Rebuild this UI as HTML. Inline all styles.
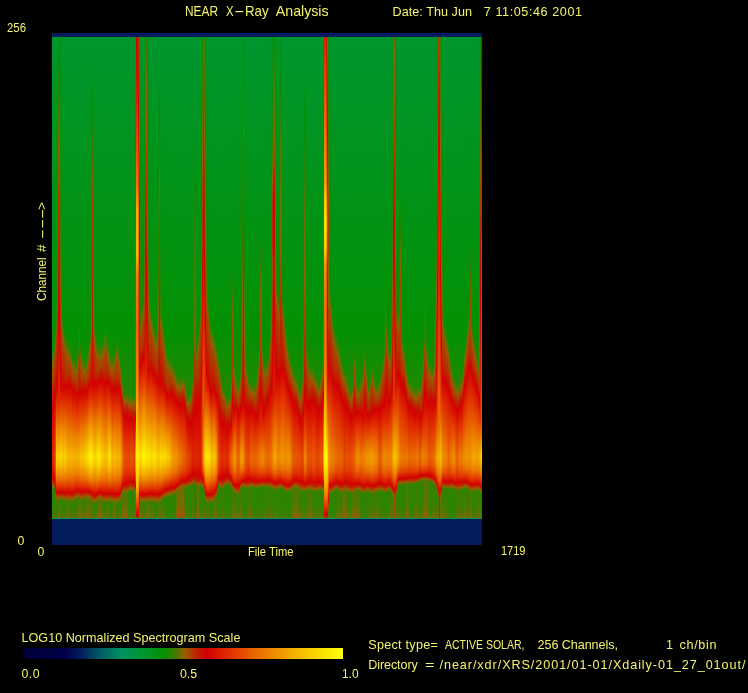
<!DOCTYPE html>
<html><head><meta charset="utf-8"><title>NEAR X-Ray Analysis</title>
<style>
html,body{margin:0;padding:0;background:#000}
body{width:748px;height:693px;position:relative;overflow:hidden;font-family:"Liberation Sans",sans-serif;color:#f4f46c}
.g{position:absolute;left:0;top:0;width:0;height:0;white-space:pre}
.t{position:absolute;white-space:pre;line-height:1;display:block}
#plot{position:absolute;left:52px;top:33px;width:430px;height:512px;display:flex;overflow:hidden}
#plot i{display:block;flex:0 0 1px;width:1px;height:512px}
#cb{position:absolute;left:22.5px;top:648px;width:320.5px;height:11px;background:linear-gradient(90deg,rgb(0,0,55) 0.0%,rgb(0,0,75) 13.0%,rgb(2,28,92) 18.0%,rgb(0,90,100) 24.0%,rgb(0,145,95) 31.0%,rgb(0,150,50) 37.0%,rgb(3,145,4) 44.0%,rgb(72,122,0) 47.8%,rgb(150,95,0) 50.5%,rgb(190,35,0) 54.0%,rgb(210,0,0) 57.5%,rgb(225,50,0) 65.0%,rgb(235,120,0) 75.0%,rgb(245,178,0) 85.0%,rgb(252,232,0) 95.0%,rgb(255,255,20) 100.0%)}
</style></head><body>
<div id="plot">
<i style="background:linear-gradient(#021c5c 0.5px,#021c5c 3.5px,#00962f 4.5px,#039104 296.5px,#0d8e03 318.5px,#457b00 326.5px,#936000 333.5px,#a64700 337.5px,#ac3e00 347.5px,#bf2100 354.5px,#d20000 375.5px,#dd2400 423.5px,#db1c00 432.5px,#d10200 443.5px,#be2300 448.5px,#ad3d00 450.5px,#a14e00 451.5px,#896400 452.5px,#607200 453.5px,#3d7e01 454.5px,#2d8302 455.5px,#2d8302 478.5px,#3e7d01 484.5px,#00934c 485.5px,#021c5c 486.5px,#021c5c 511.5px)"></i>
<i style="background:linear-gradient(#021c5c 0.5px,#021c5c 3.5px,#00962f 4.5px,#039104 296.5px,#0c8e03 315.5px,#0e8d03 316.5px,#4a7900 324.5px,#965e00 331.5px,#a74500 335.5px,#b03800 349.5px,#be2300 354.5px,#d20100 372.5px,#df2c00 423.5px,#dc2100 434.5px,#d30200 444.5px,#d00400 445.5px,#bf2100 449.5px,#a24d00 452.5px,#8c6200 453.5px,#417c00 455.5px,#2d8302 456.5px,#2d8302 476.5px,#447b00 484.5px,#00934c 485.5px,#021c5c 486.5px,#021c5c 511.5px)"></i>
<i style="background:linear-gradient(#021c5c 0.5px,#021c5c 3.5px,#00962f 4.5px,#049104 295.5px,#0a8f04 306.5px,#477a00 315.5px,#906100 322.5px,#a74500 327.5px,#ab3f00 335.5px,#b53000 345.5px,#d20000 366.5px,#e33f00 423.5px,#e23b00 429.5px,#e13200 434.5px,#db1f00 440.5px,#d30300 446.5px,#d00300 447.5px,#c11e00 450.5px,#b92b00 451.5px,#a05000 453.5px,#896300 454.5px,#417c00 456.5px,#2d8302 457.5px,#2d8302 473.5px,#527600 484.5px,#00934c 485.5px,#021c5c 486.5px,#021c5c 511.5px)"></i>
<i style="background:linear-gradient(#021c5c 0.5px,#021c5c 3.5px,#00962f 4.5px,#01941e 97.5px,#029211 217.5px,#039104 278.5px,#108d03 295.5px,#497a00 304.5px,#975e00 312.5px,#a64800 316.5px,#b03800 329.5px,#ca0e00 354.5px,#d20000 359.5px,#e13200 391.5px,#e86000 423.5px,#e75900 431.5px,#e44900 438.5px,#df2a00 446.5px,#d10100 454.5px,#c01f00 457.5px,#9d5400 460.5px,#896300 461.5px,#4a7900 463.5px,#368001 464.5px,#2d8302 465.5px,#2d8302 474.5px,#4c7900 484.5px,#00934c 485.5px,#021c5c 486.5px,#021c5c 511.5px)"></i>
<i style="background:linear-gradient(#021c5c 0.5px,#021c5c 3.5px,#00962e 4.5px,#02920c 211.5px,#039104 241.5px,#368001 289.5px,#467b00 292.5px,#975d00 301.5px,#a74500 306.5px,#af3900 318.5px,#d20000 354.5px,#e13200 370.5px,#eb7700 390.5px,#fad600 423.5px,#f9ce00 427.5px,#f6be00 432.5px,#ef9100 441.5px,#eb7800 445.5px,#e13400 453.5px,#d40700 458.5px,#d00300 459.5px,#c02000 461.5px,#a24d00 463.5px,#975e00 464.5px,#447b00 467.5px,#328101 468.5px,#2d8302 469.5px,#2d8302 478.5px,#3d7e01 484.5px,#00934c 485.5px,#021c5c 486.5px,#021c5c 511.5px)"></i>
<i style="background:linear-gradient(#021c5c 0.5px,#021c5c 3.5px,#019526 4.5px,#039104 132.5px,#298402 157.5px,#3c7e01 217.5px,#4f7700 232.5px,#965f00 266.5px,#be2300 308.5px,#d20000 347.5px,#d60d00 359.5px,#e13300 371.5px,#eb7700 391.5px,#f9d200 423.5px,#f8ca00 427.5px,#f6ba00 432.5px,#e80 442.5px,#e75f00 448.5px,#e13400 453.5px,#d20100 459.5px,#c21d00 461.5px,#a54800 463.5px,#9a5900 464.5px,#846500 465.5px,#4a7900 467.5px,#387f01 468.5px,#2d8302 469.5px,#2d8302 474.5px,#4d7800 484.5px,#00934c 485.5px,#021c5c 486.5px,#021c5c 511.5px)"></i>
<i style="background:linear-gradient(#021c5c 0.5px,#021c5c 3.5px,#029313 4.5px,#039104 30.5px,#487a00 78.5px,#936000 117.5px,#9d5500 148.5px,#ad3d00 157.5px,#b62f00 203.5px,#be2300 217.5px,#d20000 277.5px,#d30300 286.5px,#de2900 369.5px,#eb7a00 393.5px,#f9ce00 423.5px,#f6b700 432.5px,#ee8b00 441.5px,#ea7300 445.5px,#e13200 453.5px,#d40700 458.5px,#d00300 459.5px,#c01f00 461.5px,#a44a00 463.5px,#995b00 464.5px,#487a00 467.5px,#507700 473.5px,#856500 484.5px,#00934c 485.5px,#021c5c 486.5px,#021c5c 511.5px)"></i>
<i style="background:linear-gradient(#021c5c 0.5px,#021c5c 3.5px,#029312 4.5px,#049104 28.5px,#497a00 74.5px,#866400 104.5px,#995b00 116.5px,#a24d00 151.5px,#ad3d00 157.5px,#b43300 191.5px,#be2300 211.5px,#d20000 273.5px,#d60d00 305.5px,#df2a00 369.5px,#eb7900 392.5px,#f9d100 423.5px,#f8c900 427.5px,#f6b900 432.5px,#ef8c00 441.5px,#e86400 447.5px,#e13100 453.5px,#d30500 458.5px,#ce0700 459.5px,#be2300 461.5px,#ad3c00 462.5px,#926000 464.5px,#587400 466.5px,#4c7900 467.5px,#547600 473.5px,#896300 484.5px,#00934c 485.5px,#021c5c 486.5px,#021c5c 511.5px)"></i>
<i style="background:linear-gradient(#021c5c 0.5px,#021c5c 3.5px,#019423 4.5px,#039104 99.5px,#1b8903 148.5px,#298402 157.5px,#2f8201 177.5px,#487a00 205.5px,#5b7300 217.5px,#965f00 247.5px,#be2300 293.5px,#d20000 335.5px,#d60d00 358.5px,#e13400 370.5px,#eb7900 390.5px,#fad800 423.5px,#f9d000 427.5px,#f7bf00 432.5px,#ef9100 441.5px,#e96800 447.5px,#e13300 453.5px,#d40500 458.5px,#ce0700 459.5px,#c61500 460.5px,#bd2500 461.5px,#ac3e00 462.5px,#8f6100 464.5px,#557500 466.5px,#3e7d01 467.5px,#318201 468.5px,#368001 473.5px,#487a00 479.5px,#607200 484.5px,#00934c 485.5px,#021c5c 486.5px,#021c5c 511.5px)"></i>
<i style="background:linear-gradient(#021c5c 0.5px,#021c5c 3.5px,#00952d 4.5px,#039104 221.5px,#338101 266.5px,#487a00 282.5px,#587500 289.5px,#965f00 296.5px,#a74500 301.5px,#ae3b00 313.5px,#d20100 352.5px,#e13300 369.5px,#eb7a00 390.5px,#fad600 423.5px,#f9ce00 427.5px,#f6bd00 432.5px,#ef9000 441.5px,#e96700 447.5px,#e13300 453.5px,#d40600 458.5px,#cf0600 459.5px,#be2200 461.5px,#ae3b00 462.5px,#936000 464.5px,#597400 466.5px,#407d00 467.5px,#2e8302 468.5px,#2d8302 474.5px,#4d7800 484.5px,#00934c 485.5px,#021c5c 486.5px,#021c5c 511.5px)"></i>
<i style="background:linear-gradient(#021c5c 0.5px,#021c5c 3.5px,#00962e 4.5px,#029210 216.5px,#039104 264.5px,#168b03 286.5px,#477a00 294.5px,#916100 302.5px,#a64700 307.5px,#b03700 321.5px,#cc0a00 350.5px,#d20100 353.5px,#e13300 370.5px,#eb7900 392.5px,#f8cc00 423.5px,#f5b500 432.5px,#ee8a00 441.5px,#ea7100 445.5px,#e13100 453.5px,#d40600 458.5px,#d00400 459.5px,#c01f00 461.5px,#a44b00 463.5px,#985c00 464.5px,#467b00 467.5px,#348101 468.5px,#2d8302 469.5px,#2d8302 477.5px,#407d00 484.5px,#00934c 485.5px,#021c5c 486.5px,#021c5c 511.5px)"></i>
<i style="background:linear-gradient(#021c5c 0.5px,#021c5c 3.5px,#00962f 4.5px,#039104 286.5px,#088f04 291.5px,#497a00 301.5px,#965f00 309.5px,#a54900 313.5px,#af3a00 325.5px,#c71400 348.5px,#d20000 353.5px,#e13200 370.5px,#eb7900 392.5px,#f8cd00 423.5px,#f5b600 432.5px,#ed8600 442.5px,#e75c00 448.5px,#e13400 453.5px,#d20100 459.5px,#c31a00 461.5px,#9d5500 464.5px,#8b6300 465.5px,#527700 467.5px,#3c7e01 468.5px,#2d8302 469.5px,#2d8302 480.5px,#378001 484.5px,#00934c 485.5px,#021c5c 486.5px,#021c5c 511.5px)"></i>
<i style="background:linear-gradient(#021c5c 0.5px,#021c5c 3.5px,#00962f 4.5px,#039104 295.5px,#059004 296.5px,#477a00 306.5px,#965f00 314.5px,#a54800 318.5px,#ae3a00 329.5px,#c21c00 346.5px,#d20000 353.5px,#e13400 370.5px,#eb7a00 391.5px,#f9d200 423.5px,#f6ba00 432.5px,#ee8a00 442.5px,#e86100 448.5px,#e02f00 454.5px,#d30400 459.5px,#cd0800 460.5px,#bd2500 462.5px,#ad3d00 463.5px,#936000 465.5px,#5a7400 467.5px,#427c00 468.5px,#308201 469.5px,#2d8302 479.5px,#3c7e01 484.5px,#00934c 485.5px,#021c5c 486.5px,#021c5c 511.5px)"></i>
<i style="background:linear-gradient(#021c5c 0.5px,#021c5c 3.5px,#00962f 4.5px,#049104 299.5px,#069004 300.5px,#4b7900 310.5px,#926000 317.5px,#a44a00 321.5px,#a74500 322.5px,#b13700 334.5px,#c02000 345.5px,#d20100 353.5px,#e13400 370.5px,#eb7900 391.5px,#f9cf00 423.5px,#f6b800 432.5px,#e80 442.5px,#e86000 448.5px,#e02e00 454.5px,#d30300 459.5px,#cd0900 460.5px,#bd2500 462.5px,#ad3d00 463.5px,#936000 465.5px,#5a7400 467.5px,#427c00 468.5px,#308201 469.5px,#2f8201 473.5px,#487a00 481.5px,#567500 484.5px,#00934c 485.5px,#021c5c 486.5px,#021c5c 511.5px)"></i>
<i style="background:linear-gradient(#021c5c 0.5px,#021c5c 3.5px,#00962f 4.5px,#01941e 96.5px,#069004 303.5px,#487a00 313.5px,#985c00 321.5px,#a74500 325.5px,#ad3d00 333.5px,#b92a00 343.5px,#d20100 353.5px,#e13300 371.5px,#eb7900 393.5px,#f8c700 423.5px,#f5b200 432.5px,#ed8400 442.5px,#e75c00 448.5px,#e13400 453.5px,#d20100 459.5px,#cc0b00 460.5px,#ba2900 462.5px,#9e5300 464.5px,#8e6200 465.5px,#557500 467.5px,#427c00 468.5px,#477a00 473.5px,#7b6800 484.5px,#00934c 485.5px,#021c5c 486.5px,#021c5c 511.5px)"></i>
<i style="background:linear-gradient(#021c5c 0.5px,#021c5c 3.5px,#00962f 4.5px,#039104 296.5px,#079004 306.5px,#447b00 315.5px,#965f00 323.5px,#9a5900 324.5px,#a64700 327.5px,#b53100 342.5px,#c02000 345.5px,#d10100 353.5px,#e13400 372.5px,#eb7800 395.5px,#f6bd00 423.5px,#f4aa00 432.5px,#eb7a00 443.5px,#e13200 453.5px,#d20000 459.5px,#c31b00 461.5px,#9c5500 464.5px,#8a6300 465.5px,#517700 467.5px,#457b00 468.5px,#4b7900 473.5px,#806700 484.5px,#00934c 485.5px,#021c5c 486.5px,#021c5c 511.5px)"></i>
<i style="background:linear-gradient(#021c5c 0.5px,#021c5c 3.5px,#00962f 4.5px,#039104 296.5px,#088f04 307.5px,#0a8f04 308.5px,#4a7900 317.5px,#956000 324.5px,#9a5a00 325.5px,#a74500 329.5px,#b13600 340.5px,#c02000 344.5px,#d10200 352.5px,#d20100 353.5px,#e13300 372.5px,#eb7900 397.5px,#f5b500 423.5px,#f3a400 432.5px,#ec7c00 442.5px,#e75d00 447.5px,#e03000 453.5px,#d20100 459.5px,#c21b00 461.5px,#9c5600 464.5px,#896300 465.5px,#507700 467.5px,#3b7e01 468.5px,#387f01 469.5px,#3c7e01 473.5px,#487a00 477.5px,#6a6e00 484.5px,#00934c 485.5px,#021c5c 486.5px,#021c5c 511.5px)"></i>
<i style="background:linear-gradient(#021c5c 0.5px,#021c5c 3.5px,#00962f 4.5px,#039104 296.5px,#088f04 308.5px,#457b00 317.5px,#975e00 325.5px,#a74600 329.5px,#ae3b00 338.5px,#c02000 343.5px,#d20100 352.5px,#e13200 371.5px,#eb7900 397.5px,#f5b300 423.5px,#f2a300 432.5px,#ec7c00 442.5px,#e54f00 449.5px,#e13100 453.5px,#d20000 459.5px,#b92a00 462.5px,#9e5400 464.5px,#8d6200 465.5px,#547600 467.5px,#3e7d01 468.5px,#2e8302 469.5px,#328101 473.5px,#477a00 480.5px,#5a7400 484.5px,#00934c 485.5px,#021c5c 486.5px,#021c5c 511.5px)"></i>
<i style="background:linear-gradient(#021c5c 0.5px,#021c5c 3.5px,#00962f 4.5px,#039104 296.5px,#0a8f04 311.5px,#487a00 320.5px,#946000 327.5px,#995a00 328.5px,#a64800 331.5px,#ad3d00 339.5px,#c02000 344.5px,#d10100 352.5px,#d20200 353.5px,#e13100 371.5px,#eb7800 396.5px,#f6b600 423.5px,#f3a600 432.5px,#eb7900 443.5px,#e13300 453.5px,#d30200 459.5px,#cd0900 460.5px,#bd2500 462.5px,#ad3c00 463.5px,#946000 465.5px,#437c00 468.5px,#318201 469.5px,#338101 473.5px,#487a00 480.5px,#5b7300 484.5px,#00934c 485.5px,#021c5c 486.5px,#021c5c 511.5px)"></i>
<i style="background:linear-gradient(#021c5c 0.5px,#021c5c 3.5px,#00962f 4.5px,#039104 296.5px,#0c8e03 316.5px,#0e8d03 317.5px,#4a7900 325.5px,#975e00 332.5px,#a74500 336.5px,#ab3f00 342.5px,#bf2000 347.5px,#d20000 355.5px,#e13200 373.5px,#eb7900 397.5px,#f6ba00 423.5px,#f3a800 432.5px,#eb7b00 443.5px,#e13500 453.5px,#d30500 459.5px,#cf0600 460.5px,#c02000 462.5px,#a44a00 464.5px,#995b00 465.5px,#497a00 468.5px,#378001 469.5px,#3a7f01 473.5px,#467b00 477.5px,#667000 484.5px,#00934c 485.5px,#021c5c 486.5px,#021c5c 511.5px)"></i>
<i style="background:linear-gradient(#021c5c 0.5px,#021c5c 3.5px,#00962f 4.5px,#039104 296.5px,#0f8d03 322.5px,#4b7900 330.5px,#916100 336.5px,#985b00 337.5px,#a64800 340.5px,#aa4100 345.5px,#bf2200 350.5px,#d20000 358.5px,#e13400 376.5px,#eb7800 398.5px,#f6b700 423.5px,#f3a600 432.5px,#eb7a00 443.5px,#e13500 453.5px,#d40600 459.5px,#d00400 460.5px,#c11e00 462.5px,#9a5900 465.5px,#856500 466.5px,#4d7800 468.5px,#397f01 469.5px,#397f01 472.5px,#477a00 477.5px,#686f00 484.5px,#00934c 485.5px,#021c5c 486.5px,#021c5c 511.5px)"></i>
<i style="background:linear-gradient(#021c5c 0.5px,#021c5c 3.5px,#00962f 4.5px,#039104 296.5px,#108d03 324.5px,#457b00 331.5px,#955f00 338.5px,#a74500 342.5px,#aa4100 346.5px,#bf2100 351.5px,#d20100 359.5px,#e13100 376.5px,#eb7700 399.5px,#f5b300 423.5px,#f2a300 432.5px,#ec7d00 442.5px,#e55100 449.5px,#e13300 453.5px,#d30300 459.5px,#ce0800 460.5px,#bf2200 462.5px,#a24d00 464.5px,#975d00 465.5px,#467b00 468.5px,#348101 469.5px,#2f8201 470.5px,#338101 473.5px,#487a00 480.5px,#5b7300 484.5px,#00934c 485.5px,#021c5c 486.5px,#021c5c 511.5px)"></i>
<i style="background:linear-gradient(#021c5c 0.5px,#021c5c 3.5px,#00962f 4.5px,#039104 296.5px,#0f8d03 323.5px,#4c7900 331.5px,#926100 337.5px,#995b00 338.5px,#a64700 341.5px,#ab3f00 345.5px,#bd2400 349.5px,#d20100 358.5px,#e13300 376.5px,#eb7900 400.5px,#f5b000 423.5px,#f2a000 432.5px,#eb7a00 442.5px,#e23600 452.5px,#d40600 458.5px,#d00300 459.5px,#c11e00 461.5px,#9a5900 464.5px,#846500 465.5px,#4b7900 467.5px,#387f01 468.5px,#2d8302 469.5px,#308201 473.5px,#487a00 481.5px,#577500 484.5px,#00934c 485.5px,#021c5c 486.5px,#021c5c 511.5px)"></i>
<i style="background:linear-gradient(#021c5c 0.5px,#021c5c 3.5px,#00962f 4.5px,#039104 296.5px,#108d03 325.5px,#447b00 332.5px,#946000 339.5px,#a74500 343.5px,#aa4000 346.5px,#bd2500 350.5px,#d20100 359.5px,#e13300 377.5px,#eb7800 400.5px,#f5b000 423.5px,#f2a000 432.5px,#eb7700 442.5px,#e13100 452.5px,#d10100 458.5px,#c21c00 460.5px,#9b5800 463.5px,#856500 464.5px,#4b7900 466.5px,#378001 467.5px,#2e8301 468.5px,#338101 473.5px,#487a00 480.5px,#5b7300 484.5px,#00934c 485.5px,#021c5c 486.5px,#021c5c 511.5px)"></i>
<i style="background:linear-gradient(#021c5c 0.5px,#021c5c 3.5px,#00962f 4.5px,#039104 296.5px,#118c03 327.5px,#487a00 334.5px,#985c00 341.5px,#a64800 344.5px,#aa4000 349.5px,#bd2500 353.5px,#d10100 361.5px,#e13200 378.5px,#eb7700 400.5px,#f5b300 423.5px,#f3a400 431.5px,#ec7c00 441.5px,#e54d00 448.5px,#d30300 457.5px,#cd0a00 458.5px,#bb2700 460.5px,#9e5300 462.5px,#8c6200 463.5px,#517700 465.5px,#3b7e01 466.5px,#328101 467.5px,#378001 473.5px,#497a00 479.5px,#617100 484.5px,#00934c 485.5px,#021c5c 486.5px,#021c5c 511.5px)"></i>
<i style="background:linear-gradient(#021c5c 0.5px,#021c5c 3.5px,#00962f 4.5px,#039104 296.5px,#0f8d03 323.5px,#118c03 324.5px,#477a00 331.5px,#975e00 338.5px,#a74500 342.5px,#b23400 352.5px,#c02000 355.5px,#d10100 362.5px,#e13200 379.5px,#eb7900 401.5px,#f5b300 423.5px,#f3a400 431.5px,#ec7b00 441.5px,#e54b00 448.5px,#d20100 457.5px,#c31b00 459.5px,#9b5800 462.5px,#846500 463.5px,#487a00 465.5px,#387f01 466.5px,#3e7d01 473.5px,#4b7900 477.5px,#6d6d00 484.5px,#00934c 485.5px,#021c5c 486.5px,#021c5c 511.5px)"></i>
<i style="background:linear-gradient(#021c5c 0.5px,#021c5c 3.5px,#00962f 4.5px,#039104 296.5px,#0a8f04 312.5px,#0d8e03 313.5px,#477a00 321.5px,#936000 328.5px,#a54800 332.5px,#af3900 342.5px,#bf2100 353.5px,#d20000 361.5px,#e13200 378.5px,#eb7700 400.5px,#f5b100 423.5px,#f2a300 431.5px,#ec7b00 441.5px,#e54c00 448.5px,#d30300 457.5px,#cc0a00 458.5px,#bb2700 460.5px,#9e5300 462.5px,#8c6200 463.5px,#517700 465.5px,#437c00 466.5px,#497a00 473.5px,#7e6700 484.5px,#00934c 485.5px,#021c5c 486.5px,#021c5c 511.5px)"></i>
<i style="background:linear-gradient(#021c5c 0.5px,#021c5c 3.5px,#00962f 4.5px,#039105 292.5px,#497a00 303.5px,#975e00 311.5px,#a54800 315.5px,#b03800 328.5px,#d20000 359.5px,#e13100 376.5px,#eb7900 399.5px,#f6b600 423.5px,#f5b100 427.5px,#f3a400 432.5px,#eb7a00 442.5px,#e13100 452.5px,#d40700 457.5px,#d10300 458.5px,#c11e00 460.5px,#995b00 463.5px,#627100 465.5px,#4c7900 466.5px,#557500 473.5px,#8a6300 484.5px,#00934c 485.5px,#021c5c 486.5px,#021c5c 511.5px)"></i>
<i style="background:linear-gradient(#021c5c 0.5px,#021c5c 3.5px,#00962f 4.5px,#039104 296.5px,#098f04 309.5px,#467b00 318.5px,#906100 325.5px,#a44a00 329.5px,#b03900 340.5px,#bf2000 351.5px,#d20100 359.5px,#e13100 375.5px,#eb7a00 397.5px,#f7c000 423.5px,#f6ba00 427.5px,#f4ac00 432.5px,#ec7f00 442.5px,#e65600 448.5px,#e02d00 453.5px,#d30300 458.5px,#cd0900 459.5px,#bc2600 461.5px,#9f5200 463.5px,#8f6100 464.5px,#557500 466.5px,#4d7800 467.5px,#567500 473.5px,#8b6300 484.5px,#00934c 485.5px,#021c5c 486.5px,#021c5c 511.5px)"></i>
<i style="background:linear-gradient(#021c5c 0.5px,#021c5c 3.5px,#00962f 4.5px,#039104 296.5px,#0e8d03 319.5px,#4a7900 327.5px,#975d00 334.5px,#a74500 338.5px,#b13700 348.5px,#be2200 351.5px,#d20000 359.5px,#e13200 375.5px,#eb7a00 396.5px,#f8c600 423.5px,#f5b100 432.5px,#ed8200 442.5px,#e65800 448.5px,#e03000 453.5px,#d30500 458.5px,#ce0600 459.5px,#bf2200 461.5px,#a24e00 463.5px,#965f00 464.5px,#5d7300 466.5px,#487a00 467.5px,#507700 473.5px,#856500 484.5px,#00934c 485.5px,#021c5c 486.5px,#021c5c 511.5px)"></i>
<i style="background:linear-gradient(#021c5c 0.5px,#021c5c 3.5px,#00962f 4.5px,#039104 296.5px,#0f8d03 323.5px,#4c7900 331.5px,#926000 337.5px,#995b00 338.5px,#a64700 341.5px,#aa4000 346.5px,#bf2100 351.5px,#d20100 359.5px,#e13200 375.5px,#eb7800 396.5px,#f7c300 423.5px,#f5b200 431.5px,#ec8100 442.5px,#e65700 448.5px,#e02f00 453.5px,#d30400 458.5px,#ce0700 459.5px,#be2200 461.5px,#a14f00 463.5px,#955f00 464.5px,#427c00 467.5px,#378001 468.5px,#3a7f01 472.5px,#487a00 477.5px,#696e00 484.5px,#00934c 485.5px,#021c5c 486.5px,#021c5c 511.5px)"></i>
<i style="background:linear-gradient(#021c5c 0.5px,#021c5c 3.5px,#00962f 4.5px,#039104 296.5px,#108d03 324.5px,#138c03 325.5px,#4b7900 332.5px,#916100 338.5px,#995b00 339.5px,#a64700 342.5px,#aa4100 345.5px,#bf2100 350.5px,#d20000 358.5px,#e13300 375.5px,#eb7800 396.5px,#f7c100 423.5px,#f5b100 431.5px,#ec7f00 442.5px,#e65600 448.5px,#e02d00 453.5px,#d30200 458.5px,#cc0a00 459.5px,#bb2700 461.5px,#ab4000 462.5px,#8e6200 464.5px,#547600 466.5px,#3d7e01 467.5px,#2d8302 468.5px,#308201 473.5px,#487a00 481.5px,#577500 484.5px,#00934c 485.5px,#021c5c 486.5px,#021c5c 511.5px)"></i>
<i style="background:linear-gradient(#021c5c 0.5px,#021c5c 3.5px,#00962f 4.5px,#039104 296.5px,#108d03 325.5px,#477a00 332.5px,#975d00 339.5px,#a54900 342.5px,#a94200 345.5px,#bf2100 350.5px,#d20100 358.5px,#e13300 374.5px,#eb7800 394.5px,#f8ca00 423.5px,#f7c300 427.5px,#f5b300 432.5px,#ed8200 442.5px,#e86600 446.5px,#e13500 452.5px,#d20000 458.5px,#c21b00 460.5px,#9b5800 463.5px,#856500 464.5px,#4a7900 466.5px,#378001 467.5px,#328101 468.5px,#368001 473.5px,#497a00 479.5px,#617100 484.5px,#00934c 485.5px,#021c5c 486.5px,#021c5c 511.5px)"></i>
<i style="background:linear-gradient(#021c5c 0.5px,#021c5c 3.5px,#00962f 4.5px,#039104 296.5px,#118c03 326.5px,#477a00 333.5px,#975d00 340.5px,#a54900 343.5px,#aa4100 347.5px,#be2300 351.5px,#d10200 358.5px,#d30200 359.5px,#e13100 373.5px,#eb7800 392.5px,#fad700 423.5px,#f9cf00 427.5px,#f6bd00 432.5px,#ef8f00 441.5px,#e86400 447.5px,#e02f00 453.5px,#d20000 458.5px,#c11e00 460.5px,#a34b00 462.5px,#985c00 463.5px,#447b00 466.5px,#3c7e01 467.5px,#3f7d01 472.5px,#477a00 475.5px,#726c00 484.5px,#00934c 485.5px,#021c5c 486.5px,#021c5c 511.5px)"></i>
<i style="background:linear-gradient(#021c5c 0.5px,#021c5c 3.5px,#00962f 4.5px,#039104 296.5px,#108d03 324.5px,#128c03 325.5px,#487a00 332.5px,#985c00 339.5px,#a54800 342.5px,#aa4100 347.5px,#bd2400 351.5px,#d10200 358.5px,#d30200 359.5px,#e13200 373.5px,#eb7900 392.5px,#fad900 423.5px,#f9d100 427.5px,#f7bf00 432.5px,#ef9000 441.5px,#e96d00 446.5px,#e02e00 453.5px,#d10200 458.5px,#c01f00 460.5px,#a24d00 462.5px,#965f00 463.5px,#5b7400 465.5px,#477a00 466.5px,#507700 473.5px,#856500 484.5px,#00934c 485.5px,#021c5c 486.5px,#021c5c 511.5px)"></i>
<i style="background:linear-gradient(#021c5c 0.5px,#021c5c 3.5px,#00962f 4.5px,#039104 296.5px,#0e8d03 319.5px,#477a00 327.5px,#965f00 334.5px,#a74500 338.5px,#ad3d00 345.5px,#be2200 349.5px,#d10200 356.5px,#d30200 357.5px,#e13400 372.5px,#eb7900 391.5px,#fada00 423.5px,#f9d200 427.5px,#f7c000 432.5px,#ef9100 441.5px,#ea6e00 446.5px,#e02f00 453.5px,#d10200 458.5px,#c02000 460.5px,#a14e00 462.5px,#955f00 463.5px,#5b7300 465.5px,#657000 473.5px,#985c00 484.5px,#00934c 485.5px,#021c5c 486.5px,#021c5c 511.5px)"></i>
<i style="background:linear-gradient(#021c5c 0.5px,#021c5c 3.5px,#00962f 4.5px,#039104 296.5px,#0a8f04 312.5px,#487a00 321.5px,#946000 328.5px,#9a5a00 329.5px,#a64700 332.5px,#b03700 343.5px,#be2400 346.5px,#d10200 353.5px,#d30200 354.5px,#e13100 368.5px,#eb7800 387.5px,#fce600 423.5px,#f9cf00 431.5px,#f5b300 437.5px,#f19a00 441.5px,#eb7700 446.5px,#e13400 453.5px,#d30200 458.5px,#c11d00 460.5px,#a24c00 462.5px,#975e00 463.5px,#5d7300 465.5px,#647000 473.5px,#975d00 484.5px,#00934c 485.5px,#021c5c 486.5px,#021c5c 511.5px)"></i>
<i style="background:linear-gradient(#021c5c 0.5px,#021c5c 3.5px,#00962f 4.5px,#039104 294.5px,#088f04 304.5px,#447b00 313.5px,#955f00 321.5px,#9a5900 322.5px,#a74500 326.5px,#ac3e00 333.5px,#b72d00 342.5px,#d20100 351.5px,#e13100 365.5px,#eb7900 384.5px,#fce600 418.5px,#fdf209 423.5px,#fbe000 430.5px,#f4ab00 440.5px,#eb7800 447.5px,#e13100 454.5px,#d40600 458.5px,#ce0700 459.5px,#c41800 460.5px,#a54900 462.5px,#995a00 463.5px,#816600 464.5px,#477a00 466.5px,#437c00 467.5px,#497a00 473.5px,#7e6700 484.5px,#00934c 485.5px,#021c5c 486.5px,#021c5c 511.5px)"></i>
<i style="background:linear-gradient(#021c5c 0.5px,#021c5c 3.5px,#00962f 4.5px,#01941e 97.5px,#029210 217.5px,#039104 274.5px,#168b03 297.5px,#497a00 305.5px,#975e00 313.5px,#a64800 317.5px,#ae3a00 328.5px,#c01f00 343.5px,#d10200 349.5px,#d30200 350.5px,#e13200 364.5px,#eb7a00 383.5px,#fce500 417.5px,#fef40b 423.5px,#fdec04 427.5px,#fbde00 431.5px,#f3a800 441.5px,#ea7300 448.5px,#e23600 454.5px,#d20100 459.5px,#bf2100 461.5px,#ad3c00 462.5px,#906100 464.5px,#567500 466.5px,#3f7d01 467.5px,#358001 468.5px,#387f01 472.5px,#467b00 477.5px,#666f00 484.5px,#00934c 485.5px,#021c5c 486.5px,#021c5c 511.5px)"></i>
<i style="background:linear-gradient(#021c5c 0.5px,#021c5c 3.5px,#00962f 4.5px,#039104 157.5px,#1d8803 209.5px,#3f7d01 247.5px,#4d7800 258.5px,#965f00 295.5px,#9e5200 305.5px,#a74500 308.5px,#ae3b00 319.5px,#c81100 346.5px,#d20000 350.5px,#e13300 365.5px,#eb7a00 384.5px,#fce800 419.5px,#fdf108 423.5px,#fbe000 430.5px,#f4ae00 440.5px,#eb7600 448.5px,#e13100 455.5px,#d40800 459.5px,#d00400 460.5px,#bd2500 462.5px,#aa4100 463.5px,#8d6200 465.5px,#547600 467.5px,#3e7d01 468.5px,#3e7d01 472.5px,#467b00 475.5px,#706c00 484.5px,#00934c 485.5px,#021c5c 486.5px,#021c5c 511.5px)"></i>
<i style="background:linear-gradient(#021c5c 0.5px,#021c5c 3.5px,#00962f 4.5px,#00952b 26.5px,#049104 77.5px,#487a00 116.5px,#955f00 147.5px,#a74600 166.5px,#ae3b00 198.5px,#be2300 242.5px,#d20000 322.5px,#d50b00 354.5px,#e13200 366.5px,#eb7800 385.5px,#fce901 423.5px,#fbe200 427.5px,#f9d100 432.5px,#f19e00 442.5px,#eb7500 448.5px,#e13500 455.5px,#d40500 460.5px,#ce0700 461.5px,#c61600 462.5px,#bc2700 463.5px,#aa4100 464.5px,#9e5300 465.5px,#8e6200 466.5px,#567500 468.5px,#467b00 469.5px,#4b7900 473.5px,#806600 484.5px,#00934c 485.5px,#021c5c 486.5px,#021c5c 511.5px)"></i>
<i style="background:linear-gradient(#021c5c 0.5px,#021c5c 3.5px,#00962f 4.5px,#00952b 26.5px,#039104 137.5px,#188a03 166.5px,#298402 204.5px,#417c00 233.5px,#507700 245.5px,#8c6300 278.5px,#975e00 284.5px,#ba2900 327.5px,#cb0c00 347.5px,#d10100 350.5px,#e13400 367.5px,#eb7700 387.5px,#fadc00 423.5px,#f9d200 428.5px,#f7c100 433.5px,#ef9000 443.5px,#e96800 449.5px,#e23600 455.5px,#d20100 461.5px,#c31b00 463.5px,#b72d00 464.5px,#a74500 465.5px,#9c5500 466.5px,#8b6300 467.5px,#547600 469.5px,#3f7d01 470.5px,#368001 471.5px,#477a00 478.5px,#647000 484.5px,#00934c 485.5px,#021c5c 486.5px,#021c5c 511.5px)"></i>
<i style="background:linear-gradient(#021c5c 0.5px,#021c5c 3.5px,#00962f 4.5px,#01941e 97.5px,#02920f 216.5px,#039104 264.5px,#1d8802 293.5px,#497a00 300.5px,#965f00 308.5px,#a74500 313.5px,#ae3b00 323.5px,#c31a00 343.5px,#d20100 350.5px,#e13200 367.5px,#eb7900 389.5px,#f9d300 423.5px,#f8ca00 428.5px,#f6ba00 433.5px,#ee8b00 443.5px,#e86400 449.5px,#e13500 455.5px,#d30300 461.5px,#cd0900 462.5px,#bd2400 464.5px,#ae3b00 465.5px,#965e00 467.5px,#477a00 470.5px,#368001 471.5px,#2d8302 472.5px,#2d8302 478.5px,#3f7d01 484.5px,#00934c 485.5px,#021c5c 486.5px,#021c5c 511.5px)"></i>
<i style="background:linear-gradient(#021c5c 0.5px,#021c5c 3.5px,#00962f 4.5px,#069004 297.5px,#457b00 307.5px,#946000 315.5px,#995a00 316.5px,#a74500 320.5px,#ad3c00 329.5px,#bd2500 341.5px,#d20000 350.5px,#e13200 367.5px,#eb7a00 389.5px,#fad500 423.5px,#f8cc00 428.5px,#f6bb00 433.5px,#ee8c00 443.5px,#e86500 449.5px,#e13500 455.5px,#d30200 461.5px,#cc0a00 462.5px,#bc2600 464.5px,#ac3e00 465.5px,#946000 467.5px,#457b00 470.5px,#348101 471.5px,#2d8302 472.5px,#2d8302 479.5px,#3c7e01 484.5px,#00934c 485.5px,#021c5c 486.5px,#021c5c 511.5px)"></i>
<i style="background:linear-gradient(#021c5c 0.5px,#021c5c 3.5px,#00962f 4.5px,#039104 296.5px,#079004 304.5px,#4b7900 314.5px,#936000 321.5px,#995b00 322.5px,#a74500 326.5px,#b43200 340.5px,#bf2100 343.5px,#d20100 351.5px,#e13300 367.5px,#eb7800 387.5px,#fbde00 423.5px,#f8c600 432.5px,#f09600 442.5px,#eb7800 447.5px,#e13500 455.5px,#d10200 461.5px,#c11e00 463.5px,#a44a00 465.5px,#995a00 466.5px,#836600 467.5px,#4c7900 469.5px,#397f01 470.5px,#2d8302 471.5px,#2e8302 473.5px,#467b00 481.5px,#547600 484.5px,#00934c 485.5px,#021c5c 486.5px,#021c5c 511.5px)"></i>
<i style="background:linear-gradient(#021c5c 0.5px,#021c5c 3.5px,#00962f 4.5px,#039104 296.5px,#088f04 308.5px,#467b00 317.5px,#985c00 325.5px,#a74500 329.5px,#af3900 339.5px,#bd2500 342.5px,#d20000 350.5px,#e13400 366.5px,#eb7800 385.5px,#fce700 423.5px,#fbdf00 427.5px,#f9ce00 432.5px,#f5b200 438.5px,#f19b00 442.5px,#ea7200 448.5px,#e13200 455.5px,#d30200 460.5px,#c31b00 462.5px,#a54800 464.5px,#9a5900 465.5px,#856500 466.5px,#4d7800 468.5px,#417c00 469.5px,#487a00 474.5px,#786900 484.5px,#00934c 485.5px,#021c5c 486.5px,#021c5c 511.5px)"></i>
<i style="background:linear-gradient(#021c5c 0.5px,#021c5c 3.5px,#00962f 4.5px,#039104 296.5px,#098f04 309.5px,#0b8e04 310.5px,#447b00 318.5px,#975e00 326.5px,#a74600 330.5px,#ac3e00 337.5px,#be2300 341.5px,#d20100 349.5px,#e13200 364.5px,#eb7900 384.5px,#fce600 420.5px,#fdec04 423.5px,#fce700 426.5px,#fad600 431.5px,#f2a300 441.5px,#ea7100 448.5px,#e23700 454.5px,#d30500 459.5px,#cd0800 460.5px,#c41800 461.5px,#b82c00 462.5px,#a64700 463.5px,#9b5800 464.5px,#866500 465.5px,#696f00 466.5px,#567500 467.5px,#5e7200 473.5px,#936000 484.5px,#00934c 485.5px,#021c5c 486.5px,#021c5c 511.5px)"></i>
<i style="background:linear-gradient(#021c5c 0.5px,#021c5c 3.5px,#00962f 4.5px,#039104 296.5px,#098f04 310.5px,#0c8e03 311.5px,#457b00 319.5px,#985d00 327.5px,#a74500 331.5px,#ab4000 336.5px,#bd2400 340.5px,#d20000 348.5px,#e13400 364.5px,#eb7a00 384.5px,#fceb03 423.5px,#fce600 426.5px,#fad500 431.5px,#f6bd00 436.5px,#f2a000 441.5px,#eb7500 447.5px,#e13200 454.5px,#d10200 459.5px,#bf2200 461.5px,#ad3d00 462.5px,#906100 464.5px,#736b00 465.5px,#696f00 466.5px,#6f6c00 472.5px,#946000 480.5px,#9d5500 484.5px,#00934c 485.5px,#021c5c 486.5px,#021c5c 511.5px)"></i>
<i style="background:linear-gradient(#021c5c 0.5px,#021c5c 3.5px,#00962f 4.5px,#039104 296.5px,#098f04 310.5px,#4a7900 319.5px,#955f00 326.5px,#a64700 330.5px,#a94200 334.5px,#bf2200 339.5px,#d20000 347.5px,#e13100 363.5px,#eb7700 384.5px,#fbe300 423.5px,#f9cd00 431.5px,#f2a000 440.5px,#eb7800 446.5px,#e23800 453.5px,#d40700 458.5px,#cf0500 459.5px,#bd2400 461.5px,#ab3f00 462.5px,#8e6200 464.5px,#577500 466.5px,#607200 473.5px,#955f00 484.5px,#00934c 485.5px,#021c5c 486.5px,#021c5c 511.5px)"></i>
<i style="background:linear-gradient(#021c5c 0.5px,#021c5c 3.5px,#00962f 4.5px,#039104 296.5px,#088f04 308.5px,#477a00 317.5px,#916100 324.5px,#985c00 325.5px,#a74500 329.5px,#a94300 332.5px,#bf2100 338.5px,#d20100 346.5px,#e13300 364.5px,#eb7800 386.5px,#fad800 423.5px,#f9d000 427.5px,#f7bf00 432.5px,#ef8c00 442.5px,#e96a00 447.5px,#e23600 453.5px,#d10100 459.5px,#c11e00 461.5px,#a44a00 463.5px,#985b00 464.5px,#477a00 467.5px,#3c7e01 468.5px,#3f7d01 472.5px,#477a00 475.5px,#726c00 484.5px,#00934c 485.5px,#021c5c 486.5px,#021c5c 511.5px)"></i>
<i style="background:linear-gradient(#021c5c 0.5px,#021c5c 3.5px,#00962f 4.5px,#039104 296.5px,#079004 306.5px,#0b8e04 307.5px,#4a7900 316.5px,#946000 323.5px,#995a00 324.5px,#a74500 328.5px,#ad3d00 334.5px,#bd2400 338.5px,#d10100 347.5px,#e13100 365.5px,#eb7a00 389.5px,#f9cf00 423.5px,#f6b800 432.5px,#ee8900 442.5px,#e86000 448.5px,#e02f00 454.5px,#d30400 459.5px,#ce0700 460.5px,#bf2200 462.5px,#a24d00 464.5px,#975e00 465.5px,#457b00 468.5px,#378001 469.5px,#3a7f01 473.5px,#477a00 477.5px,#676f00 484.5px,#00934c 485.5px,#021c5c 486.5px,#021c5c 511.5px)"></i>
<i style="background:linear-gradient(#021c5c 0.5px,#021c5c 3.5px,#00962f 4.5px,#039104 296.5px,#079004 305.5px,#447b00 314.5px,#965f00 322.5px,#a64700 326.5px,#b13700 337.5px,#bd2500 340.5px,#d10100 349.5px,#e13100 367.5px,#eb7a00 391.5px,#f8cb00 423.5px,#f7c100 428.5px,#f5b200 433.5px,#ed8200 443.5px,#e96900 447.5px,#e13200 454.5px,#d20100 460.5px,#ba2900 463.5px,#ab4000 464.5px,#906100 466.5px,#417c00 469.5px,#3a7f01 470.5px,#477a00 476.5px,#6c6d00 484.5px,#00934c 485.5px,#021c5c 486.5px,#021c5c 511.5px)"></i>
<i style="background:linear-gradient(#021c5c 0.5px,#021c5c 3.5px,#00962f 4.5px,#059004 300.5px,#477a00 310.5px,#975e00 318.5px,#a64700 322.5px,#ad3c00 331.5px,#b82c00 340.5px,#d20100 351.5px,#e13200 369.5px,#eb7700 392.5px,#f7c500 423.5px,#f5b200 432.5px,#ed8100 443.5px,#e65300 450.5px,#e13400 454.5px,#d30300 460.5px,#ce0800 461.5px,#bf2200 463.5px,#a34c00 465.5px,#985d00 466.5px,#487a00 469.5px,#378001 470.5px,#318201 471.5px,#467b00 479.5px,#5c7300 484.5px,#00934c 485.5px,#021c5c 486.5px,#021c5c 511.5px)"></i>
<i style="background:linear-gradient(#021c5c 0.5px,#021c5c 3.5px,#00962f 4.5px,#039105 289.5px,#477a00 300.5px,#936000 308.5px,#a74500 313.5px,#ad3c00 323.5px,#c31a00 343.5px,#d20000 350.5px,#e13200 369.5px,#eb7700 393.5px,#f7be00 423.5px,#f4ad00 432.5px,#ec7f00 443.5px,#e55100 450.5px,#e13300 454.5px,#d30300 460.5px,#cd0900 461.5px,#be2300 463.5px,#a24d00 465.5px,#975e00 466.5px,#467b00 469.5px,#358001 470.5px,#2d8302 471.5px,#2e8302 473.5px,#537600 484.5px,#00934c 485.5px,#021c5c 486.5px,#021c5c 511.5px)"></i>
<i style="background:linear-gradient(#021c5c 0.5px,#021c5c 3.5px,#00962f 4.5px,#049104 298.5px,#457b00 308.5px,#946000 316.5px,#995a00 317.5px,#a74500 321.5px,#ad3d00 329.5px,#b72d00 338.5px,#d10100 349.5px,#e13100 368.5px,#eb7900 393.5px,#f7c000 423.5px,#f4ae00 432.5px,#ec7f00 443.5px,#e75e00 448.5px,#e13100 454.5px,#d20000 460.5px,#b92a00 463.5px,#aa4100 464.5px,#8f6200 466.5px,#577500 468.5px,#407d00 469.5px,#368001 470.5px,#397f01 473.5px,#487a00 478.5px,#657000 484.5px,#00934c 485.5px,#021c5c 486.5px,#021c5c 511.5px)"></i>
<i style="background:linear-gradient(#021c5c 0.5px,#021c5c 3.5px,#00962f 4.5px,#039104 296.5px,#079004 305.5px,#447b00 314.5px,#965f00 322.5px,#a64700 326.5px,#b13700 337.5px,#bd2500 340.5px,#d10100 349.5px,#e13100 367.5px,#eb7800 390.5px,#f8cc00 423.5px,#f5b600 432.5px,#ee8700 442.5px,#ea6f00 446.5px,#e03000 454.5px,#d40600 459.5px,#d00300 460.5px,#c11e00 462.5px,#9a5900 465.5px,#856500 466.5px,#4d7800 468.5px,#417c00 469.5px,#487a00 474.5px,#786a00 484.5px,#00934c 485.5px,#021c5c 486.5px,#021c5c 511.5px)"></i>
<i style="background:linear-gradient(#021c5c 0.5px,#021c5c 3.5px,#00962f 4.5px,#039104 296.5px,#098f04 310.5px,#487a00 319.5px,#936000 326.5px,#995b00 327.5px,#a74500 331.5px,#aa4000 336.5px,#bf2200 341.5px,#d20000 349.5px,#e13300 366.5px,#eb7900 387.5px,#fadc00 423.5px,#f9d400 427.5px,#f7c400 432.5px,#f09200 442.5px,#ea7200 447.5px,#e23600 454.5px,#d10100 460.5px,#c11e00 462.5px,#a44b00 464.5px,#995b00 465.5px,#487a00 468.5px,#3f7d00 469.5px,#467b00 474.5px,#756a00 484.5px,#00934c 485.5px,#021c5c 486.5px,#021c5c 511.5px)"></i>
<i style="background:linear-gradient(#021c5c 0.5px,#021c5c 3.5px,#00962f 4.5px,#039104 296.5px,#0b8e04 314.5px,#0d8e03 315.5px,#487a00 323.5px,#955f00 330.5px,#a64600 334.5px,#ab4000 338.5px,#bd2400 342.5px,#d20100 350.5px,#e13100 365.5px,#eb7800 385.5px,#fce800 423.5px,#fbe000 427.5px,#f9cf00 432.5px,#f19b00 442.5px,#ea7200 448.5px,#e13200 455.5px,#d30200 460.5px,#c21b00 462.5px,#a54900 464.5px,#9a5900 465.5px,#846500 466.5px,#4c7900 468.5px,#397f01 469.5px,#2d8302 470.5px,#2e8301 476.5px,#477a00 484.5px,#00934c 485.5px,#021c5c 486.5px,#021c5c 511.5px)"></i>
<i style="background:linear-gradient(#021c5c 0.5px,#021c5c 3.5px,#00962f 4.5px,#039104 296.5px,#0e8d03 319.5px,#108d03 320.5px,#447b00 327.5px,#926000 334.5px,#995b00 335.5px,#a64700 338.5px,#ab4000 341.5px,#be2400 345.5px,#d20000 353.5px,#e13100 368.5px,#eb7800 388.5px,#fbdf00 423.5px,#fad700 427.5px,#f8c600 432.5px,#f09500 442.5px,#e96d00 448.5px,#e03000 455.5px,#d30300 460.5px,#cc0a00 461.5px,#c41900 462.5px,#9d5500 465.5px,#8c6300 466.5px,#547600 468.5px,#2d8302 470.5px,#2e8302 484.5px,#00934c 485.5px,#021c5c 486.5px,#021c5c 511.5px)"></i>
<i style="background:linear-gradient(#021c5c 0.5px,#021c5c 3.5px,#00962f 4.5px,#039104 296.5px,#0f8d03 322.5px,#118c03 323.5px,#477a00 330.5px,#965e00 337.5px,#a44a00 340.5px,#a84500 342.5px,#bf2000 348.5px,#d20000 356.5px,#e13200 373.5px,#eb7900 395.5px,#f7c400 423.5px,#f5b100 432.5px,#ec8000 443.5px,#e96700 447.5px,#e13200 454.5px,#d20200 460.5px,#cc0a00 461.5px,#bc2600 463.5px,#ad3d00 464.5px,#946000 466.5px,#447b00 469.5px,#328101 470.5px,#2d8302 471.5px,#2d8302 480.5px,#397f01 484.5px,#00934c 485.5px,#021c5c 486.5px,#021c5c 511.5px)"></i>
<i style="background:linear-gradient(#021c5c 0.5px,#021c5c 3.5px,#00962f 4.5px,#039104 296.5px,#0f8d03 322.5px,#4c7900 330.5px,#916100 336.5px,#995b00 337.5px,#a64700 340.5px,#aa4000 343.5px,#bf2100 348.5px,#d20100 356.5px,#e13100 374.5px,#eb7800 398.5px,#f5b400 423.5px,#f3a500 432.5px,#eb7b00 443.5px,#e54f00 450.5px,#e13100 454.5px,#d30200 460.5px,#cd0900 461.5px,#be2200 463.5px,#a24c00 465.5px,#985d00 466.5px,#487a00 469.5px,#368001 470.5px,#2d8302 471.5px,#2f8201 474.5px,#507700 484.5px,#00934c 485.5px,#021c5c 486.5px,#021c5c 511.5px)"></i>
<i style="background:linear-gradient(#021c5c 0.5px,#021c5c 3.5px,#00962f 4.5px,#039104 296.5px,#0e8d03 320.5px,#108d03 321.5px,#457b00 328.5px,#946000 335.5px,#9a5a00 336.5px,#a74600 339.5px,#aa4100 343.5px,#bf2100 348.5px,#d20100 356.5px,#e13200 374.5px,#eb7700 397.5px,#f6b700 423.5px,#f3a700 432.5px,#ec7c00 443.5px,#e55000 450.5px,#e13300 454.5px,#d30400 460.5px,#ce0600 461.5px,#c02000 463.5px,#9a5900 466.5px,#846500 467.5px,#4e7800 469.5px,#527700 473.5px,#876400 484.5px,#00934c 485.5px,#021c5c 486.5px,#021c5c 511.5px)"></i>
<i style="background:linear-gradient(#021c5c 0.5px,#021c5c 3.5px,#00962f 4.5px,#039104 296.5px,#0d8e03 317.5px,#0f8d03 318.5px,#4b7900 326.5px,#975d00 333.5px,#a74500 337.5px,#ac3e00 343.5px,#bd2500 347.5px,#d20100 356.5px,#e13200 373.5px,#eb7700 395.5px,#f7c100 423.5px,#f4af00 432.5px,#ed8100 443.5px,#e96900 447.5px,#e23600 454.5px,#d40600 460.5px,#d00300 461.5px,#c21d00 463.5px,#9c5500 466.5px,#8b6300 467.5px,#706c00 468.5px,#5b7400 469.5px,#617100 473.5px,#965f00 484.5px,#00934c 485.5px,#021c5c 486.5px,#021c5c 511.5px)"></i>
<i style="background:linear-gradient(#021c5c 0.5px,#021c5c 3.5px,#00962f 4.5px,#039104 296.5px,#0b8e04 313.5px,#447b00 321.5px,#985d00 329.5px,#a74500 333.5px,#b23500 344.5px,#bf2200 347.5px,#d10100 355.5px,#e13300 373.5px,#eb7900 395.5px,#f7c200 423.5px,#f5b000 432.5px,#ed8200 443.5px,#e96a00 447.5px,#e23700 454.5px,#d10100 461.5px,#b92b00 464.5px,#aa4100 465.5px,#906100 467.5px,#427c00 470.5px,#338101 471.5px,#477a00 479.5px,#5f7200 484.5px,#00934c 485.5px,#021c5c 486.5px,#021c5c 511.5px)"></i>
<i style="background:linear-gradient(#021c5c 0.5px,#021c5c 3.5px,#00962f 4.5px,#039104 296.5px,#079004 306.5px,#0a8f04 307.5px,#497a00 316.5px,#926000 323.5px,#995b00 324.5px,#a74500 328.5px,#ad3c00 336.5px,#bb2800 346.5px,#d20100 356.5px,#e13300 374.5px,#eb7800 397.5px,#f6b800 423.5px,#f3a800 432.5px,#ec7e00 443.5px,#e86000 448.5px,#e13500 454.5px,#d10200 461.5px,#b92b00 464.5px,#aa4200 465.5px,#8f6100 467.5px,#597400 469.5px,#427c00 470.5px,#318201 471.5px,#2d8302 472.5px,#2d8302 480.5px,#387f01 484.5px,#00934c 485.5px,#021c5c 486.5px,#021c5c 511.5px)"></i>
<i style="background:linear-gradient(#021c5c 0.5px,#021c5c 3.5px,#00962f 4.5px,#039104 296.5px,#079004 306.5px,#088f04 307.5px,#477a00 316.5px,#985c00 324.5px,#a74500 328.5px,#ad3d00 336.5px,#ba2800 346.5px,#d20000 356.5px,#e13300 375.5px,#eb7800 399.5px,#f5b000 423.5px,#f2a100 432.5px,#eb7900 443.5px,#e44800 451.5px,#d30500 460.5px,#cf0500 461.5px,#c11e00 463.5px,#9b5700 466.5px,#886400 467.5px,#517700 469.5px,#2d8302 471.5px,#2d8302 479.5px,#3c7e01 484.5px,#00934c 485.5px,#021c5c 486.5px,#021c5c 511.5px)"></i>
<i style="background:linear-gradient(#021c5c 0.5px,#021c5c 3.5px,#00962f 4.5px,#039104 296.5px,#0b8e04 313.5px,#447b00 321.5px,#975d00 329.5px,#a74500 333.5px,#b03800 343.5px,#bf2100 347.5px,#d10200 355.5px,#d20200 356.5px,#e13300 374.5px,#eb7900 398.5px,#f5b500 423.5px,#f3a500 432.5px,#eb7b00 443.5px,#e54e00 450.5px,#d20200 460.5px,#cc0a00 461.5px,#bd2500 463.5px,#ae3b00 464.5px,#965f00 466.5px,#457b00 469.5px,#348101 470.5px,#2d8302 471.5px,#487a00 481.5px,#577500 484.5px,#00934c 485.5px,#021c5c 486.5px,#021c5c 511.5px)"></i>
<i style="background:linear-gradient(#021c5c 0.5px,#021c5c 3.5px,#00962f 4.5px,#039104 296.5px,#0d8e03 318.5px,#0f8d03 319.5px,#447b00 326.5px,#916100 333.5px,#985c00 334.5px,#a54800 337.5px,#ad3d00 344.5px,#be2200 348.5px,#d10200 356.5px,#d20100 357.5px,#e13100 374.5px,#eb7700 397.5px,#f6b800 423.5px,#f3a700 432.5px,#ec8000 442.5px,#e86200 447.5px,#e23600 453.5px,#d40700 459.5px,#d00300 460.5px,#c21d00 462.5px,#9c5700 465.5px,#886400 466.5px,#507700 468.5px,#3c7e01 469.5px,#2e8301 470.5px,#318201 473.5px,#477a00 480.5px,#597400 484.5px,#00934c 485.5px,#021c5c 486.5px,#021c5c 511.5px)"></i>
<i style="background:linear-gradient(#021c5c 0.5px,#021c5c 3.5px,#00962f 4.5px,#039104 296.5px,#118c03 326.5px,#138c03 327.5px,#4b7900 334.5px,#936000 340.5px,#995a00 341.5px,#a74600 344.5px,#ab4000 348.5px,#be2300 352.5px,#d10100 360.5px,#d30200 361.5px,#e13200 378.5px,#eb7700 401.5px,#f4ac00 423.5px,#f19d00 432.5px,#ec7b00 441.5px,#e54f00 448.5px,#e13200 452.5px,#d20100 458.5px,#cc0b00 459.5px,#ba2800 461.5px,#9e5300 463.5px,#8d6200 464.5px,#537600 466.5px,#3d7e01 467.5px,#2d8302 468.5px,#2e8302 473.5px,#537600 484.5px,#00934c 485.5px,#021c5c 486.5px,#021c5c 511.5px)"></i>
<i style="background:linear-gradient(#021c5c 0.5px,#021c5c 3.5px,#00962f 4.5px,#039104 296.5px,#158b03 336.5px,#457b00 342.5px,#916100 348.5px,#995b00 349.5px,#a74500 352.5px,#a84400 354.5px,#bd2400 358.5px,#d20100 366.5px,#e13200 384.5px,#eb7700 408.5px,#f19800 423.5px,#ef9000 430.5px,#eb7800 438.5px,#e44900 446.5px,#d30300 455.5px,#cd0800 456.5px,#bd2400 458.5px,#9f5200 460.5px,#8d6200 461.5px,#4e7800 463.5px,#3a7f01 464.5px,#417c00 473.5px,#4b7900 476.5px,#726c00 484.5px,#00934c 485.5px,#021c5c 486.5px,#021c5c 511.5px)"></i>
<i style="background:linear-gradient(#021c5c 0.5px,#021c5c 3.5px,#00962f 4.5px,#039104 296.5px,#1b8903 347.5px,#1f8802 348.5px,#447b00 352.5px,#965e00 358.5px,#a74600 361.5px,#a84500 362.5px,#be2300 366.5px,#d20100 374.5px,#e13400 393.5px,#ec7e00 423.5px,#eb7800 430.5px,#e86300 437.5px,#e33e00 444.5px,#d30500 452.5px,#cf0500 453.5px,#c02000 455.5px,#936000 458.5px,#716c00 459.5px,#557500 460.5px,#607200 472.5px,#975e00 484.5px,#00934c 485.5px,#021c5c 486.5px,#021c5c 511.5px)"></i>
<i style="background:linear-gradient(#021c5c 0.5px,#021c5c 3.5px,#00962f 4.5px,#039104 296.5px,#1f8802 356.5px,#437c00 360.5px,#8e6200 365.5px,#995b00 366.5px,#a54900 368.5px,#a74500 369.5px,#c02000 373.5px,#d20100 381.5px,#e13200 402.5px,#e75e00 423.5px,#e65800 430.5px,#e44900 436.5px,#df2c00 443.5px,#d30400 450.5px,#cf0500 451.5px,#c31b00 453.5px,#ba2900 454.5px,#9f5200 456.5px,#896400 457.5px,#667000 458.5px,#547600 459.5px,#5f7200 472.5px,#975e00 484.5px,#00934c 485.5px,#021c5c 486.5px,#021c5c 511.5px)"></i>
<i style="background:linear-gradient(#021c5c 0.5px,#021c5c 3.5px,#00962f 4.5px,#039104 296.5px,#208702 359.5px,#258602 360.5px,#437c00 363.5px,#985c00 369.5px,#a84400 372.5px,#bd2500 375.5px,#d20000 384.5px,#e13100 407.5px,#e55000 423.5px,#e44a00 430.5px,#e33d00 436.5px,#dd2400 443.5px,#d20000 450.5px,#ba2800 454.5px,#a14e00 456.5px,#906100 457.5px,#4d7800 459.5px,#587400 472.5px,#906100 484.5px,#00934c 485.5px,#021c5c 486.5px,#021c5c 511.5px)"></i>
<i style="background:linear-gradient(#021c5c 0.5px,#021c5c 3.5px,#00962f 4.5px,#039104 296.5px,#208702 359.5px,#228702 360.5px,#4b7900 364.5px,#965e00 369.5px,#bc2600 375.5px,#d20000 384.5px,#e13200 407.5px,#e55000 423.5px,#e54b00 430.5px,#e33e00 436.5px,#dd2500 443.5px,#d20100 450.5px,#ce0700 451.5px,#bc2500 454.5px,#965f00 457.5px,#527600 459.5px,#5d7300 472.5px,#955f00 484.5px,#00934c 485.5px,#021c5c 486.5px,#021c5c 511.5px)"></i>
<i style="background:linear-gradient(#021c5c 0.5px,#021c5c 3.5px,#00962f 4.5px,#039104 296.5px,#208702 358.5px,#477a00 362.5px,#946000 367.5px,#bf2100 374.5px,#d10200 382.5px,#e13200 407.5px,#e54f00 423.5px,#e44a00 430.5px,#e33d00 436.5px,#dd2400 443.5px,#d20100 450.5px,#bc2500 454.5px,#965e00 457.5px,#547600 459.5px,#5f7200 472.5px,#975e00 484.5px,#00934c 485.5px,#021c5c 486.5px,#021c5c 511.5px)"></i>
<i style="background:linear-gradient(#021c5c 0.5px,#021c5c 3.5px,#00962f 4.5px,#039104 296.5px,#208702 358.5px,#467b00 362.5px,#926000 367.5px,#9a5900 368.5px,#bf2200 374.5px,#d20000 383.5px,#e13200 408.5px,#e54c00 423.5px,#e44700 430.5px,#e23a00 436.5px,#dd2600 442.5px,#d10200 450.5px,#c11e00 453.5px,#b92b00 454.5px,#a05000 456.5px,#8c6200 457.5px,#477a00 459.5px,#427c00 460.5px,#4a7900 472.5px,#826600 484.5px,#00934c 485.5px,#021c5c 486.5px,#021c5c 511.5px)"></i>
<i style="background:linear-gradient(#021c5c 0.5px,#021c5c 3.5px,#00962f 4.5px,#039104 296.5px,#218702 361.5px,#497a00 365.5px,#955f00 370.5px,#bc2600 376.5px,#d20100 385.5px,#e13100 409.5px,#e44a00 423.5px,#e44500 430.5px,#e23800 436.5px,#db1f00 443.5px,#d20100 449.5px,#bd2500 453.5px,#975e00 456.5px,#507700 458.5px,#378001 459.5px,#2d8302 460.5px,#338101 473.5px,#487a00 480.5px,#5b7300 484.5px,#00934c 485.5px,#021c5c 486.5px,#021c5c 511.5px)"></i>
<i style="background:linear-gradient(#021c5c 0.5px,#021c5c 3.5px,#00962f 4.5px,#039104 296.5px,#228702 362.5px,#457b00 366.5px,#8f6200 371.5px,#995a00 372.5px,#bf2200 378.5px,#d20000 386.5px,#e13200 409.5px,#e54c00 423.5px,#e44800 429.5px,#e23c00 435.5px,#dc2200 442.5px,#d30400 448.5px,#d00400 449.5px,#bf2100 452.5px,#995a00 455.5px,#557500 457.5px,#397f01 458.5px,#2d8302 459.5px,#2e8302 476.5px,#467b00 484.5px,#00934c 485.5px,#021c5c 486.5px,#021c5c 511.5px)"></i>
<i style="background:linear-gradient(#021c5c 0.5px,#021c5c 3.5px,#00962f 4.5px,#039104 296.5px,#218702 361.5px,#268502 362.5px,#447b00 365.5px,#985c00 371.5px,#be2300 377.5px,#d20100 385.5px,#e13100 407.5px,#e55100 423.5px,#e54c00 429.5px,#e33f00 435.5px,#dd2400 442.5px,#d30300 448.5px,#cf0600 449.5px,#bb2700 452.5px,#a05000 454.5px,#8a6300 455.5px,#437c00 457.5px,#2d8302 458.5px,#2d8302 477.5px,#427c00 484.5px,#00934c 485.5px,#021c5c 486.5px,#021c5c 511.5px)"></i>
<i style="background:linear-gradient(#021c5c 0.5px,#021c5c 3.5px,#00962f 4.5px,#039104 296.5px,#218702 361.5px,#467b00 365.5px,#906100 370.5px,#9a5900 371.5px,#bf2200 377.5px,#d20100 385.5px,#e13100 406.5px,#e65500 423.5px,#e55000 429.5px,#e34200 435.5px,#dd2600 442.5px,#d30400 448.5px,#cf0500 449.5px,#c31a00 451.5px,#bb2700 452.5px,#a05000 454.5px,#896300 455.5px,#427c00 457.5px,#2d8302 458.5px,#2d8302 473.5px,#507700 484.5px,#00934c 485.5px,#021c5c 486.5px,#021c5c 511.5px)"></i>
<i style="background:linear-gradient(#021c5c 0.5px,#021c5c 3.5px,#00962f 4.5px,#039104 296.5px,#228702 362.5px,#4a7900 366.5px,#946000 371.5px,#bf2100 378.5px,#d20100 386.5px,#e13200 407.5px,#e65300 423.5px,#e54f00 429.5px,#e34100 435.5px,#df2b00 441.5px,#d10200 449.5px,#bf2100 452.5px,#975d00 455.5px,#4f7800 457.5px,#358001 458.5px,#318201 461.5px,#3a7f01 473.5px,#4a7900 478.5px,#676f00 484.5px,#00934c 485.5px,#021c5c 486.5px,#021c5c 511.5px)"></i>
<i style="background:linear-gradient(#021c5c 0.5px,#021c5c 3.5px,#00962f 4.5px,#039104 296.5px,#228702 362.5px,#258602 363.5px,#437c00 366.5px,#985d00 372.5px,#bf2100 379.5px,#d20100 387.5px,#e13100 409.5px,#e54d00 423.5px,#e44700 430.5px,#e23a00 436.5px,#db1f00 443.5px,#d20000 449.5px,#b92a00 453.5px,#a05000 455.5px,#8b6300 456.5px,#457b00 458.5px,#2e8302 459.5px,#2d8302 463.5px,#358001 473.5px,#477a00 479.5px,#5e7200 484.5px,#00934c 485.5px,#021c5c 486.5px,#021c5c 511.5px)"></i>
<i style="background:linear-gradient(#021c5c 0.5px,#021c5c 3.5px,#00962f 4.5px,#039104 296.5px,#228702 362.5px,#258602 363.5px,#437c00 366.5px,#975d00 372.5px,#a34b00 374.5px,#ab4000 376.5px,#be2200 379.5px,#d10200 387.5px,#e44600 423.5px,#e34100 430.5px,#e13500 436.5px,#db1d00 443.5px,#d20100 449.5px,#be2200 453.5px,#9a5900 456.5px,#3d7e01 459.5px,#2d8302 460.5px,#2d8302 474.5px,#4d7800 484.5px,#00934c 485.5px,#021c5c 486.5px,#021c5c 511.5px)"></i>
<i style="background:linear-gradient(#021c5c 0.5px,#021c5c 3.5px,#01941e 4.5px,#039104 112.5px,#1b8903 151.5px,#378001 177.5px,#487a00 221.5px,#3b7e01 242.5px,#487a00 297.5px,#7b6800 347.5px,#955f00 364.5px,#995b00 371.5px,#a54900 373.5px,#a84300 375.5px,#be2200 378.5px,#d10200 383.5px,#d30300 384.5px,#e13100 395.5px,#eb7600 411.5px,#f2a000 423.5px,#f09400 430.5px,#eb7900 437.5px,#e44900 444.5px,#d20100 452.5px,#c11d00 454.5px,#a24e00 456.5px,#965f00 457.5px,#487a00 478.5px,#407d00 482.5px,#467b00 484.5px,#00934c 485.5px,#021c5c 486.5px,#021c5c 511.5px)"></i>
<i style="background:linear-gradient(#021c5c 0.5px,#021c5c 3.5px,#cf0500 4.5px,#d20000 10.5px,#db1f00 67.5px,#eb7700 151.5px,#f4ac00 177.5px,#f6b700 221.5px,#ed8300 242.5px,#e96a00 297.5px,#ee8a00 347.5px,#fce800 415.5px,#fdf107 422.5px,#fce700 430.5px,#f7bf00 452.5px,#ec7c00 463.5px,#e13200 474.5px,#d10100 482.5px,#cc0a00 483.5px,#a74600 484.5px,#00934c 485.5px,#021c5c 486.5px,#021c5c 511.5px)"></i>
<i style="background:linear-gradient(#021c5c 0.5px,#021c5c 3.5px,#cf0500 4.5px,#d20000 10.5px,#db1f00 67.5px,#eb7700 151.5px,#f4ac00 177.5px,#f6b700 221.5px,#ed8300 242.5px,#e96a00 297.5px,#ee8a00 347.5px,#fce800 415.5px,#fdf107 422.5px,#fce800 430.5px,#f7bf00 452.5px,#ec7c00 463.5px,#e13200 474.5px,#d10100 482.5px,#cc0a00 483.5px,#aa4100 484.5px,#00934c 485.5px,#021c5c 486.5px,#021c5c 511.5px)"></i>
<i style="background:linear-gradient(#021c5c 0.5px,#021c5c 3.5px,#af3900 4.5px,#be2300 23.5px,#d20000 71.5px,#e34300 151.5px,#eb7500 177.5px,#ec7f00 221.5px,#e55100 242.5px,#e33d00 297.5px,#e75a00 346.5px,#ee8b00 386.5px,#fce600 419.5px,#fdee05 423.5px,#fce700 429.5px,#fad700 436.5px,#f3a400 451.5px,#eb7600 461.5px,#e03000 472.5px,#d30200 479.5px,#bf2200 483.5px,#ad3c00 484.5px,#00934c 485.5px,#021c5c 486.5px,#021c5c 511.5px)"></i>
<i style="background:linear-gradient(#021c5c 0.5px,#021c5c 3.5px,#108d03 4.5px,#457b00 67.5px,#965f00 108.5px,#b72d00 151.5px,#bf2200 156.5px,#cf0500 176.5px,#d20000 194.5px,#d30500 221.5px,#d20100 227.5px,#c51600 242.5px,#c21c00 296.5px,#cc0b00 330.5px,#d10100 333.5px,#e13300 353.5px,#eb7a00 378.5px,#fbe300 423.5px,#f9ce00 431.5px,#f29e00 441.5px,#eb7800 447.5px,#e13100 455.5px,#d50b00 459.5px,#d20100 461.5px,#bd2500 471.5px,#946000 481.5px,#806700 483.5px,#587400 484.5px,#00934c 485.5px,#021c5c 486.5px,#021c5c 511.5px)"></i>
<i style="background:linear-gradient(#021c5c 0.5px,#021c5c 3.5px,#019421 4.5px,#039104 135.5px,#0d8e03 152.5px,#248602 177.5px,#358001 221.5px,#2c8302 242.5px,#387f01 289.5px,#477a00 292.5px,#975d00 301.5px,#a74500 306.5px,#ac3d00 315.5px,#be2300 320.5px,#d10100 330.5px,#d20100 331.5px,#e13200 351.5px,#eb7900 378.5px,#fadc00 423.5px,#f7c400 432.5px,#f09400 442.5px,#e96c00 448.5px,#e13100 455.5px,#d30400 460.5px,#cd0800 461.5px,#c51600 462.5px,#bc2600 463.5px,#ab3f00 464.5px,#916100 466.5px,#5a7400 468.5px,#477a00 475.5px,#487a00 476.5px,#6e6d00 484.5px,#00934c 485.5px,#021c5c 486.5px,#021c5c 511.5px)"></i>
<i style="background:linear-gradient(#021c5c 0.5px,#021c5c 3.5px,#00952c 4.5px,#01941b 97.5px,#039104 273.5px,#069004 274.5px,#477a00 285.5px,#965e00 294.5px,#a74500 299.5px,#af3a00 312.5px,#bf2200 317.5px,#d20000 327.5px,#e13300 348.5px,#eb7800 374.5px,#fbe400 423.5px,#fadc00 427.5px,#f8cb00 432.5px,#f19a00 442.5px,#ea7300 448.5px,#e13500 455.5px,#d40700 460.5px,#d00300 461.5px,#bf2100 463.5px,#a24d00 465.5px,#975e00 466.5px,#467b00 469.5px,#4a7900 473.5px,#7f6700 484.5px,#00934c 485.5px,#021c5c 486.5px,#021c5c 511.5px)"></i>
<i style="background:linear-gradient(#021c5c 0.5px,#021c5c 3.5px,#00962e 4.5px,#01941e 97.5px,#029210 217.5px,#039104 267.5px,#487a00 279.5px,#965f00 288.5px,#a74600 293.5px,#b43200 312.5px,#be2300 315.5px,#d20000 325.5px,#e13100 345.5px,#eb7800 371.5px,#fcec03 423.5px,#fce400 427.5px,#f9d300 432.5px,#f2a000 442.5px,#eb7900 448.5px,#e02f00 456.5px,#d10100 461.5px,#c02000 463.5px,#a24d00 465.5px,#975e00 466.5px,#477a00 469.5px,#437c00 470.5px,#467b00 473.5px,#7a6900 484.5px,#00934c 485.5px,#021c5c 486.5px,#021c5c 511.5px)"></i>
<i style="background:linear-gradient(#021c5c 0.5px,#021c5c 3.5px,#00962e 4.5px,#029211 184.5px,#039104 237.5px,#1f8802 265.5px,#467b00 272.5px,#926000 281.5px,#a74500 287.5px,#ad3c00 299.5px,#ba2800 313.5px,#d10100 324.5px,#e13200 344.5px,#eb7800 369.5px,#fce600 416.5px,#fdf309 423.5px,#fcec03 427.5px,#fbdf00 431.5px,#f7c300 437.5px,#f3a600 442.5px,#eb7500 449.5px,#e13200 456.5px,#d20100 461.5px,#bf2000 463.5px,#af3a00 464.5px,#955f00 466.5px,#457b00 469.5px,#338101 470.5px,#2f8201 471.5px,#318201 473.5px,#477a00 480.5px,#597400 484.5px,#00934c 485.5px,#021c5c 486.5px,#021c5c 511.5px)"></i>
<i style="background:linear-gradient(#021c5c 0.5px,#021c5c 3.5px,#019421 4.5px,#039104 123.5px,#258602 166.5px,#318201 195.5px,#3e7d01 208.5px,#497a00 218.5px,#866500 249.5px,#965f00 257.5px,#be2300 303.5px,#c51700 318.5px,#d20100 325.5px,#e13100 344.5px,#eb7800 369.5px,#fce800 416.5px,#fef40b 423.5px,#fbe000 431.5px,#f7c500 437.5px,#f3a800 442.5px,#eb7600 449.5px,#e13200 456.5px,#d20100 461.5px,#bf2000 463.5px,#ae3a00 464.5px,#955f00 466.5px,#447b00 469.5px,#338101 470.5px,#2d8302 471.5px,#2d8302 476.5px,#457b00 484.5px,#00934c 485.5px,#021c5c 486.5px,#021c5c 511.5px)"></i>
<i style="background:linear-gradient(#021c5c 0.5px,#021c5c 3.5px,#248602 4.5px,#487a00 32.5px,#866500 66.5px,#965f00 95.5px,#ab3f00 151.5px,#b72e00 167.5px,#d20000 258.5px,#db1f00 339.5px,#eb7900 372.5px,#fce600 418.5px,#fdef06 423.5px,#fce800 427.5px,#fadb00 431.5px,#f7c000 437.5px,#f2a300 442.5px,#ea7300 449.5px,#e13100 456.5px,#d20100 461.5px,#c02000 463.5px,#a14e00 465.5px,#975e00 466.5px,#467b00 469.5px,#358001 470.5px,#368001 473.5px,#457b00 478.5px,#607200 484.5px,#00934c 485.5px,#021c5c 486.5px,#021c5c 511.5px)"></i>
<i style="background:linear-gradient(#021c5c 0.5px,#021c5c 3.5px,#338101 4.5px,#487a00 19.5px,#965f00 58.5px,#9c5600 66.5px,#a64700 109.5px,#be2300 169.5px,#d20000 245.5px,#dd2500 346.5px,#eb7700 375.5px,#fcea02 423.5px,#fbe200 427.5px,#f9d100 432.5px,#f29f00 442.5px,#eb7700 448.5px,#e02f00 456.5px,#d10200 461.5px,#c02000 463.5px,#a24e00 465.5px,#975e00 466.5px,#467b00 469.5px,#497a00 473.5px,#7e6700 484.5px,#00934c 485.5px,#021c5c 486.5px,#021c5c 511.5px)"></i>
<i style="background:linear-gradient(#021c5c 0.5px,#021c5c 3.5px,#02920e 4.5px,#039104 34.5px,#1f8802 66.5px,#3d7e01 124.5px,#487a00 140.5px,#6e6d00 169.5px,#965f00 196.5px,#be2300 252.5px,#d20000 304.5px,#d71200 342.5px,#e13100 354.5px,#eb7a00 378.5px,#fcea02 423.5px,#fad500 431.5px,#f3a500 441.5px,#eb7700 448.5px,#e02e00 456.5px,#d40700 460.5px,#d00400 461.5px,#be2200 463.5px,#ad3c00 464.5px,#946000 466.5px,#5c7300 468.5px,#457b00 469.5px,#4a7900 473.5px,#7f6700 484.5px,#00934c 485.5px,#021c5c 486.5px,#021c5c 511.5px)"></i>
<i style="background:linear-gradient(#021c5c 0.5px,#021c5c 3.5px,#019525 4.5px,#039104 163.5px,#248602 203.5px,#487a00 235.5px,#946000 272.5px,#be2300 317.5px,#c71400 332.5px,#d20100 337.5px,#e13200 355.5px,#eb7800 378.5px,#fcea02 423.5px,#fbe200 427.5px,#f9d100 432.5px,#f29e00 442.5px,#eb7500 448.5px,#e13500 455.5px,#d40500 460.5px,#ce0700 461.5px,#c51600 462.5px,#bb2700 463.5px,#a94200 464.5px,#9d5400 465.5px,#8d6200 466.5px,#567500 468.5px,#467b00 469.5px,#4a7900 473.5px,#7f6700 484.5px,#00934c 485.5px,#021c5c 486.5px,#021c5c 511.5px)"></i>
<i style="background:linear-gradient(#021c5c 0.5px,#021c5c 3.5px,#00952d 4.5px,#039104 227.5px,#238602 259.5px,#397f01 276.5px,#4b7900 279.5px,#975d00 288.5px,#a74500 293.5px,#ae3b00 305.5px,#c31b00 328.5px,#d20100 336.5px,#e13100 354.5px,#eb7a00 379.5px,#fce400 423.5px,#fadc00 427.5px,#f8cb00 432.5px,#f19900 442.5px,#ea7100 448.5px,#e13200 455.5px,#d30300 460.5px,#cc0a00 461.5px,#c41900 462.5px,#b82b00 463.5px,#a74500 464.5px,#9c5600 465.5px,#8a6300 466.5px,#527700 468.5px,#4c7900 469.5px,#527700 473.5px,#876400 484.5px,#00934c 485.5px,#021c5c 486.5px,#021c5c 511.5px)"></i>
<i style="background:linear-gradient(#021c5c 0.5px,#021c5c 3.5px,#00962f 4.5px,#02920f 216.5px,#039104 261.5px,#0c8e03 271.5px,#477a00 281.5px,#955f00 290.5px,#a64700 295.5px,#ae3a00 308.5px,#bf2000 325.5px,#d10100 334.5px,#d20200 335.5px,#e13200 354.5px,#eb7900 379.5px,#fbe000 423.5px,#fad800 427.5px,#f8c700 432.5px,#f5b200 437.5px,#f09600 442.5px,#ea6e00 448.5px,#e03000 455.5px,#d30200 460.5px,#c31a00 462.5px,#b82c00 463.5px,#a74500 464.5px,#9c5600 465.5px,#896300 466.5px,#527700 468.5px,#3d7e01 469.5px,#3e7d01 472.5px,#467b00 475.5px,#706c00 484.5px,#00934c 485.5px,#021c5c 486.5px,#021c5c 511.5px)"></i>
<i style="background:linear-gradient(#021c5c 0.5px,#021c5c 3.5px,#00962f 4.5px,#039106 274.5px,#049104 275.5px,#467b00 286.5px,#965f00 295.5px,#a74500 300.5px,#ad3c00 311.5px,#bc2600 325.5px,#d20100 336.5px,#e13200 355.5px,#eb7900 380.5px,#fbde00 423.5px,#fad600 427.5px,#f8c600 432.5px,#f09400 442.5px,#e96c00 448.5px,#e02f00 455.5px,#d30200 460.5px,#c31a00 462.5px,#b82c00 463.5px,#a74500 464.5px,#9c5600 465.5px,#8a6300 466.5px,#527700 468.5px,#3d7e01 469.5px,#378001 470.5px,#3a7f01 473.5px,#467b00 477.5px,#676f00 484.5px,#00934c 485.5px,#021c5c 486.5px,#021c5c 511.5px)"></i>
<i style="background:linear-gradient(#021c5c 0.5px,#021c5c 3.5px,#00962f 4.5px,#039106 280.5px,#049104 281.5px,#477a00 292.5px,#985d00 301.5px,#a74500 306.5px,#ac3d00 315.5px,#b82c00 326.5px,#d20100 338.5px,#e13400 357.5px,#eb7900 381.5px,#fbdf00 423.5px,#fad700 427.5px,#f8c600 432.5px,#f09500 442.5px,#e96d00 448.5px,#e03000 455.5px,#d30200 460.5px,#c31900 462.5px,#b82c00 463.5px,#a74500 464.5px,#9c5600 465.5px,#8a6300 466.5px,#527700 468.5px,#3d7e01 469.5px,#358001 470.5px,#387f01 473.5px,#477a00 478.5px,#647000 484.5px,#00934c 485.5px,#021c5c 486.5px,#021c5c 511.5px)"></i>
<i style="background:linear-gradient(#021c5c 0.5px,#021c5c 3.5px,#00962f 4.5px,#039104 286.5px,#487a00 297.5px,#936000 305.5px,#995b00 306.5px,#a74600 310.5px,#ac3e00 319.5px,#b62f00 328.5px,#be2300 330.5px,#d20000 339.5px,#e13300 357.5px,#eb7900 380.5px,#fce600 423.5px,#fbde00 427.5px,#f9cd00 432.5px,#f19a00 442.5px,#ea7200 448.5px,#e13300 455.5px,#d30400 460.5px,#cd0900 461.5px,#c41800 462.5px,#b92a00 463.5px,#a84400 464.5px,#9d5500 465.5px,#8b6300 466.5px,#537600 468.5px,#3e7d01 469.5px,#338101 470.5px,#368001 473.5px,#467b00 478.5px,#617100 484.5px,#00934c 485.5px,#021c5c 486.5px,#021c5c 511.5px)"></i>
<i style="background:linear-gradient(#021c5c 0.5px,#021c5c 3.5px,#00962f 4.5px,#039104 291.5px,#4a7900 302.5px,#975e00 310.5px,#a74500 315.5px,#b23400 329.5px,#be2300 332.5px,#d20100 341.5px,#e13200 358.5px,#eb7800 380.5px,#fce901 423.5px,#fbe100 427.5px,#f9d000 432.5px,#f19e00 442.5px,#eb7500 448.5px,#e23600 455.5px,#d40600 460.5px,#ce0600 461.5px,#c61500 462.5px,#bc2600 463.5px,#aa4000 464.5px,#8f6100 466.5px,#407d00 469.5px,#338101 470.5px,#368001 473.5px,#487a00 479.5px,#617200 484.5px,#00934c 485.5px,#021c5c 486.5px,#021c5c 511.5px)"></i>
<i style="background:linear-gradient(#021c5c 0.5px,#021c5c 3.5px,#00962f 4.5px,#039104 296.5px,#069004 297.5px,#497a00 307.5px,#975d00 315.5px,#a64700 319.5px,#b23500 332.5px,#be2200 335.5px,#d10200 343.5px,#d20200 344.5px,#e13300 361.5px,#eb7900 383.5px,#fbe300 423.5px,#f9cf00 431.5px,#f2a000 441.5px,#ea7200 448.5px,#e13500 455.5px,#d40700 460.5px,#d00400 461.5px,#bf2100 463.5px,#a14e00 465.5px,#965f00 466.5px,#457b00 469.5px,#348101 470.5px,#2d8302 471.5px,#2d8302 478.5px,#407d00 484.5px,#00934c 485.5px,#021c5c 486.5px,#021c5c 511.5px)"></i>
<i style="background:linear-gradient(#021c5c 0.5px,#021c5c 3.5px,#00962f 4.5px,#049104 297.5px,#467b00 307.5px,#955f00 315.5px,#995a00 316.5px,#a74500 320.5px,#b33300 334.5px,#be2300 337.5px,#d20100 346.5px,#e13100 363.5px,#eb7a00 386.5px,#fada00 423.5px,#f7c300 432.5px,#f09400 442.5px,#eb7500 447.5px,#e13300 455.5px,#d10200 461.5px,#c11e00 463.5px,#a44900 465.5px,#9a5a00 466.5px,#846500 467.5px,#4d7800 469.5px,#2d8302 471.5px,#2d8302 484.5px,#00934c 485.5px,#021c5c 486.5px,#021c5c 511.5px)"></i>
<i style="background:linear-gradient(#021c5c 0.5px,#021c5c 3.5px,#00962f 4.5px,#01941e 97.5px,#029210 217.5px,#039104 276.5px,#108d03 291.5px,#497a00 300.5px,#965f00 308.5px,#a54900 312.5px,#b03800 325.5px,#c01f00 339.5px,#d20000 347.5px,#e13200 365.5px,#eb7900 388.5px,#f9d200 423.5px,#f8c900 428.5px,#f6b900 433.5px,#ee8900 443.5px,#e86200 449.5px,#e13200 455.5px,#d20100 461.5px,#c21b00 463.5px,#9d5500 466.5px,#8c6200 467.5px,#567500 469.5px,#2f8201 471.5px,#2d8302 481.5px,#358001 484.5px,#00934c 485.5px,#021c5c 486.5px,#021c5c 511.5px)"></i>
<i style="background:linear-gradient(#021c5c 0.5px,#021c5c 3.5px,#00962f 4.5px,#00952b 26.5px,#039104 137.5px,#188a03 166.5px,#2c8302 211.5px,#487a00 245.5px,#955f00 292.5px,#995b00 297.5px,#a74500 302.5px,#b13700 316.5px,#cb0c00 345.5px,#d10100 348.5px,#e13100 366.5px,#eb7800 389.5px,#f9cf00 423.5px,#f6b900 432.5px,#ee8c00 442.5px,#eb7500 446.5px,#e03000 455.5px,#d40700 460.5px,#d00300 461.5px,#c11d00 463.5px,#9c5600 466.5px,#896300 467.5px,#537600 469.5px,#3e7d01 470.5px,#3d7e01 472.5px,#487a00 476.5px,#6f6d00 484.5px,#00934c 485.5px,#021c5c 486.5px,#021c5c 511.5px)"></i>
<i style="background:linear-gradient(#021c5c 0.5px,#021c5c 3.5px,#00962f 4.5px,#00952b 26.5px,#039105 78.5px,#487a00 120.5px,#955f00 153.5px,#a14f00 166.5px,#a94200 209.5px,#be2300 273.5px,#ca0e00 332.5px,#d20100 343.5px,#d60d00 355.5px,#e13400 368.5px,#eb7800 389.5px,#f9d300 423.5px,#f6bd00 432.5px,#ef8e00 442.5px,#e96700 448.5px,#e23700 454.5px,#d30300 460.5px,#cd0800 461.5px,#be2400 463.5px,#ae3b00 464.5px,#965f00 466.5px,#5e7200 468.5px,#4a7900 469.5px,#507700 473.5px,#856500 484.5px,#00934c 485.5px,#021c5c 486.5px,#021c5c 511.5px)"></i>
<i style="background:linear-gradient(#021c5c 0.5px,#021c5c 3.5px,#00962f 4.5px,#029317 97.5px,#039104 209.5px,#1b8903 241.5px,#437c00 280.5px,#487a00 281.5px,#965f00 290.5px,#a74600 295.5px,#ae3a00 308.5px,#d20000 349.5px,#d30400 353.5px,#e13400 368.5px,#eb7900 388.5px,#fbdd00 423.5px,#fad500 427.5px,#f7c400 432.5px,#f09300 442.5px,#e96a00 448.5px,#e23600 454.5px,#d20000 460.5px,#c11d00 462.5px,#a44900 464.5px,#995a00 465.5px,#826600 466.5px,#4a7900 468.5px,#387f01 469.5px,#348101 470.5px,#378001 473.5px,#477a00 478.5px,#637100 484.5px,#00934c 485.5px,#021c5c 486.5px,#021c5c 511.5px)"></i>
<i style="background:linear-gradient(#021c5c 0.5px,#021c5c 3.5px,#00962f 4.5px,#039105 276.5px,#059004 277.5px,#477a00 288.5px,#975e00 297.5px,#a54900 301.5px,#af3900 315.5px,#d30200 351.5px,#e13400 367.5px,#eb7900 387.5px,#fbdf00 423.5px,#fad700 427.5px,#f8c600 432.5px,#f4af00 437.5px,#f09200 442.5px,#ea7000 447.5px,#e13200 454.5px,#d30300 459.5px,#cc0a00 460.5px,#c41900 461.5px,#b82c00 462.5px,#a74600 463.5px,#9c5700 464.5px,#876400 465.5px,#4e7800 467.5px,#3a7f01 468.5px,#3b7e01 473.5px,#477a00 477.5px,#696f00 484.5px,#00934c 485.5px,#021c5c 486.5px,#021c5c 511.5px)"></i>
<i style="background:linear-gradient(#021c5c 0.5px,#021c5c 3.5px,#00962f 4.5px,#039105 283.5px,#467b00 294.5px,#975e00 303.5px,#a54800 307.5px,#ae3b00 319.5px,#c91000 346.5px,#d10100 350.5px,#e13200 367.5px,#eb7800 388.5px,#fad800 423.5px,#f9d000 427.5px,#f7bf00 432.5px,#ef9100 441.5px,#e96700 447.5px,#e13200 453.5px,#d30400 458.5px,#cd0900 459.5px,#c41800 460.5px,#9d5500 463.5px,#896300 464.5px,#4f7800 466.5px,#4b7900 467.5px,#537600 473.5px,#886400 484.5px,#00934c 485.5px,#021c5c 486.5px,#021c5c 511.5px)"></i>
<i style="background:linear-gradient(#021c5c 0.5px,#021c5c 3.5px,#00962f 4.5px,#039105 291.5px,#049104 292.5px,#457b00 302.5px,#916100 310.5px,#a74600 315.5px,#ae3c00 325.5px,#c51700 347.5px,#d10100 352.5px,#e13400 369.5px,#eb7800 389.5px,#fad700 423.5px,#f9cf00 427.5px,#f6bd00 432.5px,#ef8e00 441.5px,#e96a00 446.5px,#e13400 452.5px,#d40500 457.5px,#ce0700 458.5px,#c51600 459.5px,#bb2700 460.5px,#aa4100 461.5px,#9d5400 462.5px,#8a6300 463.5px,#4e7800 465.5px,#417c00 466.5px,#467b00 473.5px,#7a6900 484.5px,#00934c 485.5px,#021c5c 486.5px,#021c5c 511.5px)"></i>
<i style="background:linear-gradient(#021c5c 0.5px,#021c5c 3.5px,#00962f 4.5px,#059004 300.5px,#457b00 310.5px,#955f00 318.5px,#a54800 322.5px,#af3a00 333.5px,#c11d00 348.5px,#d20100 355.5px,#e13300 370.5px,#eb7700 389.5px,#fbdd00 423.5px,#f8c600 431.5px,#f09500 440.5px,#ea7200 445.5px,#e13000 452.5px,#d10200 457.5px,#bf2200 459.5px,#ad3c00 460.5px,#8e6200 462.5px,#517700 464.5px,#3a7f01 465.5px,#2d8302 466.5px,#2d8302 475.5px,#487a00 484.5px,#00934c 485.5px,#021c5c 486.5px,#021c5c 511.5px)"></i>
<i style="background:linear-gradient(#021c5c 0.5px,#021c5c 3.5px,#00962f 4.5px,#039104 296.5px,#088f04 308.5px,#0a8f04 309.5px,#437c00 317.5px,#955f00 325.5px,#9e5300 327.5px,#a64700 329.5px,#af3a00 339.5px,#bf2200 350.5px,#d10200 357.5px,#d20200 358.5px,#e13400 373.5px,#eb7a00 392.5px,#fad900 423.5px,#f7c100 431.5px,#ef9100 440.5px,#e96c00 445.5px,#e13400 451.5px,#d30300 456.5px,#cc0b00 457.5px,#c31b00 458.5px,#a44a00 460.5px,#985c00 461.5px,#427c00 464.5px,#2e8302 465.5px,#2d8302 484.5px,#00934c 485.5px,#021c5c 486.5px,#021c5c 511.5px)"></i>
<i style="background:linear-gradient(#021c5c 0.5px,#021c5c 3.5px,#00962f 4.5px,#039104 296.5px,#0c8e03 316.5px,#467b00 324.5px,#926000 331.5px,#995b00 332.5px,#a74500 336.5px,#ad3c00 343.5px,#ba2900 352.5px,#d20100 361.5px,#e13300 376.5px,#eb7900 395.5px,#f9cf00 423.5px,#f6b800 431.5px,#ee8900 440.5px,#eb7500 443.5px,#e23700 450.5px,#d40800 455.5px,#d10200 456.5px,#bf2100 458.5px,#a04f00 460.5px,#916100 461.5px,#527600 463.5px,#3b7e01 464.5px,#2d8302 465.5px,#2d8302 484.5px,#00934c 485.5px,#021c5c 486.5px,#021c5c 511.5px)"></i>
<i style="background:linear-gradient(#021c5c 0.5px,#021c5c 3.5px,#00962f 4.5px,#039104 296.5px,#0e8d03 321.5px,#4b7900 329.5px,#906100 335.5px,#985c00 336.5px,#a74500 340.5px,#b62f00 353.5px,#d20000 362.5px,#e13300 377.5px,#eb7800 395.5px,#f9cf00 423.5px,#f6b800 431.5px,#e80 440.5px,#e86300 445.5px,#e23600 450.5px,#d40600 455.5px,#cf0500 456.5px,#c61400 457.5px,#bd2400 458.5px,#ab3f00 459.5px,#9e5400 460.5px,#8a6300 461.5px,#4b7900 463.5px,#368001 464.5px,#2d8302 465.5px,#2d8302 484.5px,#00934c 485.5px,#021c5c 486.5px,#021c5c 511.5px)"></i>
<i style="background:linear-gradient(#021c5c 0.5px,#021c5c 3.5px,#00962f 4.5px,#039104 296.5px,#0f8d03 322.5px,#108d03 323.5px,#467b00 330.5px,#965f00 337.5px,#a74500 341.5px,#b33400 352.5px,#c02000 355.5px,#d20100 362.5px,#e13100 376.5px,#eb7800 395.5px,#f9cf00 423.5px,#f6b700 431.5px,#ee8700 440.5px,#e86100 445.5px,#e13300 450.5px,#d30300 455.5px,#cc0a00 456.5px,#c31900 457.5px,#995a00 460.5px,#427c00 463.5px,#2e8301 464.5px,#2d8302 484.5px,#00934c 485.5px,#021c5c 486.5px,#021c5c 511.5px)"></i>
<i style="background:linear-gradient(#021c5c 0.5px,#021c5c 3.5px,#00962f 4.5px,#039104 296.5px,#0f8d03 323.5px,#148b03 324.5px,#4a7900 331.5px,#916100 337.5px,#985b00 338.5px,#a64700 341.5px,#af3900 350.5px,#bf2100 354.5px,#d10100 361.5px,#e13200 377.5px,#eb7700 397.5px,#f7c200 423.5px,#f4ae00 431.5px,#ec8000 440.5px,#e86300 444.5px,#e23700 449.5px,#d10200 455.5px,#bf2100 457.5px,#a05000 459.5px,#8f6100 460.5px,#4f7800 462.5px,#387f01 463.5px,#2d8302 464.5px,#2d8302 484.5px,#00934c 485.5px,#021c5c 486.5px,#021c5c 511.5px)"></i>
<i style="background:linear-gradient(#021c5c 0.5px,#021c5c 3.5px,#00962f 4.5px,#039104 296.5px,#108d03 324.5px,#437c00 331.5px,#936000 338.5px,#995a00 339.5px,#a74600 342.5px,#ad3d00 349.5px,#be2200 353.5px,#d20000 361.5px,#e13300 378.5px,#eb7900 400.5px,#f5b500 423.5px,#f2a300 431.5px,#eb7a00 440.5px,#e13200 449.5px,#d30400 454.5px,#cd0900 455.5px,#c41800 456.5px,#b92a00 457.5px,#a74500 458.5px,#9a5800 459.5px,#816600 460.5px,#437c00 462.5px,#2e8301 463.5px,#2d8302 484.5px,#00934c 485.5px,#021c5c 486.5px,#021c5c 511.5px)"></i>
<i style="background:linear-gradient(#021c5c 0.5px,#021c5c 3.5px,#00962f 4.5px,#039104 296.5px,#108d03 325.5px,#457b00 332.5px,#965f00 339.5px,#a74500 343.5px,#ab4000 348.5px,#bf2000 353.5px,#d20100 361.5px,#e13200 378.5px,#eb7700 401.5px,#f4ae00 423.5px,#f29e00 431.5px,#ec7c00 439.5px,#e44900 446.5px,#d30200 454.5px,#c21b00 456.5px,#985d00 459.5px,#587400 461.5px,#3e7d01 462.5px,#2d8302 463.5px,#2d8302 477.5px,#407d00 484.5px,#00934c 485.5px,#021c5c 486.5px,#021c5c 511.5px)"></i>
<i style="background:linear-gradient(#021c5c 0.5px,#021c5c 3.5px,#00962f 4.5px,#039104 296.5px,#118c03 327.5px,#487a00 334.5px,#985c00 341.5px,#a64700 344.5px,#ab4000 349.5px,#be2300 353.5px,#d10100 361.5px,#e13100 379.5px,#eb7900 404.5px,#f3a500 423.5px,#f09700 431.5px,#eb7700 439.5px,#e44600 446.5px,#d20100 454.5px,#c21c00 456.5px,#975e00 459.5px,#577500 461.5px,#3d7e01 462.5px,#2d8302 463.5px,#2d8302 475.5px,#467b00 484.5px,#00934c 485.5px,#021c5c 486.5px,#021c5c 511.5px)"></i>
<i style="background:linear-gradient(#021c5c 0.5px,#021c5c 3.5px,#00962f 4.5px,#039104 296.5px,#128c03 329.5px,#148b03 330.5px,#447b00 336.5px,#975e00 343.5px,#a54900 346.5px,#a94200 350.5px,#c02000 355.5px,#d20100 363.5px,#e13300 382.5px,#eb7700 407.5px,#f19a00 423.5px,#ef9000 430.5px,#eb7500 438.5px,#e65700 443.5px,#e13200 448.5px,#d10200 454.5px,#c11f00 456.5px,#946000 459.5px,#527600 461.5px,#3a7f01 462.5px,#2d8302 463.5px,#2d8302 477.5px,#417c00 484.5px,#00934c 485.5px,#021c5c 486.5px,#021c5c 511.5px)"></i>
<i style="background:linear-gradient(#021c5c 0.5px,#021c5c 3.5px,#00962f 4.5px,#039104 296.5px,#148b03 333.5px,#4d7800 340.5px,#975e00 346.5px,#a54800 349.5px,#a94300 352.5px,#bf2000 357.5px,#d20100 365.5px,#e13100 383.5px,#eb7700 409.5px,#f09500 423.5px,#ef8c00 430.5px,#eb7600 437.5px,#e54c00 444.5px,#d30400 453.5px,#cd0800 454.5px,#bc2600 456.5px,#9d5500 458.5px,#856500 459.5px,#457b00 461.5px,#308201 462.5px,#2d8302 477.5px,#427c00 484.5px,#00934c 485.5px,#021c5c 486.5px,#021c5c 511.5px)"></i>
<i style="background:linear-gradient(#021c5c 0.5px,#021c5c 3.5px,#00962f 4.5px,#039104 296.5px,#168b03 337.5px,#1a8903 338.5px,#447b00 343.5px,#906100 349.5px,#995b00 350.5px,#a74500 353.5px,#a84300 355.5px,#c02000 360.5px,#d20100 367.5px,#e13300 385.5px,#eb7800 409.5px,#f09700 423.5px,#ef8e00 430.5px,#eb7600 437.5px,#e65800 442.5px,#e13200 447.5px,#d40700 452.5px,#d00300 453.5px,#bf2100 455.5px,#a05100 457.5px,#8c6200 458.5px,#487a00 460.5px,#338101 461.5px,#2d8302 462.5px,#308201 473.5px,#487a00 481.5px,#567500 484.5px,#00934c 485.5px,#021c5c 486.5px,#021c5c 511.5px)"></i>
<i style="background:linear-gradient(#021c5c 0.5px,#021c5c 3.5px,#00962f 4.5px,#039104 296.5px,#178a03 340.5px,#1b8903 341.5px,#477a00 346.5px,#965f00 352.5px,#a54800 355.5px,#a84400 357.5px,#bd2400 361.5px,#d20000 369.5px,#e13100 386.5px,#eb7800 410.5px,#f09500 423.5px,#ef8e00 429.5px,#eb7800 436.5px,#e54c00 443.5px,#df2c00 447.5px,#d20000 452.5px,#c11e00 454.5px,#a14e00 456.5px,#8f6100 457.5px,#497a00 459.5px,#537600 472.5px,#8b6300 484.5px,#00934c 485.5px,#021c5c 486.5px,#021c5c 511.5px)"></i>
<i style="background:linear-gradient(#021c5c 0.5px,#021c5c 3.5px,#00962f 4.5px,#039104 296.5px,#188a03 341.5px,#4d7800 347.5px,#906100 352.5px,#995b00 353.5px,#a74500 356.5px,#ac3e00 358.5px,#bc2500 361.5px,#d10100 369.5px,#e13400 388.5px,#eb7800 413.5px,#ef8d00 423.5px,#ed8400 430.5px,#ea6f00 436.5px,#e44400 443.5px,#d20100 451.5px,#c21c00 453.5px,#b43200 454.5px,#926000 456.5px,#776a00 457.5px,#776a00 462.5px,#826600 472.5px,#975e00 477.5px,#a44a00 484.5px,#00934c 485.5px,#021c5c 486.5px,#021c5c 511.5px)"></i>
<i style="background:linear-gradient(#021c5c 0.5px,#021c5c 3.5px,#00962f 4.5px,#039104 296.5px,#188a03 341.5px,#1d8803 342.5px,#497a00 347.5px,#975d00 353.5px,#a74600 356.5px,#ac3e00 358.5px,#c02000 362.5px,#d10200 369.5px,#d20100 370.5px,#e13200 389.5px,#eb7700 416.5px,#ed8400 423.5px,#ec7c00 430.5px,#e96700 436.5px,#e23c00 443.5px,#d30200 450.5px,#cc0b00 451.5px,#b72e00 453.5px,#965e00 455.5px,#7e6700 456.5px,#7e6700 462.5px,#8c6300 473.5px,#955f00 475.5px,#a74600 484.5px,#00934c 485.5px,#021c5c 486.5px,#021c5c 511.5px)"></i>
<i style="background:linear-gradient(#021c5c 0.5px,#021c5c 3.5px,#00962f 4.5px,#039104 296.5px,#198a03 343.5px,#1e8802 344.5px,#4c7900 349.5px,#906100 354.5px,#995a00 355.5px,#a44b00 357.5px,#aa4100 359.5px,#bf2100 363.5px,#d20000 371.5px,#e13300 391.5px,#ec7e00 423.5px,#eb7800 429.5px,#e75f00 436.5px,#e23c00 442.5px,#d30400 449.5px,#cd0900 450.5px,#b92a00 452.5px,#985c00 454.5px,#766a00 455.5px,#676f00 456.5px,#686f00 462.5px,#726b00 472.5px,#965e00 480.5px,#9e5300 484.5px,#00934c 485.5px,#021c5c 486.5px,#021c5c 511.5px)"></i>
<i style="background:linear-gradient(#021c5c 0.5px,#021c5c 3.5px,#00962f 4.5px,#039104 296.5px,#198a03 344.5px,#1c8903 345.5px,#497a00 350.5px,#8f6200 355.5px,#985b00 356.5px,#bf2000 364.5px,#d20100 372.5px,#e13200 392.5px,#eb7a00 423.5px,#ea7300 429.5px,#e75f00 435.5px,#e33d00 441.5px,#d40500 448.5px,#ce0600 449.5px,#bc2600 451.5px,#9a5900 453.5px,#796900 454.5px,#617100 455.5px,#617100 462.5px,#6c6e00 472.5px,#955f00 481.5px,#9b5700 484.5px,#00934c 485.5px,#021c5c 486.5px,#021c5c 511.5px)"></i>
<i style="background:linear-gradient(#021c5c 0.5px,#021c5c 3.5px,#00962f 4.5px,#039104 296.5px,#198a03 343.5px,#1e8802 344.5px,#4c7900 349.5px,#906100 354.5px,#995a00 355.5px,#bc2500 362.5px,#d20000 371.5px,#e13300 393.5px,#ea7300 423.5px,#e96c00 429.5px,#e65800 435.5px,#e33d00 440.5px,#d10200 448.5px,#c02000 450.5px,#9f5100 452.5px,#856500 453.5px,#736b00 454.5px,#736b00 462.5px,#7e6700 472.5px,#975d00 478.5px,#a24c00 484.5px,#00934c 485.5px,#021c5c 486.5px,#021c5c 511.5px)"></i>
<i style="background:linear-gradient(#021c5c 0.5px,#021c5c 3.5px,#00962f 4.5px,#039104 296.5px,#188a03 341.5px,#1b8903 342.5px,#477a00 347.5px,#965f00 353.5px,#be2300 361.5px,#d20100 370.5px,#e13200 394.5px,#e96b00 423.5px,#e86400 429.5px,#e55100 435.5px,#e03000 441.5px,#d30300 447.5px,#cd0900 448.5px,#bc2700 450.5px,#9a5900 452.5px,#7f6700 453.5px,#806700 462.5px,#8d6200 473.5px,#965f00 475.5px,#a74500 484.5px,#00934c 485.5px,#021c5c 486.5px,#021c5c 511.5px)"></i>
<i style="background:linear-gradient(#021c5c 0.5px,#021c5c 3.5px,#00962f 4.5px,#039104 296.5px,#188a03 341.5px,#1d8803 342.5px,#497a00 347.5px,#975d00 353.5px,#bf2200 361.5px,#d10100 370.5px,#e13200 395.5px,#e86600 423.5px,#e75f00 429.5px,#e54d00 435.5px,#e02d00 441.5px,#d20200 447.5px,#cc0a00 448.5px,#bb2800 450.5px,#9a5900 452.5px,#786900 453.5px,#746b00 454.5px,#746b00 461.5px,#7f6700 472.5px,#955f00 477.5px,#a34b00 484.5px,#00934c 485.5px,#021c5c 486.5px,#021c5c 511.5px)"></i>
<i style="background:linear-gradient(#021c5c 0.5px,#021c5c 3.5px,#00962f 4.5px,#039104 296.5px,#198a03 343.5px,#457b00 348.5px,#955f00 354.5px,#a54800 357.5px,#a74500 358.5px,#be2300 362.5px,#d20100 372.5px,#e13300 397.5px,#e86200 423.5px,#e75c00 429.5px,#e44a00 435.5px,#df2c00 441.5px,#d20100 447.5px,#cc0a00 448.5px,#bc2600 450.5px,#9c5700 452.5px,#7c6800 453.5px,#547600 454.5px,#4b7900 455.5px,#4b7900 462.5px,#567500 472.5px,#8d6200 484.5px,#00934c 485.5px,#021c5c 486.5px,#021c5c 511.5px)"></i>
<i style="background:linear-gradient(#021c5c 0.5px,#021c5c 3.5px,#00962f 4.5px,#039104 296.5px,#1c8903 349.5px,#1f8802 350.5px,#457b00 354.5px,#985d00 360.5px,#bc2500 367.5px,#d10200 376.5px,#e13300 401.5px,#e75c00 423.5px,#e65600 429.5px,#e44500 435.5px,#de2700 441.5px,#d10100 447.5px,#ba2900 450.5px,#9a5800 452.5px,#796900 453.5px,#517700 454.5px,#348101 455.5px,#2d8302 456.5px,#2d8302 473.5px,#527700 484.5px,#00934c 485.5px,#021c5c 486.5px,#021c5c 511.5px)"></i>
<i style="background:linear-gradient(#021c5c 0.5px,#021c5c 3.5px,#00962f 4.5px,#039104 296.5px,#208702 358.5px,#238602 359.5px,#4d7800 363.5px,#975d00 368.5px,#a34b00 370.5px,#ab4000 372.5px,#be2300 375.5px,#d10100 383.5px,#e13200 406.5px,#e65300 423.5px,#e54d00 429.5px,#e34000 434.5px,#de2700 440.5px,#d30200 446.5px,#ce0700 447.5px,#c11e00 449.5px,#b53000 450.5px,#965e00 452.5px,#477a00 454.5px,#2d8302 455.5px,#2d8302 477.5px,#427c00 484.5px,#00934c 485.5px,#021c5c 486.5px,#021c5c 511.5px)"></i>
<i style="background:linear-gradient(#021c5c 0.5px,#021c5c 3.5px,#00962f 4.5px,#039104 296.5px,#228702 362.5px,#248602 363.5px,#4d7800 367.5px,#975e00 372.5px,#a74500 375.5px,#a84400 376.5px,#bd2500 379.5px,#d10200 387.5px,#e13100 410.5px,#e44a00 423.5px,#e44500 429.5px,#e23900 434.5px,#dc2100 440.5px,#d30400 445.5px,#d00300 446.5px,#bd2400 449.5px,#a14e00 451.5px,#896400 452.5px,#607200 453.5px,#3d7e01 454.5px,#2d8302 455.5px,#308201 472.5px,#477a00 480.5px,#597400 484.5px,#00934c 485.5px,#021c5c 486.5px,#021c5c 511.5px)"></i>
<i style="background:linear-gradient(#021c5c 0.5px,#021c5c 3.5px,#00962f 4.5px,#039104 296.5px,#228702 362.5px,#457b00 366.5px,#8f6200 371.5px,#995a00 372.5px,#a54900 374.5px,#a84400 376.5px,#bd2500 379.5px,#d20000 388.5px,#e44400 423.5px,#e33e00 429.5px,#e13300 434.5px,#da1b00 440.5px,#d20000 445.5px,#c11e00 448.5px,#b72d00 449.5px,#9a5800 451.5px,#776a00 452.5px,#4e7800 453.5px,#318201 454.5px,#2e8302 455.5px,#2e8302 461.5px,#348101 472.5px,#497a00 479.5px,#617100 484.5px,#00934c 485.5px,#021c5c 486.5px,#021c5c 511.5px)"></i>
<i style="background:linear-gradient(#021c5c 0.5px,#021c5c 3.5px,#00962f 4.5px,#039104 296.5px,#218702 361.5px,#487a00 365.5px,#946000 370.5px,#9b5700 371.5px,#a74600 373.5px,#a84300 375.5px,#bf2100 379.5px,#d20000 388.5px,#e33e00 423.5px,#e23900 429.5px,#e02e00 434.5px,#da1c00 439.5px,#d30200 444.5px,#cf0600 445.5px,#bd2400 448.5px,#a34b00 450.5px,#8d6200 451.5px,#3e7d01 453.5px,#2d8302 454.5px,#2d8302 474.5px,#4d7800 484.5px,#00934c 485.5px,#021c5c 486.5px,#021c5c 511.5px)"></i>
<i style="background:linear-gradient(#021c5c 0.5px,#021c5c 3.5px,#00962f 4.5px,#039104 296.5px,#218702 361.5px,#467b00 365.5px,#916100 370.5px,#9a5900 371.5px,#a64800 373.5px,#a94200 376.5px,#bf2100 380.5px,#d00400 388.5px,#d20100 390.5px,#e23800 423.5px,#e13500 428.5px,#df2b00 433.5px,#da1a00 438.5px,#d30300 443.5px,#d00400 444.5px,#c02000 447.5px,#aa4100 449.5px,#9a5900 450.5px,#756a00 451.5px,#4a7900 452.5px,#2e8302 453.5px,#2d8302 478.5px,#3e7d01 484.5px,#00934c 485.5px,#021c5c 486.5px,#021c5c 511.5px)"></i>
<i style="background:linear-gradient(#021c5c 0.5px,#021c5c 3.5px,#00962f 4.5px,#039104 296.5px,#1f8802 357.5px,#437c00 361.5px,#8e6200 366.5px,#995b00 367.5px,#a54900 369.5px,#aa4200 373.5px,#be2200 377.5px,#d20100 389.5px,#e02f00 423.5px,#df2c00 428.5px,#dc2300 433.5px,#d20200 442.5px,#cf0500 443.5px,#c11e00 446.5px,#ae3b00 448.5px,#a05000 449.5px,#836500 450.5px,#577500 451.5px,#368001 452.5px,#2d8302 453.5px,#2d8302 475.5px,#477a00 484.5px,#00934c 485.5px,#021c5c 486.5px,#021c5c 511.5px)"></i>
<i style="background:linear-gradient(#021c5c 0.5px,#021c5c 3.5px,#00962f 4.5px,#039104 296.5px,#1a8903 346.5px,#487a00 351.5px,#8e6200 356.5px,#985c00 357.5px,#a74500 360.5px,#aa4100 365.5px,#be2300 370.5px,#d20000 386.5px,#dd2500 423.5px,#da1c00 432.5px,#d10100 441.5px,#c11e00 445.5px,#ba2900 446.5px,#a54800 448.5px,#8f6100 449.5px,#627100 450.5px,#3c7e01 451.5px,#378001 452.5px,#378001 462.5px,#3e7d01 472.5px,#4a7900 476.5px,#706c00 484.5px,#00934c 485.5px,#021c5c 486.5px,#021c5c 511.5px)"></i>
<i style="background:linear-gradient(#021c5c 0.5px,#021c5c 3.5px,#00962f 4.5px,#039104 291.5px,#1e8802 329.5px,#467b00 334.5px,#975d00 341.5px,#a74500 345.5px,#b03800 358.5px,#be2200 363.5px,#d20000 382.5px,#dc2200 423.5px,#d91900 432.5px,#d20100 440.5px,#cf0400 441.5px,#bf2100 445.5px,#ae3b00 447.5px,#a14e00 448.5px,#856500 449.5px,#577500 450.5px,#368001 451.5px,#368001 462.5px,#3d7e01 472.5px,#477a00 476.5px,#6e6d00 484.5px,#00934c 485.5px,#021c5c 486.5px,#021c5c 511.5px)"></i>
<i style="background:linear-gradient(#021c5c 0.5px,#021c5c 3.5px,#00962f 4.5px,#019420 88.5px,#039104 153.5px,#378001 206.5px,#487a00 245.5px,#965f00 314.5px,#985c00 317.5px,#a64700 321.5px,#a74500 322.5px,#b33300 342.5px,#c11e00 358.5px,#d20000 376.5px,#dd2600 423.5px,#db1d00 432.5px,#d20000 441.5px,#c11d00 445.5px,#bc2700 446.5px,#a74500 448.5px,#955f00 449.5px,#3f7d00 451.5px,#3a7f01 452.5px,#3a7f01 476.5px,#497a00 481.5px,#577500 484.5px,#00934c 485.5px,#021c5c 486.5px,#021c5c 511.5px)"></i>
<i style="background:linear-gradient(#021c5c 0.5px,#021c5c 3.5px,#00962f 4.5px,#019420 88.5px,#039104 153.5px,#378001 206.5px,#487a00 245.5px,#965f00 313.5px,#a74500 318.5px,#b23400 338.5px,#d20000 373.5px,#de2800 423.5px,#db1f00 432.5px,#d30300 441.5px,#d00300 442.5px,#bf2100 446.5px,#b03700 448.5px,#b03700 484.5px,#00934c 485.5px,#021c5c 486.5px,#021c5c 511.5px)"></i>
<i style="background:linear-gradient(#021c5c 0.5px,#021c5c 3.5px,#00962f 4.5px,#039104 291.5px,#118c03 313.5px,#477a00 321.5px,#936000 328.5px,#a74500 333.5px,#af3a00 346.5px,#bf2200 352.5px,#d20000 373.5px,#dd2600 423.5px,#db1d00 432.5px,#d10200 442.5px,#c11e00 446.5px,#a74500 449.5px,#955f00 450.5px,#427c00 452.5px,#3d7e01 453.5px,#3e7d01 462.5px,#467b00 473.5px,#7a6900 484.5px,#00934c 485.5px,#021c5c 486.5px,#021c5c 511.5px)"></i>
<i style="background:linear-gradient(#021c5c 0.5px,#021c5c 3.5px,#00962f 4.5px,#039104 295.5px,#088f04 306.5px,#457b00 315.5px,#975e00 323.5px,#a74600 327.5px,#b13600 345.5px,#bf2100 351.5px,#d20000 373.5px,#dd2400 423.5px,#da1b00 432.5px,#d10200 442.5px,#bd2500 447.5px,#aa4000 449.5px,#9c5600 450.5px,#537600 452.5px,#537600 462.5px,#5e7200 472.5px,#965f00 484.5px,#00934c 485.5px,#021c5c 486.5px,#021c5c 511.5px)"></i>
<i style="background:linear-gradient(#021c5c 0.5px,#021c5c 3.5px,#00962f 4.5px,#039104 292.5px,#069004 297.5px,#0a8f04 298.5px,#467b00 307.5px,#955f00 315.5px,#a74500 320.5px,#b43100 343.5px,#c11e00 350.5px,#d20000 371.5px,#dd2300 423.5px,#da1b00 432.5px,#d10200 442.5px,#be2300 447.5px,#ac3e00 449.5px,#9f5100 450.5px,#826600 451.5px,#5b7300 452.5px,#5c7300 462.5px,#667000 472.5px,#946000 482.5px,#995a00 484.5px,#00934c 485.5px,#021c5c 486.5px,#021c5c 511.5px)"></i>
<i style="background:linear-gradient(#021c5c 0.5px,#021c5c 3.5px,#00962f 4.5px,#01941e 97.5px,#029211 216.5px,#039104 276.5px,#0e8d03 288.5px,#467b00 297.5px,#916100 305.5px,#a64700 310.5px,#b53100 336.5px,#c61500 353.5px,#d20000 369.5px,#dd2400 423.5px,#da1a00 433.5px,#d20000 442.5px,#bf2100 447.5px,#a34c00 450.5px,#8b6300 451.5px,#617100 452.5px,#3d7e01 453.5px,#378001 454.5px,#378001 462.5px,#407d00 473.5px,#497a00 476.5px,#706c00 484.5px,#00934c 485.5px,#021c5c 486.5px,#021c5c 511.5px)"></i>
<i style="background:linear-gradient(#021c5c 0.5px,#021c5c 3.5px,#00962d 4.5px,#029211 185.5px,#039104 240.5px,#2e8302 280.5px,#4d7800 285.5px,#946000 293.5px,#a64700 298.5px,#b43300 325.5px,#d20000 366.5px,#dd2400 423.5px,#da1a00 433.5px,#d20100 442.5px,#c02000 447.5px,#a64700 450.5px,#946000 451.5px,#437c00 453.5px,#2d8302 454.5px,#2d8302 476.5px,#467b00 484.5px,#00934c 485.5px,#021c5c 486.5px,#021c5c 511.5px)"></i>
<i style="background:linear-gradient(#021c5c 0.5px,#021c5c 3.5px,#019423 4.5px,#039104 158.5px,#098f04 172.5px,#278502 204.5px,#477a00 230.5px,#956000 264.5px,#be2300 304.5px,#d20100 339.5px,#e23600 422.5px,#de2900 433.5px,#da1a00 438.5px,#d20000 444.5px,#be2300 448.5px,#a84400 450.5px,#985c00 451.5px,#477a00 453.5px,#2d8302 454.5px,#2d8302 475.5px,#467b00 484.5px,#00934c 485.5px,#021c5c 486.5px,#021c5c 511.5px)"></i>
<i style="background:linear-gradient(#021c5c 0.5px,#021c5c 3.5px,#0a8f04 4.5px,#487a00 71.5px,#965f00 125.5px,#ae3c00 166.5px,#b72d00 198.5px,#d20000 254.5px,#e13200 345.5px,#e86000 422.5px,#e75b00 428.5px,#e44a00 434.5px,#df2c00 440.5px,#d20100 446.5px,#cc0b00 447.5px,#ba2900 449.5px,#995a00 451.5px,#4a7900 453.5px,#2f8201 454.5px,#2d8302 472.5px,#477a00 481.5px,#547600 484.5px,#00934c 485.5px,#021c5c 486.5px,#021c5c 511.5px)"></i>
<i style="background:linear-gradient(#021c5c 0.5px,#021c5c 3.5px,#816600 4.5px,#965f00 14.5px,#a74600 36.5px,#ae3b00 65.5px,#be2300 106.5px,#d20000 180.5px,#e02e00 293.5px,#e75e00 387.5px,#f19d00 423.5px,#ef9100 429.5px,#eb7600 435.5px,#e34300 441.5px,#d30400 447.5px,#cb0c00 448.5px,#c01f00 449.5px,#9b5700 451.5px,#796900 452.5px,#4f7700 453.5px,#338101 454.5px,#328101 462.5px,#397f01 472.5px,#477a00 477.5px,#686f00 484.5px,#00934c 485.5px,#021c5c 486.5px,#021c5c 511.5px)"></i>
<i style="background:linear-gradient(#021c5c 0.5px,#021c5c 3.5px,#368001 4.5px,#477a00 20.5px,#617100 36.5px,#746b00 63.5px,#965f00 96.5px,#be2300 167.5px,#d20000 223.5px,#e54b00 369.5px,#eb7900 386.5px,#f8cd00 423.5px,#f6b700 430.5px,#ee8a00 438.5px,#e86100 443.5px,#e03000 448.5px,#d40700 452.5px,#cf0600 453.5px,#c51600 454.5px,#ba2a00 455.5px,#a74600 456.5px,#995b00 457.5px,#587400 459.5px,#3c7e01 460.5px,#368001 461.5px,#3f7d01 473.5px,#497a00 476.5px,#6f6c00 484.5px,#00934c 485.5px,#021c5c 486.5px,#021c5c 511.5px)"></i>
<i style="background:linear-gradient(#021c5c 0.5px,#021c5c 3.5px,#029314 4.5px,#039104 74.5px,#258602 121.5px,#487a00 159.5px,#896400 195.5px,#965f00 202.5px,#be2300 247.5px,#d20000 289.5px,#de2900 354.5px,#eb7900 381.5px,#fbe000 423.5px,#fad800 427.5px,#f8c700 432.5px,#f19800 441.5px,#eb7700 446.5px,#e02f00 454.5px,#d10200 459.5px,#bf2100 461.5px,#a14f00 463.5px,#946000 464.5px,#417c00 467.5px,#358001 468.5px,#387f01 472.5px,#467b00 477.5px,#667000 484.5px,#00934c 485.5px,#021c5c 486.5px,#021c5c 511.5px)"></i>
<i style="background:linear-gradient(#021c5c 0.5px,#021c5c 3.5px,#019528 4.5px,#039104 171.5px,#258602 207.5px,#487a00 235.5px,#965f00 269.5px,#a74500 275.5px,#ae3b00 289.5px,#d20100 338.5px,#d40600 343.5px,#e13200 358.5px,#eb7800 380.5px,#fce900 423.5px,#fbe100 427.5px,#f9d000 432.5px,#f19d00 442.5px,#ea7400 448.5px,#e13500 455.5px,#d40500 460.5px,#ce0700 461.5px,#c51600 462.5px,#bb2800 463.5px,#a94200 464.5px,#8d6200 466.5px,#567500 468.5px,#3f7d01 469.5px,#308201 470.5px,#338101 473.5px,#457b00 479.5px,#5c7300 484.5px,#00934c 485.5px,#021c5c 486.5px,#021c5c 511.5px)"></i>
<i style="background:linear-gradient(#021c5c 0.5px,#021c5c 3.5px,#00962e 4.5px,#029212 170.5px,#039104 226.5px,#2c8302 264.5px,#477a00 269.5px,#926000 278.5px,#a74500 284.5px,#af3a00 298.5px,#d20000 343.5px,#e03000 360.5px,#eb7800 382.5px,#fce700 423.5px,#fbdf00 427.5px,#f9ce00 432.5px,#f19d00 442.5px,#eb7700 448.5px,#e03000 456.5px,#d20100 461.5px,#c31b00 463.5px,#a64800 465.5px,#9b5800 466.5px,#876400 467.5px,#507700 469.5px,#3c7e01 470.5px,#318201 471.5px,#467b00 479.5px,#5c7300 484.5px,#00934c 485.5px,#021c5c 486.5px,#021c5c 511.5px)"></i>
<i style="background:linear-gradient(#021c5c 0.5px,#021c5c 3.5px,#00962f 4.5px,#02920f 214.5px,#039104 258.5px,#0c8e03 268.5px,#457b00 278.5px,#926100 287.5px,#a74500 293.5px,#af3a00 306.5px,#d10100 347.5px,#e13400 364.5px,#eb7800 384.5px,#fce600 423.5px,#fbde00 427.5px,#f9cd00 432.5px,#f19c00 442.5px,#eb7500 448.5px,#e02f00 456.5px,#d20000 461.5px,#c11d00 463.5px,#a44a00 465.5px,#995a00 466.5px,#836600 467.5px,#4c7900 469.5px,#397f01 470.5px,#328101 471.5px,#477a00 479.5px,#5e7200 484.5px,#00934c 485.5px,#021c5c 486.5px,#021c5c 511.5px)"></i>
<i style="background:linear-gradient(#021c5c 0.5px,#021c5c 3.5px,#00962f 4.5px,#01941e 97.5px,#029211 217.5px,#039104 278.5px,#457b00 289.5px,#955f00 298.5px,#a74600 303.5px,#ae3a00 315.5px,#d20100 353.5px,#e13200 368.5px,#eb7a00 388.5px,#fbe200 423.5px,#fada00 427.5px,#f8ca00 432.5px,#f19900 442.5px,#ea7200 448.5px,#e13500 455.5px,#d40800 460.5px,#d10200 461.5px,#c01f00 463.5px,#a34c00 465.5px,#985c00 466.5px,#487a00 469.5px,#378001 470.5px,#328101 471.5px,#477a00 479.5px,#5e7200 484.5px,#00934c 485.5px,#021c5c 486.5px,#021c5c 511.5px)"></i>
<i style="background:linear-gradient(#021c5c 0.5px,#021c5c 3.5px,#00962f 4.5px,#039104 288.5px,#477a00 299.5px,#936000 307.5px,#a74500 312.5px,#ae3b00 323.5px,#d20100 358.5px,#e13300 373.5px,#eb7700 392.5px,#f9d400 423.5px,#f6bd00 432.5px,#ef8f00 442.5px,#e96800 448.5px,#e02f00 455.5px,#d30500 460.5px,#ce0600 461.5px,#bf2100 463.5px,#a24d00 465.5px,#975d00 466.5px,#487a00 469.5px,#368001 470.5px,#2d8302 471.5px,#2e8302 474.5px,#4e7800 484.5px,#00934c 485.5px,#021c5c 486.5px,#021c5c 511.5px)"></i>
<i style="background:linear-gradient(#021c5c 0.5px,#021c5c 3.5px,#00962f 4.5px,#039104 292.5px,#487a00 303.5px,#965f00 311.5px,#a54900 315.5px,#b03800 328.5px,#d20100 359.5px,#e13200 375.5px,#eb7700 396.5px,#f7c200 423.5px,#f4af00 432.5px,#ec8000 443.5px,#e65200 450.5px,#e13300 454.5px,#d30300 460.5px,#cd0900 461.5px,#be2300 463.5px,#a24d00 465.5px,#975e00 466.5px,#477a00 469.5px,#358001 470.5px,#2d8302 471.5px,#2e8302 476.5px,#467b00 484.5px,#00934c 485.5px,#021c5c 486.5px,#021c5c 511.5px)"></i>
<i style="background:linear-gradient(#021c5c 0.5px,#021c5c 3.5px,#00962f 4.5px,#039105 292.5px,#487a00 303.5px,#965f00 311.5px,#a54900 315.5px,#af3900 327.5px,#c90f00 352.5px,#d20000 356.5px,#e13400 374.5px,#eb7800 396.5px,#f7be00 423.5px,#f4ac00 432.5px,#ec7e00 443.5px,#e55000 450.5px,#e13200 454.5px,#d20100 460.5px,#bc2600 463.5px,#ad3d00 464.5px,#946000 466.5px,#447b00 469.5px,#328101 470.5px,#2d8302 471.5px,#2e8301 473.5px,#477a00 481.5px,#547600 484.5px,#00934c 485.5px,#021c5c 486.5px,#021c5c 511.5px)"></i>
<i style="background:linear-gradient(#021c5c 0.5px,#021c5c 3.5px,#00962f 4.5px,#039105 293.5px,#487a00 304.5px,#965f00 312.5px,#a54800 316.5px,#ae3b00 327.5px,#c61500 349.5px,#d10100 354.5px,#e13100 371.5px,#eb7800 393.5px,#f8c800 423.5px,#f5b400 432.5px,#ee8700 442.5px,#ea6e00 446.5px,#e13100 454.5px,#d10100 460.5px,#c21c00 462.5px,#9c5600 465.5px,#8a6300 466.5px,#527600 468.5px,#3d7e01 469.5px,#397f01 470.5px,#3c7e01 473.5px,#487a00 477.5px,#6a6e00 484.5px,#00934c 485.5px,#021c5c 486.5px,#021c5c 511.5px)"></i>
<i style="background:linear-gradient(#021c5c 0.5px,#021c5c 3.5px,#00962f 4.5px,#049104 299.5px,#457b00 309.5px,#955f00 317.5px,#a54900 321.5px,#af3a00 332.5px,#c41900 350.5px,#d10100 356.5px,#e13300 373.5px,#eb7a00 394.5px,#f8ca00 423.5px,#f5b400 432.5px,#ee8900 441.5px,#ea7100 445.5px,#e13100 453.5px,#d40700 458.5px,#d00300 459.5px,#c11e00 461.5px,#995a00 464.5px,#816600 465.5px,#487a00 467.5px,#4f7800 473.5px,#846500 484.5px,#00934c 485.5px,#021c5c 486.5px,#021c5c 511.5px)"></i>
<i style="background:linear-gradient(#021c5c 0.5px,#021c5c 3.5px,#00962f 4.5px,#039104 296.5px,#088f04 307.5px,#477a00 316.5px,#906100 323.5px,#a44a00 327.5px,#a74500 328.5px,#ae3b00 337.5px,#c31a00 354.5px,#d20000 360.5px,#e13300 377.5px,#eb7900 399.5px,#f6b800 423.5px,#f3a800 431.5px,#ec7d00 441.5px,#e86200 445.5px,#e13300 451.5px,#d10200 457.5px,#c11e00 459.5px,#975d00 462.5px,#5d7300 464.5px,#487a00 465.5px,#527600 473.5px,#876400 484.5px,#00934c 485.5px,#021c5c 486.5px,#021c5c 511.5px)"></i>
<i style="background:linear-gradient(#021c5c 0.5px,#021c5c 3.5px,#00962f 4.5px,#039104 296.5px,#0a8f04 312.5px,#4a7900 321.5px,#965f00 328.5px,#a74600 332.5px,#ae3b00 341.5px,#c11e00 355.5px,#d20000 362.5px,#e13100 380.5px,#eb7800 405.5px,#f2a100 423.5px,#f09500 431.5px,#eb7700 439.5px,#e44a00 446.5px,#d10100 455.5px,#c11d00 457.5px,#975d00 460.5px,#3f7d01 463.5px,#457b00 473.5px,#786900 484.5px,#00934c 485.5px,#021c5c 486.5px,#021c5c 511.5px)"></i>
<i style="background:linear-gradient(#021c5c 0.5px,#021c5c 3.5px,#00962f 4.5px,#039104 296.5px,#0d8e03 317.5px,#457b00 325.5px,#926100 332.5px,#a54800 336.5px,#ae3b00 345.5px,#bf2100 356.5px,#d20000 365.5px,#e13100 386.5px,#eb7600 416.5px,#ed8200 423.5px,#eb7900 431.5px,#e86300 437.5px,#e23900 444.5px,#d20200 451.5px,#c31a00 453.5px,#b82c00 454.5px,#985b00 456.5px,#557600 458.5px,#3a7f01 459.5px,#2f8201 460.5px,#378001 473.5px,#477a00 478.5px,#637100 484.5px,#00934c 485.5px,#021c5c 486.5px,#021c5c 511.5px)"></i>
<i style="background:linear-gradient(#021c5c 0.5px,#021c5c 3.5px,#00962f 4.5px,#039104 296.5px,#0f8d03 323.5px,#118c03 324.5px,#477a00 331.5px,#975e00 338.5px,#a74500 342.5px,#ac3d00 349.5px,#b72d00 357.5px,#d10100 371.5px,#e13100 403.5px,#e54d00 423.5px,#e44900 428.5px,#e33d00 433.5px,#de2800 438.5px,#d10200 445.5px,#bc2600 448.5px,#9d5400 450.5px,#7e6700 451.5px,#537600 452.5px,#348101 453.5px,#2d8302 454.5px,#2d8302 476.5px,#437c00 484.5px,#00934c 485.5px,#021c5c 486.5px,#021c5c 511.5px)"></i>
<i style="background:linear-gradient(#021c5c 0.5px,#021c5c 3.5px,#00962f 4.5px,#039104 296.5px,#138c03 330.5px,#497a00 337.5px,#926000 343.5px,#a74500 347.5px,#ab3f00 353.5px,#b53000 361.5px,#c31b00 366.5px,#d20100 376.5px,#e34300 423.5px,#e33e00 429.5px,#e13200 434.5px,#db2000 439.5px,#d20000 445.5px,#c11e00 448.5px,#aa4100 450.5px,#9a5900 451.5px,#4c7900 453.5px,#308201 454.5px,#2d8302 455.5px,#2d8302 479.5px,#3a7f01 484.5px,#00934c 485.5px,#021c5c 486.5px,#021c5c 511.5px)"></i>
<i style="background:linear-gradient(#021c5c 0.5px,#021c5c 3.5px,#00962f 4.5px,#039104 296.5px,#168b03 337.5px,#188a03 338.5px,#437c00 343.5px,#985c00 350.5px,#a74600 353.5px,#b23400 365.5px,#c02000 369.5px,#d20000 381.5px,#e23700 423.5px,#e13400 428.5px,#de2a00 434.5px,#da1a00 439.5px,#d20100 445.5px,#be2300 449.5px,#a84500 451.5px,#985c00 452.5px,#4a7900 454.5px,#308201 455.5px,#2d8302 473.5px,#507700 484.5px,#00934c 485.5px,#021c5c 486.5px,#021c5c 511.5px)"></i>
<i style="background:linear-gradient(#021c5c 0.5px,#021c5c 3.5px,#00962f 4.5px,#039104 296.5px,#1a8903 346.5px,#457b00 351.5px,#975e00 357.5px,#a74600 360.5px,#b23600 371.5px,#c01f00 375.5px,#d20100 387.5px,#e02f00 423.5px,#dc2300 434.5px,#d30300 444.5px,#d00300 445.5px,#bf2100 449.5px,#ad3c00 451.5px,#a14f00 452.5px,#896300 453.5px,#3f7d01 455.5px,#2e8301 456.5px,#378001 473.5px,#4a7900 479.5px,#627100 484.5px,#00934c 485.5px,#021c5c 486.5px,#021c5c 511.5px)"></i>
<i style="background:linear-gradient(#021c5c 0.5px,#021c5c 3.5px,#00962f 4.5px,#039104 296.5px,#1d8802 352.5px,#4d7800 357.5px,#975e00 362.5px,#a74500 365.5px,#b03800 374.5px,#bf2100 378.5px,#d20100 390.5px,#df2d00 423.5px,#dc2100 434.5px,#d20100 444.5px,#d00400 445.5px,#bf2200 449.5px,#ad3d00 451.5px,#a05000 452.5px,#876400 453.5px,#607200 454.5px,#3e7d01 455.5px,#308201 456.5px,#397f01 473.5px,#487a00 478.5px,#657000 484.5px,#00934c 485.5px,#021c5c 486.5px,#021c5c 511.5px)"></i>
<i style="background:linear-gradient(#021c5c 0.5px,#021c5c 3.5px,#00962f 4.5px,#039104 296.5px,#1e8802 354.5px,#238602 355.5px,#4c7900 359.5px,#975e00 364.5px,#a74500 367.5px,#af3900 375.5px,#c02000 379.5px,#d20100 390.5px,#e03000 423.5px,#df2c00 429.5px,#dd2300 434.5px,#d20100 444.5px,#c11d00 448.5px,#b13700 450.5px,#a54800 451.5px,#946000 452.5px,#457b00 454.5px,#2d8302 455.5px,#2f8201 472.5px,#467b00 480.5px,#587400 484.5px,#00934c 485.5px,#021c5c 486.5px,#021c5c 511.5px)"></i>
<i style="background:linear-gradient(#021c5c 0.5px,#021c5c 3.5px,#00962f 4.5px,#039104 296.5px,#1f8802 356.5px,#208702 357.5px,#497a00 361.5px,#965f00 366.5px,#a74500 369.5px,#ae3a00 376.5px,#bf2000 380.5px,#d20000 390.5px,#e13400 423.5px,#de2800 433.5px,#d10200 444.5px,#bc2600 448.5px,#a54900 450.5px,#916100 451.5px,#417c00 453.5px,#2d8302 454.5px,#2d8302 474.5px,#4e7800 484.5px,#00934c 485.5px,#021c5c 486.5px,#021c5c 511.5px)"></i>
<i style="background:linear-gradient(#021c5c 0.5px,#021c5c 3.5px,#00962f 4.5px,#039104 296.5px,#218702 360.5px,#238602 361.5px,#4d7800 365.5px,#975e00 370.5px,#a74500 373.5px,#ae3b00 379.5px,#c02000 383.5px,#d20000 392.5px,#e13400 423.5px,#e03000 428.5px,#de2700 433.5px,#d10100 443.5px,#bc2600 447.5px,#a44a00 449.5px,#8e6200 450.5px,#627100 451.5px,#3d7e01 452.5px,#2d8302 453.5px,#2d8302 475.5px,#467b00 484.5px,#00934c 485.5px,#021c5c 486.5px,#021c5c 511.5px)"></i>
<i style="background:linear-gradient(#021c5c 0.5px,#021c5c 3.5px,#00962f 4.5px,#039104 296.5px,#238602 364.5px,#477a00 368.5px,#906100 373.5px,#a54800 376.5px,#ad3c00 382.5px,#be2300 385.5px,#d20100 395.5px,#e02f00 423.5px,#df2c00 428.5px,#dc2200 433.5px,#d20000 442.5px,#bf2200 446.5px,#a94300 448.5px,#975d00 449.5px,#437c00 451.5px,#2d8302 452.5px,#2d8302 477.5px,#427c00 484.5px,#00934c 485.5px,#021c5c 486.5px,#021c5c 511.5px)"></i>
<i style="background:linear-gradient(#021c5c 0.5px,#021c5c 3.5px,#00962f 4.5px,#039104 296.5px,#238602 364.5px,#288502 365.5px,#457b00 368.5px,#995b00 374.5px,#a44a00 376.5px,#ad3c00 382.5px,#bf2200 385.5px,#d20000 395.5px,#df2c00 423.5px,#dc2200 432.5px,#d30300 441.5px,#d00300 442.5px,#bc2500 446.5px,#a64700 448.5px,#916100 449.5px,#647000 450.5px,#3d7e01 451.5px,#2d8302 452.5px,#2d8302 473.5px,#507700 484.5px,#00934c 485.5px,#021c5c 486.5px,#021c5c 511.5px)"></i>
<i style="background:linear-gradient(#021c5c 0.5px,#021c5c 3.5px,#00962f 4.5px,#039104 296.5px,#228702 363.5px,#288502 364.5px,#457b00 367.5px,#995b00 373.5px,#a74500 376.5px,#ac3e00 380.5px,#be2400 383.5px,#c01f00 384.5px,#d10100 392.5px,#e23600 423.5px,#e13200 428.5px,#de2800 433.5px,#d91700 438.5px,#d30300 442.5px,#d00400 443.5px,#c02000 446.5px,#a94200 448.5px,#995b00 449.5px,#457b00 451.5px,#2d8302 452.5px,#308201 472.5px,#477a00 480.5px,#5a7400 484.5px,#00934c 485.5px,#021c5c 486.5px,#021c5c 511.5px)"></i>
<i style="background:linear-gradient(#021c5c 0.5px,#021c5c 3.5px,#00962f 4.5px,#039104 296.5px,#228702 362.5px,#228702 363.5px,#4a7900 367.5px,#955f00 372.5px,#9c5700 373.5px,#a74500 375.5px,#b23500 382.5px,#c11e00 385.5px,#d10200 391.5px,#e13100 411.5px,#e54b00 423.5px,#e44600 428.5px,#e23a00 433.5px,#dd2400 438.5px,#d20000 444.5px,#be2400 447.5px,#9f5200 449.5px,#806700 450.5px,#537600 451.5px,#338101 452.5px,#2d8302 453.5px,#2d8302 475.5px,#467b00 484.5px,#00934c 485.5px,#021c5c 486.5px,#021c5c 511.5px)"></i>
<i style="background:linear-gradient(#021c5c 0.5px,#021c5c 3.5px,#00962f 4.5px,#039104 296.5px,#1e8802 353.5px,#228702 360.5px,#278502 361.5px,#447b00 364.5px,#8e6200 369.5px,#995b00 370.5px,#a54900 372.5px,#b23600 379.5px,#cc0b00 391.5px,#d20000 393.5px,#e13200 408.5px,#e75f00 423.5px,#e75900 428.5px,#e54b00 433.5px,#e13100 438.5px,#d10300 445.5px,#c11e00 447.5px,#a14f00 449.5px,#856500 450.5px,#597400 451.5px,#378001 452.5px,#2d8302 453.5px,#2d8302 479.5px,#3a7f01 484.5px,#00934c 485.5px,#021c5c 486.5px,#021c5c 511.5px)"></i>
<i style="background:linear-gradient(#021c5c 0.5px,#021c5c 3.5px,#00962f 4.5px,#01941e 97.5px,#029211 217.5px,#049104 277.5px,#1e8802 321.5px,#3c7e01 350.5px,#4f7800 352.5px,#955f00 357.5px,#a64700 360.5px,#ae3c00 366.5px,#be2200 374.5px,#d20100 387.5px,#dc2200 401.5px,#ea6f00 423.5px,#e96800 429.5px,#e65700 434.5px,#e13400 440.5px,#d30400 446.5px,#ce0800 447.5px,#c51700 448.5px,#ba2900 449.5px,#975e00 451.5px,#467b00 453.5px,#2d8302 454.5px,#2d8302 476.5px,#457b00 484.5px,#00934c 485.5px,#021c5c 486.5px,#021c5c 511.5px)"></i>
<i style="background:linear-gradient(#021c5c 0.5px,#021c5c 3.5px,#00962f 4.5px,#01941e 97.5px,#02920f 227.5px,#039104 238.5px,#487a00 264.5px,#975d00 286.5px,#a54800 297.5px,#b23600 343.5px,#d20000 370.5px,#e23700 402.5px,#ec7d00 423.5px,#eb7700 429.5px,#e75f00 436.5px,#e23b00 442.5px,#d30200 449.5px,#cc0b00 450.5px,#c31a00 451.5px,#b72d00 452.5px,#965f00 454.5px,#4a7900 456.5px,#368001 457.5px,#3e7d01 473.5px,#477a00 476.5px,#6e6d00 484.5px,#00934c 485.5px,#021c5c 486.5px,#021c5c 511.5px)"></i>
<i style="background:linear-gradient(#021c5c 0.5px,#021c5c 3.5px,#00962f 4.5px,#01941e 97.5px,#02920f 227.5px,#039104 262.5px,#387f01 330.5px,#507700 333.5px,#965f00 339.5px,#a74500 343.5px,#af3a00 351.5px,#be2300 360.5px,#d20100 377.5px,#d60d00 384.5px,#e13200 395.5px,#eb7800 416.5px,#ee8a00 423.5px,#ed8100 430.5px,#e96c00 436.5px,#e44900 442.5px,#e13300 445.5px,#d10200 451.5px,#c01f00 453.5px,#a05000 455.5px,#8b6300 456.5px,#676f00 457.5px,#4a7900 458.5px,#557500 472.5px,#8d6200 484.5px,#00934c 485.5px,#021c5c 486.5px,#021c5c 511.5px)"></i>
<i style="background:linear-gradient(#021c5c 0.5px,#021c5c 3.5px,#00962f 4.5px,#039104 296.5px,#158b03 333.5px,#168b03 334.5px,#487a00 340.5px,#936000 346.5px,#a34b00 349.5px,#a74500 350.5px,#ae3b00 357.5px,#c21c00 369.5px,#d20100 375.5px,#e13100 390.5px,#eb7600 411.5px,#f09500 423.5px,#ef8d00 429.5px,#eb7600 436.5px,#e44900 443.5px,#d30500 451.5px,#ce0800 452.5px,#c51700 453.5px,#ba2900 454.5px,#a74500 455.5px,#995a00 456.5px,#577500 458.5px,#477a00 459.5px,#527700 472.5px,#896300 484.5px,#00934c 485.5px,#021c5c 486.5px,#021c5c 511.5px)"></i>
<i style="background:linear-gradient(#021c5c 0.5px,#021c5c 3.5px,#00962f 4.5px,#039104 296.5px,#178a03 340.5px,#4a7900 346.5px,#975d00 352.5px,#a74600 355.5px,#b23500 364.5px,#bd2400 366.5px,#d10200 373.5px,#e13300 390.5px,#eb7900 413.5px,#ef9000 423.5px,#ee8700 430.5px,#ea6f00 437.5px,#e34300 444.5px,#d20100 452.5px,#c21c00 454.5px,#965f00 457.5px,#507700 459.5px,#378001 460.5px,#358001 462.5px,#3d7e01 473.5px,#4a7900 477.5px,#6c6e00 484.5px,#00934c 485.5px,#021c5c 486.5px,#021c5c 511.5px)"></i>
<i style="background:linear-gradient(#021c5c 0.5px,#021c5c 3.5px,#00962f 4.5px,#039104 296.5px,#1a8903 346.5px,#1c8903 347.5px,#4c7900 352.5px,#926000 357.5px,#9a5900 358.5px,#a54900 360.5px,#ad3c00 365.5px,#bf2200 368.5px,#d10200 375.5px,#e13300 394.5px,#ec7c00 423.5px,#eb7600 430.5px,#e86100 437.5px,#e33d00 444.5px,#d30400 452.5px,#ce0700 453.5px,#bf2100 455.5px,#a14f00 457.5px,#906100 458.5px,#4c7900 460.5px,#358001 461.5px,#2d8302 462.5px,#338101 473.5px,#497a00 480.5px,#5c7300 484.5px,#00934c 485.5px,#021c5c 486.5px,#021c5c 511.5px)"></i>
<i style="background:linear-gradient(#021c5c 0.5px,#021c5c 3.5px,#00962f 4.5px,#039104 296.5px,#1c8903 351.5px,#1d8802 352.5px,#447b00 356.5px,#985c00 362.5px,#a74500 365.5px,#a94300 367.5px,#bf2100 371.5px,#d10200 378.5px,#d20100 379.5px,#e13300 399.5px,#e96a00 423.5px,#e86400 430.5px,#e65300 437.5px,#e13400 444.5px,#d30400 452.5px,#cf0500 453.5px,#c21c00 455.5px,#b92b00 456.5px,#9d5500 458.5px,#866400 459.5px,#457b00 461.5px,#338101 462.5px,#3b7e01 473.5px,#477a00 477.5px,#696f00 484.5px,#00934c 485.5px,#021c5c 486.5px,#021c5c 511.5px)"></i>
<i style="background:linear-gradient(#021c5c 0.5px,#021c5c 3.5px,#00962f 4.5px,#039104 296.5px,#1c8903 351.5px,#4b7900 356.5px,#956000 361.5px,#9b5700 362.5px,#a64600 364.5px,#ad3c00 369.5px,#bf2100 372.5px,#d20100 380.5px,#e13300 401.5px,#e86300 423.5px,#e75d00 430.5px,#e54d00 437.5px,#e13100 444.5px,#d30400 452.5px,#d00300 453.5px,#bd2400 456.5px,#955f00 459.5px,#547600 461.5px,#3b7e01 462.5px,#358001 463.5px,#3d7e01 473.5px,#497a00 477.5px,#6b6e00 484.5px,#00934c 485.5px,#021c5c 486.5px,#021c5c 511.5px)"></i>
<i style="background:linear-gradient(#021c5c 0.5px,#021c5c 3.5px,#00962f 4.5px,#039104 296.5px,#1b8903 347.5px,#467b00 352.5px,#975d00 358.5px,#a74500 361.5px,#b23500 369.5px,#c11e00 372.5px,#d10200 378.5px,#d20100 379.5px,#e13200 397.5px,#ea7400 423.5px,#ea6e00 430.5px,#e75a00 437.5px,#e23700 444.5px,#d20100 452.5px,#b92a00 455.5px,#9b5700 457.5px,#816600 458.5px,#417c00 460.5px,#358001 461.5px,#3e7d01 473.5px,#477a00 476.5px,#6d6d00 484.5px,#00934c 485.5px,#021c5c 486.5px,#021c5c 511.5px)"></i>
<i style="background:linear-gradient(#021c5c 0.5px,#021c5c 3.5px,#00962f 4.5px,#039104 293.5px,#0e8d03 314.5px,#1d8802 340.5px,#228702 341.5px,#457b00 345.5px,#926000 351.5px,#a44a00 354.5px,#bb2700 368.5px,#d10100 376.5px,#e13100 391.5px,#eb7800 412.5px,#f09400 423.5px,#ee8c00 429.5px,#eb7600 435.5px,#e44600 442.5px,#d30500 449.5px,#cd0900 450.5px,#c41900 451.5px,#b62f00 452.5px,#a34b00 453.5px,#916100 454.5px,#467b00 456.5px,#417c00 457.5px,#477a00 472.5px,#7f6700 484.5px,#00934c 485.5px,#021c5c 486.5px,#021c5c 511.5px)"></i>
<i style="background:linear-gradient(#021c5c 0.5px,#021c5c 3.5px,#00962e 4.5px,#02920f 216.5px,#039104 265.5px,#417c00 332.5px,#507700 334.5px,#975e00 340.5px,#a44a00 343.5px,#c71300 369.5px,#d20000 373.5px,#e13200 388.5px,#eb7700 408.5px,#f2a100 423.5px,#f09500 429.5px,#eb7900 435.5px,#e75a00 439.5px,#e13400 443.5px,#d50900 447.5px,#d00400 448.5px,#b82c00 450.5px,#a34b00 451.5px,#8f6200 452.5px,#427c00 454.5px,#497a00 472.5px,#816600 484.5px,#00934c 485.5px,#021c5c 486.5px,#021c5c 511.5px)"></i>
<i style="background:linear-gradient(#021c5c 0.5px,#021c5c 3.5px,#019423 4.5px,#039104 99.5px,#0e8d03 116.5px,#238602 167.5px,#457b00 217.5px,#965f00 272.5px,#be2400 337.5px,#c31a00 354.5px,#d20000 368.5px,#d40600 372.5px,#e13100 386.5px,#eb7700 408.5px,#f19d00 423.5px,#ef9100 429.5px,#eb7600 435.5px,#e44500 441.5px,#d40600 447.5px,#cd0900 448.5px,#c21b00 449.5px,#9e5300 451.5px,#826600 452.5px,#587400 453.5px,#387f01 454.5px,#308201 455.5px,#378001 472.5px,#487a00 478.5px,#657000 484.5px,#00934c 485.5px,#021c5c 486.5px,#021c5c 511.5px)"></i>
<i style="background:linear-gradient(#021c5c 0.5px,#021c5c 3.5px,#029211 4.5px,#039104 23.5px,#487a00 67.5px,#956000 102.5px,#a04f00 116.5px,#aa4100 173.5px,#be2300 244.5px,#d20000 355.5px,#d20200 362.5px,#d91700 378.5px,#e13200 388.5px,#eb7800 413.5px,#ef8e00 423.5px,#ed8500 429.5px,#ea7100 434.5px,#e44700 440.5px,#d30400 447.5px,#cc0a00 448.5px,#c21c00 449.5px,#9f5200 451.5px,#836500 452.5px,#5a7400 453.5px,#397f01 454.5px,#2d8302 455.5px,#2d8302 477.5px,#417c00 484.5px,#00934c 485.5px,#021c5c 486.5px,#021c5c 511.5px)"></i>
<i style="background:linear-gradient(#021c5c 0.5px,#021c5c 3.5px,#019529 4.5px,#029313 96.5px,#039104 186.5px,#198a03 217.5px,#487a00 265.5px,#955f00 310.5px,#ac3d00 339.5px,#d20000 370.5px,#d50900 376.5px,#e13300 394.5px,#ea7200 423.5px,#e96b00 429.5px,#e65600 435.5px,#e13300 441.5px,#d30200 447.5px,#c31a00 449.5px,#b62f00 450.5px,#906100 452.5px,#427c00 454.5px,#2d8302 455.5px,#2d8302 482.5px,#328101 484.5px,#00934c 485.5px,#021c5c 486.5px,#021c5c 511.5px)"></i>
<i style="background:linear-gradient(#021c5c 0.5px,#021c5c 3.5px,#00962f 4.5px,#01941e 97.5px,#029210 216.5px,#039104 273.5px,#328101 328.5px,#457b00 331.5px,#965f00 338.5px,#a74500 342.5px,#b13600 352.5px,#c81100 369.5px,#d20000 374.5px,#e13300 399.5px,#e75f00 423.5px,#e75900 429.5px,#e44700 435.5px,#de2900 441.5px,#d20000 447.5px,#ba2900 450.5px,#9a5800 452.5px,#796900 453.5px,#517700 454.5px,#348101 455.5px,#2d8302 456.5px,#2d8302 481.5px,#358001 484.5px,#00934c 485.5px,#021c5c 486.5px,#021c5c 511.5px)"></i>
<i style="background:linear-gradient(#021c5c 0.5px,#021c5c 3.5px,#00962f 4.5px,#039104 294.5px,#0b8e04 309.5px,#188a03 332.5px,#4a7900 338.5px,#946000 344.5px,#a34b00 347.5px,#a74500 348.5px,#ac3e00 354.5px,#b62e00 361.5px,#d20100 375.5px,#e13300 402.5px,#e65500 423.5px,#e55000 429.5px,#e34000 435.5px,#dd2500 441.5px,#d10100 447.5px,#bd2400 450.5px,#9f5100 452.5px,#866400 453.5px,#5e7200 454.5px,#3d7e01 455.5px,#2d8302 456.5px,#2d8302 474.5px,#4b7900 484.5px,#00934c 485.5px,#021c5c 486.5px,#021c5c 511.5px)"></i>
<i style="background:linear-gradient(#021c5c 0.5px,#021c5c 3.5px,#00962f 4.5px,#039104 296.5px,#168b03 337.5px,#4a7900 343.5px,#965e00 349.5px,#a54800 352.5px,#b13700 362.5px,#be2300 365.5px,#d20000 376.5px,#e13100 405.5px,#e54c00 423.5px,#e44700 429.5px,#e23b00 434.5px,#dd2400 440.5px,#d30300 446.5px,#cf0500 447.5px,#bc2600 450.5px,#a05000 452.5px,#886400 453.5px,#3e7d01 455.5px,#358001 456.5px,#3e7d01 473.5px,#4b7900 477.5px,#6d6d00 484.5px,#00934c 485.5px,#021c5c 486.5px,#021c5c 511.5px)"></i>
<i style="background:linear-gradient(#021c5c 0.5px,#021c5c 3.5px,#00962f 4.5px,#039104 296.5px,#188a03 342.5px,#1b8903 343.5px,#487a00 348.5px,#975d00 354.5px,#a74600 357.5px,#ac3d00 363.5px,#bf2200 367.5px,#d20000 377.5px,#e13200 406.5px,#e54c00 423.5px,#e44700 429.5px,#e23b00 434.5px,#dd2400 440.5px,#d30200 446.5px,#ce0700 447.5px,#c21d00 449.5px,#b82c00 450.5px,#9b5700 452.5px,#7b6800 453.5px,#537600 454.5px,#3e7d01 455.5px,#3e7d01 462.5px,#477a00 473.5px,#7b6800 484.5px,#00934c 485.5px,#021c5c 486.5px,#021c5c 511.5px)"></i>
<i style="background:linear-gradient(#021c5c 0.5px,#021c5c 3.5px,#00962f 4.5px,#039104 296.5px,#1a8903 346.5px,#1d8802 347.5px,#427c00 351.5px,#936000 357.5px,#9a5800 358.5px,#a54800 360.5px,#aa4100 364.5px,#be2300 368.5px,#d10100 377.5px,#e13200 403.5px,#e65600 423.5px,#e55000 429.5px,#e34300 434.5px,#de2800 440.5px,#d30200 446.5px,#cd0800 447.5px,#bf2000 449.5px,#a34c00 451.5px,#8e6200 452.5px,#407d00 454.5px,#3a7f01 455.5px,#3b7e01 462.5px,#437c00 473.5px,#756a00 484.5px,#00934c 485.5px,#021c5c 486.5px,#021c5c 511.5px)"></i>
<i style="background:linear-gradient(#021c5c 0.5px,#021c5c 3.5px,#00962f 4.5px,#039104 296.5px,#1b8903 348.5px,#4a7900 353.5px,#916100 358.5px,#9a5900 359.5px,#a54900 361.5px,#a94200 364.5px,#bf2200 368.5px,#d10100 376.5px,#e13300 399.5px,#e86300 423.5px,#e75d00 429.5px,#e54d00 434.5px,#e02f00 440.5px,#d30300 446.5px,#cd0800 447.5px,#bd2400 449.5px,#9c5600 451.5px,#7c6800 452.5px,#527600 453.5px,#3d7e01 454.5px,#3e7d01 462.5px,#467b00 473.5px,#7a6900 484.5px,#00934c 485.5px,#021c5c 486.5px,#021c5c 511.5px)"></i>
<i style="background:linear-gradient(#021c5c 0.5px,#021c5c 3.5px,#00962f 4.5px,#039104 296.5px,#1c8903 349.5px,#4b7900 354.5px,#936000 359.5px,#9b5800 360.5px,#a64800 362.5px,#a84400 364.5px,#bf2100 368.5px,#d20000 376.5px,#e13300 397.5px,#e96c00 423.5px,#e86500 429.5px,#e65500 434.5px,#e13400 440.5px,#d40500 446.5px,#cf0600 447.5px,#bd2400 449.5px,#9b5800 451.5px,#786900 452.5px,#4e7800 453.5px,#3f7d01 454.5px,#3f7d01 462.5px,#487a00 473.5px,#7d6800 484.5px,#00934c 485.5px,#021c5c 486.5px,#021c5c 511.5px)"></i>
<i style="background:linear-gradient(#021c5c 0.5px,#021c5c 3.5px,#00962f 4.5px,#039104 296.5px,#1c8903 350.5px,#4d7800 355.5px,#965f00 360.5px,#a74600 363.5px,#ac3f00 366.5px,#be2300 369.5px,#d20100 377.5px,#e13300 398.5px,#e96a00 423.5px,#e86300 429.5px,#e65300 434.5px,#e13300 440.5px,#d40600 446.5px,#d00400 447.5px,#bf2100 449.5px,#9e5300 451.5px,#816600 452.5px,#587500 453.5px,#387f01 454.5px,#2d8302 455.5px,#2d8302 474.5px,#4e7800 484.5px,#00934c 485.5px,#021c5c 486.5px,#021c5c 511.5px)"></i>
<i style="background:linear-gradient(#021c5c 0.5px,#021c5c 3.5px,#00962f 4.5px,#039104 296.5px,#1c8903 351.5px,#1e8802 352.5px,#457b00 356.5px,#985c00 362.5px,#a74500 365.5px,#ae3b00 369.5px,#bf2100 372.5px,#d10200 379.5px,#d20100 380.5px,#e13300 400.5px,#e86600 423.5px,#e86000 429.5px,#e54d00 435.5px,#df2c00 441.5px,#d10100 447.5px,#c21c00 449.5px,#b53000 450.5px,#916100 452.5px,#427c00 454.5px,#2d8302 455.5px,#2d8302 480.5px,#368001 484.5px,#00934c 485.5px,#021c5c 486.5px,#021c5c 511.5px)"></i>
<i style="background:linear-gradient(#021c5c 0.5px,#021c5c 3.5px,#00962f 4.5px,#039104 296.5px,#1c8903 351.5px,#1e8802 352.5px,#457b00 356.5px,#985c00 362.5px,#a74500 365.5px,#b03800 371.5px,#c01f00 374.5px,#d20000 381.5px,#e13100 400.5px,#e96700 423.5px,#e86000 429.5px,#e54d00 435.5px,#e02d00 441.5px,#d20100 447.5px,#cc0b00 448.5px,#ba2900 450.5px,#995a00 452.5px,#4d7800 454.5px,#328101 455.5px,#2d8302 456.5px,#2d8302 477.5px,#427c00 484.5px,#00934c 485.5px,#021c5c 486.5px,#021c5c 511.5px)"></i>
<i style="background:linear-gradient(#021c5c 0.5px,#021c5c 3.5px,#00962f 4.5px,#039104 296.5px,#1c8903 350.5px,#4d7800 355.5px,#965f00 360.5px,#9b5700 361.5px,#a74600 363.5px,#ad3d00 368.5px,#b72e00 373.5px,#c01f00 375.5px,#d20000 382.5px,#e13100 401.5px,#e86500 423.5px,#e75f00 429.5px,#e54c00 435.5px,#df2d00 441.5px,#d30200 447.5px,#cc0a00 448.5px,#bc2600 450.5px,#9b5700 452.5px,#7b6800 453.5px,#537600 454.5px,#368001 455.5px,#2d8302 456.5px,#2e8301 472.5px,#497a00 481.5px,#577500 484.5px,#00934c 485.5px,#021c5c 486.5px,#021c5c 511.5px)"></i>
<i style="background:linear-gradient(#021c5c 0.5px,#021c5c 3.5px,#00962f 4.5px,#039104 296.5px,#1a8903 345.5px,#1b8903 346.5px,#4a7900 351.5px,#8f6100 356.5px,#a44b00 359.5px,#c21c00 376.5px,#d20100 382.5px,#e13200 401.5px,#e96700 423.5px,#e86000 429.5px,#e54e00 435.5px,#e02e00 441.5px,#d30200 447.5px,#cd0900 448.5px,#bc2600 450.5px,#9b5800 452.5px,#7a6900 453.5px,#527600 454.5px,#358001 455.5px,#2d8302 456.5px,#2d8302 473.5px,#527700 484.5px,#00934c 485.5px,#021c5c 486.5px,#021c5c 511.5px)"></i>
<i style="background:linear-gradient(#021c5c 0.5px,#021c5c 3.5px,#00962f 4.5px,#039104 296.5px,#168b03 337.5px,#178a03 338.5px,#4c7900 344.5px,#985d00 350.5px,#a64600 353.5px,#b03800 361.5px,#cd0900 379.5px,#d10100 381.5px,#e13200 399.5px,#ea6f00 423.5px,#e96900 429.5px,#e65500 435.5px,#e13300 441.5px,#d30400 447.5px,#cd0800 448.5px,#bb2700 450.5px,#995a00 452.5px,#4d7800 454.5px,#328101 455.5px,#2d8302 456.5px,#2d8302 476.5px,#457b00 484.5px,#00934c 485.5px,#021c5c 486.5px,#021c5c 511.5px)"></i>
<i style="background:linear-gradient(#021c5c 0.5px,#021c5c 3.5px,#00962f 4.5px,#039104 295.5px,#0e8d03 318.5px,#138c03 326.5px,#487a00 333.5px,#8f6100 339.5px,#985c00 340.5px,#a64800 343.5px,#af3900 352.5px,#d20000 377.5px,#d60f00 385.5px,#e13400 398.5px,#eb7600 423.5px,#ea6f00 429.5px,#e75a00 435.5px,#e23600 441.5px,#d30400 447.5px,#cd0800 448.5px,#c51700 449.5px,#b92a00 450.5px,#965e00 452.5px,#477a00 454.5px,#2d8302 455.5px,#2d8302 473.5px,#4f7800 484.5px,#00934c 485.5px,#021c5c 486.5px,#021c5c 511.5px)"></i>
<i style="background:linear-gradient(#021c5c 0.5px,#021c5c 3.5px,#00962f 4.5px,#029315 181.5px,#039104 257.5px,#178a03 290.5px,#2d8302 314.5px,#477a00 318.5px,#916100 325.5px,#a44900 329.5px,#b03900 340.5px,#d20000 369.5px,#dc2300 391.5px,#eb7a00 423.5px,#ea7300 429.5px,#e75d00 435.5px,#e23700 441.5px,#d30300 447.5px,#cc0a00 448.5px,#c31a00 449.5px,#a34c00 451.5px,#8d6200 452.5px,#407d00 454.5px,#308201 455.5px,#378001 472.5px,#487a00 478.5px,#657000 484.5px,#00934c 485.5px,#021c5c 486.5px,#021c5c 511.5px)"></i>
<i style="background:linear-gradient(#021c5c 0.5px,#021c5c 3.5px,#00962f 4.5px,#029315 180.5px,#039105 201.5px,#477a00 234.5px,#975e00 261.5px,#9d5500 267.5px,#a64700 295.5px,#bb2800 331.5px,#d20000 357.5px,#e13500 396.5px,#ec8000 423.5px,#eb7900 429.5px,#e86000 435.5px,#e23800 441.5px,#d20100 447.5px,#c11e00 449.5px,#9e5400 451.5px,#806700 452.5px,#567500 453.5px,#378001 454.5px,#2d8302 455.5px,#2d8302 473.5px,#517700 484.5px,#00934c 485.5px,#021c5c 486.5px,#021c5c 511.5px)"></i>
<i style="background:linear-gradient(#021c5c 0.5px,#021c5c 3.5px,#00962f 4.5px,#029315 180.5px,#039104 213.5px,#4e7800 266.5px,#657000 290.5px,#896400 312.5px,#975e00 314.5px,#a74500 319.5px,#af3a00 329.5px,#be2300 341.5px,#d20100 363.5px,#de2700 390.5px,#eb7800 417.5px,#ed8500 423.5px,#ec7d00 429.5px,#e96a00 434.5px,#e34100 440.5px,#d20100 447.5px,#be2200 449.5px,#995a00 451.5px,#4a7900 453.5px,#2f8201 454.5px,#2d8302 478.5px,#3f7d01 484.5px,#00934c 485.5px,#021c5c 486.5px,#021c5c 511.5px)"></i>
<i style="background:linear-gradient(#021c5c 0.5px,#021c5c 3.5px,#00962f 4.5px,#059004 288.5px,#178a03 315.5px,#497a00 322.5px,#965f00 329.5px,#a64600 333.5px,#ae3b00 342.5px,#d20000 371.5px,#d91600 385.5px,#e13200 394.5px,#eb7600 416.5px,#ee8700 423.5px,#ec7f00 429.5px,#e96b00 434.5px,#e34200 440.5px,#d10200 447.5px,#bd2500 449.5px,#975d00 451.5px,#467b00 453.5px,#2d8302 454.5px,#2d8302 477.5px,#417c00 484.5px,#00934c 485.5px,#021c5c 486.5px,#021c5c 511.5px)"></i>
<i style="background:linear-gradient(#021c5c 0.5px,#021c5c 3.5px,#00962f 4.5px,#039104 296.5px,#118c03 326.5px,#138c03 327.5px,#4b7900 334.5px,#936000 340.5px,#a74600 344.5px,#af3a00 352.5px,#d20100 377.5px,#d40600 381.5px,#e13200 395.5px,#eb7600 417.5px,#ed8400 423.5px,#eb7a00 430.5px,#e86300 435.5px,#e23900 441.5px,#d20000 447.5px,#bf2100 449.5px,#9a5900 451.5px,#776a00 452.5px,#4d7800 453.5px,#318201 454.5px,#2d8302 455.5px,#2d8302 475.5px,#467b00 484.5px,#00934c 485.5px,#021c5c 486.5px,#021c5c 511.5px)"></i>
<i style="background:linear-gradient(#021c5c 0.5px,#021c5c 3.5px,#00962f 4.5px,#039104 296.5px,#138c03 331.5px,#4d7800 338.5px,#975e00 344.5px,#a54900 347.5px,#ae3b00 355.5px,#c90f00 373.5px,#d10200 376.5px,#e13100 394.5px,#ec7d00 423.5px,#eb7600 429.5px,#e75f00 435.5px,#e23700 441.5px,#d30200 447.5px,#c21d00 449.5px,#a05000 451.5px,#856500 452.5px,#5c7300 453.5px,#3b7e01 454.5px,#2d8302 455.5px,#348101 472.5px,#487a00 479.5px,#607200 484.5px,#00934c 485.5px,#021c5c 486.5px,#021c5c 511.5px)"></i>
<i style="background:linear-gradient(#021c5c 0.5px,#021c5c 3.5px,#00962f 4.5px,#039104 296.5px,#128c03 329.5px,#168b03 330.5px,#467b00 336.5px,#985c00 343.5px,#a64800 346.5px,#b72e00 359.5px,#d20100 372.5px,#e13200 393.5px,#ea7300 423.5px,#e96c00 429.5px,#e65700 435.5px,#e13300 441.5px,#d30200 447.5px,#cc0b00 448.5px,#c31a00 449.5px,#b62f00 450.5px,#a44a00 451.5px,#916100 452.5px,#427c00 454.5px,#3a7f01 455.5px,#3a7f01 462.5px,#437c00 473.5px,#746b00 484.5px,#00934c 485.5px,#021c5c 486.5px,#021c5c 511.5px)"></i>
<i style="background:linear-gradient(#021c5c 0.5px,#021c5c 3.5px,#00962f 4.5px,#039104 296.5px,#128c03 328.5px,#477a00 335.5px,#985c00 342.5px,#a64700 345.5px,#b33400 356.5px,#bf2200 359.5px,#d20100 368.5px,#e13200 392.5px,#ea6e00 423.5px,#e96700 429.5px,#e65300 435.5px,#e03000 441.5px,#d20100 447.5px,#c21b00 449.5px,#b63000 450.5px,#906100 452.5px,#427c00 454.5px,#318201 455.5px,#387f01 472.5px,#497a00 478.5px,#667000 484.5px,#00934c 485.5px,#021c5c 486.5px,#021c5c 511.5px)"></i>
<i style="background:linear-gradient(#021c5c 0.5px,#021c5c 3.5px,#00962f 4.5px,#039104 296.5px,#118c03 325.5px,#148b03 326.5px,#437c00 332.5px,#936000 339.5px,#995a00 340.5px,#a74600 343.5px,#b33400 354.5px,#bf2100 357.5px,#d10100 366.5px,#e13100 391.5px,#e96d00 423.5px,#e86600 429.5px,#e55100 435.5px,#e02e00 441.5px,#d10200 447.5px,#c01f00 449.5px,#a05000 451.5px,#866500 452.5px,#5c7300 453.5px,#3b7e01 454.5px,#2d8302 455.5px,#2d8302 472.5px,#477a00 481.5px,#567500 484.5px,#00934c 485.5px,#021c5c 486.5px,#021c5c 511.5px)"></i>
<i style="background:linear-gradient(#021c5c 0.5px,#021c5c 3.5px,#00962f 4.5px,#039104 294.5px,#0b8e04 310.5px,#108d03 319.5px,#158b03 320.5px,#4a7900 327.5px,#975d00 334.5px,#a44a00 337.5px,#b92b00 353.5px,#d20000 365.5px,#e13200 391.5px,#e96b00 423.5px,#e86400 429.5px,#e65400 434.5px,#e13300 440.5px,#d40500 446.5px,#cf0500 447.5px,#be2300 449.5px,#9c5600 451.5px,#7b6800 452.5px,#527700 453.5px,#348101 454.5px,#2d8302 455.5px,#2d8302 472.5px,#467b00 481.5px,#547600 484.5px,#00934c 485.5px,#021c5c 486.5px,#021c5c 511.5px)"></i>
<i style="background:linear-gradient(#021c5c 0.5px,#021c5c 3.5px,#00962f 4.5px,#039104 285.5px,#178a03 311.5px,#487a00 318.5px,#936000 325.5px,#a54900 329.5px,#af3a00 339.5px,#c11e00 353.5px,#d10100 362.5px,#e13200 389.5px,#e96d00 423.5px,#e86600 429.5px,#e65600 434.5px,#e02e00 441.5px,#d40600 446.5px,#d00400 447.5px,#bf2200 449.5px,#9d5500 451.5px,#7d6700 452.5px,#547600 453.5px,#358001 454.5px,#2f8201 455.5px,#368001 472.5px,#477a00 478.5px,#637100 484.5px,#00934c 485.5px,#021c5c 486.5px,#021c5c 511.5px)"></i>
<i style="background:linear-gradient(#021c5c 0.5px,#021c5c 3.5px,#00962e 4.5px,#039104 259.5px,#2a8402 301.5px,#4a7900 306.5px,#975d00 314.5px,#a64600 318.5px,#b13700 331.5px,#c91000 353.5px,#d20100 359.5px,#e13100 385.5px,#ea7300 423.5px,#e96c00 429.5px,#e65700 435.5px,#e13300 441.5px,#d30200 447.5px,#c31b00 449.5px,#a34c00 451.5px,#8e6200 452.5px,#407d00 454.5px,#3c7e01 455.5px,#3c7e01 462.5px,#457b00 473.5px,#786a00 484.5px,#00934c 485.5px,#021c5c 486.5px,#021c5c 511.5px)"></i>
<i style="background:linear-gradient(#021c5c 0.5px,#021c5c 3.5px,#00952b 4.5px,#01941d 76.5px,#039104 138.5px,#1c8903 167.5px,#2a8402 206.5px,#1f8802 231.5px,#208702 239.5px,#487a00 273.5px,#786900 296.5px,#7b6800 297.5px,#965f00 300.5px,#a74500 305.5px,#af3a00 317.5px,#d20000 355.5px,#e13200 381.5px,#ec7e00 423.5px,#eb7800 429.5px,#e86100 435.5px,#e34300 440.5px,#d10200 448.5px,#bf2200 450.5px,#9b5700 452.5px,#7b6800 453.5px,#537600 454.5px,#387f01 455.5px,#387f01 462.5px,#407d00 473.5px,#4a7900 476.5px,#716c00 484.5px,#00934c 485.5px,#021c5c 486.5px,#021c5c 511.5px)"></i>
<i style="background:linear-gradient(#021c5c 0.5px,#021c5c 3.5px,#029318 4.5px,#039104 66.5px,#188a03 97.5px,#477a00 119.5px,#955f00 143.5px,#b43300 167.5px,#be2400 206.5px,#a05000 231.5px,#9d5400 238.5px,#be2300 282.5px,#d20000 333.5px,#d70f00 360.5px,#e13200 377.5px,#eb7800 411.5px,#ee8b00 423.5px,#ed8300 429.5px,#e96d00 435.5px,#e44400 441.5px,#d30500 448.5px,#cd0900 449.5px,#c41900 450.5px,#b62f00 451.5px,#a34c00 452.5px,#8f6100 453.5px,#437c00 455.5px,#2d8302 456.5px,#2e8302 473.5px,#537600 484.5px,#00934c 485.5px,#021c5c 486.5px,#021c5c 511.5px)"></i>
<i style="background:linear-gradient(#021c5c 0.5px,#021c5c 3.5px,#188a03 4.5px,#497a00 36.5px,#965f00 72.5px,#a14f00 87.5px,#aa4100 128.5px,#be2300 140.5px,#d20000 163.5px,#d50a00 206.5px,#d20000 216.5px,#c81200 227.5px,#d20000 266.5px,#dc2200 366.5px,#eb7700 404.5px,#f19900 423.5px,#ef9000 429.5px,#eb7800 435.5px,#e54d00 441.5px,#e13200 444.5px,#d20100 449.5px,#be2300 451.5px,#aa4100 452.5px,#9a5900 453.5px,#527700 455.5px,#368001 456.5px,#2d8302 457.5px,#2d8302 475.5px,#467b00 484.5px,#00934c 485.5px,#021c5c 486.5px,#021c5c 511.5px)"></i>
<i style="background:linear-gradient(#021c5c 0.5px,#021c5c 3.5px,#059004 4.5px,#487a00 54.5px,#836600 86.5px,#965e00 121.5px,#be2300 145.5px,#cf0500 166.5px,#d20000 183.5px,#d30400 206.5px,#d20000 210.5px,#c21c00 229.5px,#d20000 284.5px,#db1c00 360.5px,#eb7700 399.5px,#f3a400 423.5px,#f19900 429.5px,#eb7a00 436.5px,#e54b00 442.5px,#d30400 449.5px,#cc0a00 450.5px,#c21c00 451.5px,#a05000 453.5px,#886400 454.5px,#407d00 456.5px,#2d8302 457.5px,#308201 472.5px,#477a00 480.5px,#597400 484.5px,#00934c 485.5px,#021c5c 486.5px,#021c5c 511.5px)"></i>
<i style="background:linear-gradient(#021c5c 0.5px,#021c5c 3.5px,#01941e 4.5px,#039104 100.5px,#487a00 144.5px,#7f6700 167.5px,#965e00 206.5px,#6f6c00 226.5px,#965f00 247.5px,#be2300 297.5px,#d20000 332.5px,#d81300 353.5px,#e13100 367.5px,#eb7800 398.5px,#f3a500 423.5px,#f19a00 429.5px,#ec7b00 436.5px,#e75e00 440.5px,#e13000 445.5px,#d40700 449.5px,#cf0500 450.5px,#b82c00 452.5px,#a54900 453.5px,#955f00 454.5px,#497a00 456.5px,#368001 457.5px,#3f7d01 473.5px,#487a00 476.5px,#6f6d00 484.5px,#00934c 485.5px,#021c5c 486.5px,#021c5c 511.5px)"></i>
<i style="background:linear-gradient(#021c5c 0.5px,#021c5c 3.5px,#00952c 4.5px,#039108 166.5px,#059004 215.5px,#2a8402 251.5px,#497900 257.5px,#916100 266.5px,#a64600 272.5px,#af3a00 288.5px,#d20000 336.5px,#d50a00 347.5px,#e13200 367.5px,#eb7700 401.5px,#f19b00 423.5px,#ef9100 429.5px,#eb7500 436.5px,#e44900 442.5px,#d40700 449.5px,#cf0600 450.5px,#c51600 451.5px,#b92a00 452.5px,#a64800 453.5px,#975e00 454.5px,#4b7900 456.5px,#328101 457.5px,#2f8201 461.5px,#368001 472.5px,#477a00 478.5px,#637100 484.5px,#00934c 485.5px,#021c5c 486.5px,#021c5c 511.5px)"></i>
<i style="background:linear-gradient(#021c5c 0.5px,#021c5c 3.5px,#00962e 4.5px,#01941d 97.5px,#02920f 213.5px,#039105 250.5px,#477a00 263.5px,#975e00 273.5px,#a64700 278.5px,#af3a00 293.5px,#d20000 339.5px,#e13300 369.5px,#eb7700 407.5px,#ef8d00 423.5px,#ed8600 429.5px,#ea7000 435.5px,#e34200 442.5px,#d30200 449.5px,#cb0c00 450.5px,#c21c00 451.5px,#a14e00 453.5px,#8b6300 454.5px,#427c00 456.5px,#2d8302 457.5px,#2d8302 475.5px,#467b00 484.5px,#00934c 485.5px,#021c5c 486.5px,#021c5c 511.5px)"></i>
<i style="background:linear-gradient(#021c5c 0.5px,#021c5c 3.5px,#00962f 4.5px,#01941e 97.5px,#029211 217.5px,#03920a 255.5px,#039104 258.5px,#467b00 270.5px,#975d00 280.5px,#a74600 285.5px,#af3900 300.5px,#d20000 341.5px,#e13200 370.5px,#eb7700 410.5px,#e80 423.5px,#ec7e00 430.5px,#e96b00 435.5px,#e65300 439.5px,#e13400 443.5px,#d40700 448.5px,#cf0500 449.5px,#bb2700 451.5px,#985c00 453.5px,#4d7800 455.5px,#328101 456.5px,#2d8302 457.5px,#2d8302 478.5px,#3e7d01 484.5px,#00934c 485.5px,#021c5c 486.5px,#021c5c 511.5px)"></i>
<i style="background:linear-gradient(#021c5c 0.5px,#021c5c 3.5px,#00962e 4.5px,#039104 243.5px,#1a8903 269.5px,#477a00 277.5px,#946000 286.5px,#a54800 291.5px,#af3a00 305.5px,#c81100 335.5px,#d20100 342.5px,#e13300 370.5px,#eb7700 409.5px,#ee8a00 423.5px,#ed8200 429.5px,#e96b00 435.5px,#e34300 441.5px,#d30200 448.5px,#cb0d00 449.5px,#c11d00 450.5px,#9f5200 452.5px,#856500 453.5px,#5d7300 454.5px,#3c7e01 455.5px,#2d8302 456.5px,#2d8302 476.5px,#437c00 484.5px,#00934c 485.5px,#021c5c 486.5px,#021c5c 511.5px)"></i>
<i style="background:linear-gradient(#021c5c 0.5px,#021c5c 3.5px,#029319 4.5px,#039104 47.5px,#547600 116.5px,#6a6e00 159.5px,#965f00 209.5px,#be2300 295.5px,#c51600 326.5px,#cd0800 337.5px,#d20000 340.5px,#e13300 368.5px,#eb7800 406.5px,#ef9000 423.5px,#ee8700 429.5px,#ea6f00 435.5px,#e44400 441.5px,#d20100 448.5px,#c02000 450.5px,#9c5600 452.5px,#7c6800 453.5px,#547600 454.5px,#368001 455.5px,#2d8302 456.5px,#2d8302 480.5px,#378001 484.5px,#00934c 485.5px,#021c5c 486.5px,#021c5c 511.5px)"></i>
<i style="background:linear-gradient(#021c5c 0.5px,#021c5c 3.5px,#029317 4.5px,#039104 41.5px,#487a00 97.5px,#686f00 117.5px,#776a00 151.5px,#965f00 192.5px,#be2300 287.5px,#c51600 319.5px,#d20100 338.5px,#e13200 365.5px,#eb7700 402.5px,#f09700 423.5px,#ef8d00 429.5px,#eb7500 435.5px,#e44900 441.5px,#d40500 448.5px,#cd0900 449.5px,#c31a00 450.5px,#a14e00 452.5px,#8a6300 453.5px,#407d00 455.5px,#2d8302 456.5px,#2d8302 482.5px,#318201 484.5px,#00934c 485.5px,#021c5c 486.5px,#021c5c 511.5px)"></i>
<i style="background:linear-gradient(#021c5c 0.5px,#021c5c 3.5px,#00952d 4.5px,#039104 227.5px,#268502 264.5px,#477a00 270.5px,#926000 279.5px,#a74500 285.5px,#ae3b00 298.5px,#c71400 328.5px,#d20100 336.5px,#e13200 363.5px,#eb7800 401.5px,#f19800 423.5px,#ef8f00 429.5px,#eb7800 435.5px,#e44500 442.5px,#d20200 449.5px,#c01f00 451.5px,#9d5400 453.5px,#826600 454.5px,#5b7300 455.5px,#3c7e01 456.5px,#2d8302 457.5px,#2d8302 477.5px,#417c00 484.5px,#00934c 485.5px,#021c5c 486.5px,#021c5c 511.5px)"></i>
<i style="background:linear-gradient(#021c5c 0.5px,#021c5c 3.5px,#00962f 4.5px,#01941e 97.5px,#029211 217.5px,#039106 266.5px,#049104 267.5px,#4b7900 279.5px,#916100 287.5px,#a44900 292.5px,#a74500 293.5px,#af3900 307.5px,#bf2000 323.5px,#d20000 335.5px,#e13200 363.5px,#eb7700 402.5px,#f09500 423.5px,#ee8c00 429.5px,#eb7700 435.5px,#e44800 442.5px,#e02f00 445.5px,#d10200 450.5px,#bf2200 452.5px,#9c5600 454.5px,#7f6700 455.5px,#5a7400 456.5px,#3b7e01 457.5px,#2d8302 458.5px,#2e8302 473.5px,#467b00 481.5px,#547600 484.5px,#00934c 485.5px,#021c5c 486.5px,#021c5c 511.5px)"></i>
<i style="background:linear-gradient(#021c5c 0.5px,#021c5c 3.5px,#00962f 4.5px,#01941e 97.5px,#029211 217.5px,#039105 278.5px,#447b00 289.5px,#946000 298.5px,#a05000 301.5px,#a74600 303.5px,#ac3e00 312.5px,#b72e00 323.5px,#d20000 338.5px,#e13300 367.5px,#eb7800 406.5px,#ef8f00 423.5px,#ed8500 430.5px,#ea6f00 436.5px,#e34200 443.5px,#d30500 450.5px,#cd0800 451.5px,#c51700 452.5px,#b92a00 453.5px,#a64600 454.5px,#985c00 455.5px,#517700 457.5px,#378001 458.5px,#2d8302 459.5px,#2d8302 473.5px,#527600 484.5px,#00934c 485.5px,#021c5c 486.5px,#021c5c 511.5px)"></i>
<i style="background:linear-gradient(#021c5c 0.5px,#021c5c 3.5px,#00962f 4.5px,#039104 291.5px,#4c7900 302.5px,#975d00 310.5px,#a64700 314.5px,#b13600 328.5px,#be2300 332.5px,#d20000 344.5px,#e13200 371.5px,#eb7700 409.5px,#ee8b00 423.5px,#ed8200 430.5px,#e96d00 436.5px,#e44900 442.5px,#e13200 445.5px,#d00300 451.5px,#bf2100 453.5px,#9f5200 455.5px,#886400 456.5px,#427c00 458.5px,#2d8302 459.5px,#2d8302 475.5px,#467b00 484.5px,#00934c 485.5px,#021c5c 486.5px,#021c5c 511.5px)"></i>
<i style="background:linear-gradient(#021c5c 0.5px,#021c5c 3.5px,#00962f 4.5px,#049104 299.5px,#079004 300.5px,#447b00 309.5px,#936000 317.5px,#995b00 318.5px,#a74500 322.5px,#b13600 334.5px,#bf2100 338.5px,#d20100 348.5px,#e13300 374.5px,#eb7700 408.5px,#ef8e00 423.5px,#ed8500 430.5px,#ea7000 436.5px,#e44500 443.5px,#d20100 451.5px,#c21c00 453.5px,#926000 456.5px,#4a7900 458.5px,#338101 459.5px,#2d8302 460.5px,#2d8302 477.5px,#407d00 484.5px,#00934c 485.5px,#021c5c 486.5px,#021c5c 511.5px)"></i>
<i style="background:linear-gradient(#021c5c 0.5px,#021c5c 3.5px,#00962f 4.5px,#039104 296.5px,#088f04 307.5px,#457b00 316.5px,#975e00 324.5px,#a74600 328.5px,#af3a00 338.5px,#be2200 342.5px,#d20000 352.5px,#e13300 375.5px,#eb7800 406.5px,#f09700 423.5px,#ef8f00 429.5px,#eb7700 436.5px,#e44900 443.5px,#d30300 451.5px,#cc0a00 452.5px,#c41900 453.5px,#975e00 456.5px,#517700 458.5px,#378001 459.5px,#2d8302 460.5px,#2d8302 481.5px,#358001 484.5px,#00934c 485.5px,#021c5c 486.5px,#021c5c 511.5px)"></i>
<i style="background:linear-gradient(#021c5c 0.5px,#021c5c 3.5px,#00962f 4.5px,#039104 296.5px,#0b8e04 313.5px,#497a00 322.5px,#965f00 329.5px,#a74600 333.5px,#ad3c00 341.5px,#bf2100 346.5px,#d20000 355.5px,#e13300 377.5px,#eb7800 406.5px,#f09800 423.5px,#ef9000 429.5px,#eb7800 436.5px,#e44a00 443.5px,#d30400 451.5px,#cd0900 452.5px,#c41900 453.5px,#975d00 456.5px,#527700 458.5px,#387f01 459.5px,#2d8302 460.5px,#2e8301 484.5px,#00934c 485.5px,#021c5c 486.5px,#021c5c 511.5px)"></i>
<i style="background:linear-gradient(#021c5c 0.5px,#021c5c 3.5px,#00962f 4.5px,#039104 296.5px,#0e8d03 319.5px,#497a00 327.5px,#975d00 334.5px,#a74500 338.5px,#ae3b00 345.5px,#bf2100 349.5px,#d20000 358.5px,#e13100 379.5px,#eb7700 409.5px,#ef9100 423.5px,#e80 430.5px,#ea7200 436.5px,#e44600 443.5px,#d20100 451.5px,#c21c00 453.5px,#916100 456.5px,#497a00 458.5px,#328101 459.5px,#2d8302 460.5px,#2d8302 480.5px,#397f01 484.5px,#00934c 485.5px,#021c5c 486.5px,#021c5c 511.5px)"></i>
<i style="background:linear-gradient(#021c5c 0.5px,#021c5c 3.5px,#00962f 4.5px,#039104 296.5px,#0f8d03 323.5px,#108d03 324.5px,#467b00 331.5px,#975e00 338.5px,#a74500 342.5px,#ab4000 347.5px,#bf2100 352.5px,#d20000 361.5px,#e13200 383.5px,#eb7800 414.5px,#ee8700 423.5px,#ec7f00 430.5px,#e96900 436.5px,#e33f00 443.5px,#d30500 450.5px,#ce0700 451.5px,#c61600 452.5px,#bc2700 453.5px,#9b5800 455.5px,#3b7e01 458.5px,#2d8302 459.5px,#2e8302 475.5px,#497a00 484.5px,#00934c 485.5px,#021c5c 486.5px,#021c5c 511.5px)"></i>
<i style="background:linear-gradient(#021c5c 0.5px,#021c5c 3.5px,#00962f 4.5px,#039104 296.5px,#118c03 327.5px,#148b03 328.5px,#447b00 334.5px,#955f00 341.5px,#a74500 345.5px,#aa4100 349.5px,#bf2100 354.5px,#d10100 363.5px,#e13200 387.5px,#eb7800 423.5px,#ea7000 430.5px,#e75c00 436.5px,#e23b00 442.5px,#d40500 449.5px,#cf0600 450.5px,#be2300 452.5px,#9d5500 454.5px,#826600 455.5px,#5c7300 456.5px,#3d7e01 457.5px,#2d8302 458.5px,#358001 473.5px,#487a00 479.5px,#5f7200 484.5px,#00934c 485.5px,#021c5c 486.5px,#021c5c 511.5px)"></i>
<i style="background:linear-gradient(#021c5c 0.5px,#021c5c 3.5px,#00962f 4.5px,#039104 296.5px,#148b03 332.5px,#447b00 338.5px,#975e00 345.5px,#a54800 348.5px,#aa4200 352.5px,#bf2100 357.5px,#d20100 367.5px,#e13100 392.5px,#e96800 423.5px,#e86200 429.5px,#e55100 435.5px,#e02d00 442.5px,#d30200 448.5px,#cd0900 449.5px,#bd2400 451.5px,#9d5400 453.5px,#826600 454.5px,#5c7300 455.5px,#3c7e01 456.5px,#387f01 457.5px,#417c00 473.5px,#4b7900 476.5px,#726c00 484.5px,#00934c 485.5px,#021c5c 486.5px,#021c5c 511.5px)"></i>
<i style="background:linear-gradient(#021c5c 0.5px,#021c5c 3.5px,#00962f 4.5px,#039104 296.5px,#158b03 336.5px,#178a03 337.5px,#4a7900 343.5px,#975e00 349.5px,#a64800 352.5px,#ac3e00 356.5px,#bf2200 360.5px,#d20000 370.5px,#e13100 397.5px,#e75c00 423.5px,#e65600 429.5px,#e44600 435.5px,#de2900 441.5px,#d20200 447.5px,#cd0900 448.5px,#be2200 450.5px,#a05000 452.5px,#886400 453.5px,#607200 454.5px,#457b00 455.5px,#457b00 462.5px,#4e7800 472.5px,#866400 484.5px,#00934c 485.5px,#021c5c 486.5px,#021c5c 511.5px)"></i>
<i style="background:linear-gradient(#021c5c 0.5px,#021c5c 3.5px,#00962f 4.5px,#039104 296.5px,#178a03 339.5px,#188a03 340.5px,#447b00 345.5px,#916100 351.5px,#995a00 352.5px,#a74500 355.5px,#a84300 357.5px,#ac3e00 358.5px,#bf2100 362.5px,#d20000 372.5px,#e13200 400.5px,#e65800 423.5px,#e65200 429.5px,#e44500 434.5px,#df2a00 440.5px,#d30500 446.5px,#d00400 447.5px,#c21c00 449.5px,#b72d00 450.5px,#985b00 452.5px,#507700 454.5px,#517700 462.5px,#5b7300 472.5px,#936000 484.5px,#00934c 485.5px,#021c5c 486.5px,#021c5c 511.5px)"></i>
<i style="background:linear-gradient(#021c5c 0.5px,#021c5c 3.5px,#00962f 4.5px,#039104 296.5px,#178a03 340.5px,#1a8903 341.5px,#467b00 346.5px,#955f00 352.5px,#a54900 355.5px,#aa4100 358.5px,#bf2200 362.5px,#d20000 372.5px,#e13200 399.5px,#e75900 423.5px,#e65300 429.5px,#e44600 434.5px,#df2b00 440.5px,#d30400 446.5px,#cf0500 447.5px,#c11d00 449.5px,#b62f00 450.5px,#965e00 452.5px,#6f6d00 453.5px,#587400 454.5px,#587400 462.5px,#637100 472.5px,#985c00 484.5px,#00934c 485.5px,#021c5c 486.5px,#021c5c 511.5px)"></i>
<i style="background:linear-gradient(#021c5c 0.5px,#021c5c 3.5px,#00962f 4.5px,#039104 296.5px,#188a03 342.5px,#1d8803 343.5px,#4a7900 348.5px,#985c00 354.5px,#a74500 357.5px,#a94200 359.5px,#be2200 363.5px,#d20000 373.5px,#e13200 400.5px,#e65800 423.5px,#e65200 429.5px,#e44500 434.5px,#e03000 439.5px,#d40500 446.5px,#d00400 447.5px,#b82c00 450.5px,#995a00 452.5px,#587500 454.5px,#587400 462.5px,#637100 472.5px,#985c00 484.5px,#00934c 485.5px,#021c5c 486.5px,#021c5c 511.5px)"></i>
<i style="background:linear-gradient(#021c5c 0.5px,#021c5c 3.5px,#00962f 4.5px,#039104 296.5px,#1b8903 347.5px,#1e8802 348.5px,#437c00 352.5px,#955f00 358.5px,#a64700 361.5px,#a94200 363.5px,#bf2100 367.5px,#d20100 376.5px,#e13200 402.5px,#e65600 423.5px,#e55100 429.5px,#e34100 435.5px,#dd2600 441.5px,#d20000 447.5px,#be2400 450.5px,#a05000 452.5px,#876400 453.5px,#607200 454.5px,#477a00 455.5px,#487a00 462.5px,#527700 472.5px,#8a6300 484.5px,#00934c 485.5px,#021c5c 486.5px,#021c5c 511.5px)"></i>
<i style="background:linear-gradient(#021c5c 0.5px,#021c5c 3.5px,#00962f 4.5px,#039104 296.5px,#1d8802 352.5px,#1e8802 353.5px,#467b00 357.5px,#8f6100 362.5px,#995a00 363.5px,#a54900 365.5px,#a84400 367.5px,#be2200 371.5px,#d20100 380.5px,#e13100 403.5px,#e65700 423.5px,#e65200 429.5px,#e44500 434.5px,#de2800 441.5px,#d30400 447.5px,#cf0500 448.5px,#b82b00 451.5px,#9b5800 453.5px,#7b6800 454.5px,#547600 455.5px,#3f7d01 456.5px,#487a00 473.5px,#7d6800 484.5px,#00934c 485.5px,#021c5c 486.5px,#021c5c 511.5px)"></i>
<i style="background:linear-gradient(#021c5c 0.5px,#021c5c 3.5px,#00962f 4.5px,#039104 296.5px,#1f8802 356.5px,#477a00 360.5px,#946000 365.5px,#9b5700 366.5px,#a74500 368.5px,#aa4100 371.5px,#c02000 375.5px,#d20000 383.5px,#e13200 406.5px,#e65300 423.5px,#e54e00 429.5px,#e34000 435.5px,#dd2300 442.5px,#d20000 448.5px,#c02000 451.5px,#985c00 454.5px,#4f7700 456.5px,#3a7f01 457.5px,#437c00 473.5px,#746b00 484.5px,#00934c 485.5px,#021c5c 486.5px,#021c5c 511.5px)"></i>
<i style="background:linear-gradient(#021c5c 0.5px,#021c5c 3.5px,#00962f 4.5px,#039104 296.5px,#1f8802 357.5px,#208702 358.5px,#487a00 362.5px,#955f00 367.5px,#9b5700 368.5px,#a74500 370.5px,#ad3d00 375.5px,#c01f00 379.5px,#d10200 386.5px,#e13200 409.5px,#e54d00 423.5px,#e44800 429.5px,#e23b00 435.5px,#dc2200 442.5px,#d30200 448.5px,#ce0600 449.5px,#bd2500 452.5px,#a34c00 454.5px,#916100 455.5px,#487a00 457.5px,#308201 458.5px,#2d8302 462.5px,#338101 472.5px,#477a00 479.5px,#5f7200 484.5px,#00934c 485.5px,#021c5c 486.5px,#021c5c 511.5px)"></i>
<i style="background:linear-gradient(#021c5c 0.5px,#021c5c 3.5px,#00962f 4.5px,#039104 296.5px,#1f8802 355.5px,#447b00 359.5px,#8e6200 364.5px,#995b00 365.5px,#a54900 367.5px,#b53100 377.5px,#be2200 379.5px,#d10100 387.5px,#e13000 410.5px,#e44900 423.5px,#e44500 429.5px,#e23800 435.5px,#dc2000 442.5px,#d30300 448.5px,#cf0500 449.5px,#bf2100 452.5px,#9a5900 455.5px,#7c6800 456.5px,#587500 457.5px,#3b7e01 458.5px,#2e8302 459.5px,#378001 473.5px,#497a00 479.5px,#617100 484.5px,#00934c 485.5px,#021c5c 486.5px,#021c5c 511.5px)"></i>
<i style="background:linear-gradient(#021c5c 0.5px,#021c5c 3.5px,#00962f 4.5px,#069004 299.5px,#218702 344.5px,#268502 345.5px,#4a7900 349.5px,#8f6100 354.5px,#a34c00 357.5px,#a74500 358.5px,#ae3b00 365.5px,#c11f00 376.5px,#d10100 384.5px,#e44700 423.5px,#e34300 429.5px,#e23700 435.5px,#db2000 442.5px,#d30200 448.5px,#cf0500 449.5px,#bf2100 452.5px,#9b5700 455.5px,#7f6700 456.5px,#5b7300 457.5px,#3d7e01 458.5px,#378001 459.5px,#407d00 473.5px,#4a7900 476.5px,#706c00 484.5px,#00934c 485.5px,#021c5c 486.5px,#021c5c 511.5px)"></i>
<i style="background:linear-gradient(#021c5c 0.5px,#021c5c 3.5px,#00962f 4.5px,#039104 259.5px,#248602 297.5px,#4b7900 333.5px,#926000 339.5px,#a74600 343.5px,#af3900 352.5px,#d20100 378.5px,#e13200 402.5px,#e75a00 423.5px,#e65300 430.5px,#e44400 436.5px,#dd2600 443.5px,#d30200 449.5px,#ce0700 450.5px,#c11d00 452.5px,#b72e00 453.5px,#9b5800 455.5px,#3c7e01 458.5px,#368001 459.5px,#3e7d01 473.5px,#477a00 476.5px,#6e6d00 484.5px,#00934c 485.5px,#021c5c 486.5px,#021c5c 511.5px)"></i>
<i style="background:linear-gradient(#021c5c 0.5px,#021c5c 3.5px,#00962f 4.5px,#00952b 26.5px,#039104 95.5px,#477a00 154.5px,#5c7300 167.5px,#706c00 205.5px,#965f00 246.5px,#be2300 334.5px,#c11e00 347.5px,#d20000 365.5px,#d81400 379.5px,#e13300 391.5px,#ec8100 423.5px,#eb7900 430.5px,#e86400 436.5px,#e23b00 443.5px,#d30400 450.5px,#cd0900 451.5px,#c51700 452.5px,#bb2800 453.5px,#9a5900 455.5px,#7c6800 456.5px,#577500 457.5px,#3a7f01 458.5px,#2e8301 459.5px,#378001 473.5px,#4a7900 479.5px,#627100 484.5px,#00934c 485.5px,#021c5c 486.5px,#021c5c 511.5px)"></i>
<i style="background:linear-gradient(#021c5c 0.5px,#021c5c 3.5px,#00962f 4.5px,#00952b 26.5px,#039104 95.5px,#477a00 154.5px,#5c7300 167.5px,#706c00 205.5px,#965f00 246.5px,#c02000 342.5px,#d20000 362.5px,#d81300 376.5px,#e13100 388.5px,#eb7800 416.5px,#ed8500 423.5px,#ec7d00 430.5px,#e96800 436.5px,#e33d00 443.5px,#d30400 450.5px,#cd0800 451.5px,#c51700 452.5px,#ba2900 453.5px,#995a00 455.5px,#567500 457.5px,#397f01 458.5px,#2d8302 459.5px,#2e8302 474.5px,#4f7800 484.5px,#00934c 485.5px,#021c5c 486.5px,#021c5c 511.5px)"></i>
<i style="background:linear-gradient(#021c5c 0.5px,#021c5c 3.5px,#00962f 4.5px,#039104 259.5px,#368001 315.5px,#497a00 318.5px,#936000 325.5px,#a54800 329.5px,#af3a00 339.5px,#d20000 369.5px,#e13200 392.5px,#ea7000 423.5px,#e96900 430.5px,#e65600 436.5px,#e23800 442.5px,#d10100 450.5px,#c21b00 452.5px,#b72e00 453.5px,#985c00 455.5px,#527700 457.5px,#378001 458.5px,#2d8302 459.5px,#2d8302 473.5px,#537600 484.5px,#00934c 485.5px,#021c5c 486.5px,#021c5c 511.5px)"></i>
<i style="background:linear-gradient(#021c5c 0.5px,#021c5c 3.5px,#00962f 4.5px,#039104 293.5px,#079004 301.5px,#128c03 320.5px,#457b00 327.5px,#936000 334.5px,#a64600 338.5px,#ae3b00 347.5px,#c21c00 362.5px,#d20000 371.5px,#e13200 400.5px,#e65600 423.5px,#e65200 429.5px,#e44400 435.5px,#df2c00 441.5px,#d10200 449.5px,#be2200 452.5px,#936000 455.5px,#497a00 457.5px,#387f01 458.5px,#417c00 473.5px,#726b00 484.5px,#00934c 485.5px,#021c5c 486.5px,#021c5c 511.5px)"></i>
<i style="background:linear-gradient(#021c5c 0.5px,#021c5c 3.5px,#00962f 4.5px,#039104 296.5px,#118c03 326.5px,#138c03 327.5px,#4b7900 334.5px,#926000 340.5px,#a74600 344.5px,#ab3f00 350.5px,#b72e00 358.5px,#c21c00 362.5px,#d20000 371.5px,#e13200 400.5px,#e65600 423.5px,#e55100 429.5px,#e34300 435.5px,#dd2600 442.5px,#d30400 448.5px,#cf0500 449.5px,#bb2700 452.5px,#9f5100 454.5px,#886400 455.5px,#627100 456.5px,#487a00 457.5px,#497a00 462.5px,#537600 472.5px,#8b6300 484.5px,#00934c 485.5px,#021c5c 486.5px,#021c5c 511.5px)"></i>
<i style="background:linear-gradient(#021c5c 0.5px,#021c5c 3.5px,#00962f 4.5px,#039104 296.5px,#138c03 330.5px,#148b03 331.5px,#457b00 337.5px,#975d00 344.5px,#a14f00 346.5px,#a74500 348.5px,#af3a00 356.5px,#bf2200 360.5px,#d20000 371.5px,#e13200 401.5px,#e65200 423.5px,#e54e00 429.5px,#e34000 435.5px,#dd2400 442.5px,#d20100 448.5px,#c11d00 451.5px,#b82d00 452.5px,#9b5700 454.5px,#7e6700 455.5px,#587400 456.5px,#497a00 457.5px,#497900 462.5px,#547600 472.5px,#8c6200 484.5px,#00934c 485.5px,#021c5c 486.5px,#021c5c 511.5px)"></i>
<i style="background:linear-gradient(#021c5c 0.5px,#021c5c 3.5px,#00962f 4.5px,#039104 296.5px,#148b03 332.5px,#4d7800 339.5px,#965e00 345.5px,#a74500 349.5px,#ab3f00 354.5px,#bf2100 359.5px,#d20000 370.5px,#e13200 402.5px,#e55000 423.5px,#e54b00 429.5px,#e33d00 435.5px,#dc2200 442.5px,#d20000 448.5px,#c01f00 451.5px,#b62f00 452.5px,#9a5900 454.5px,#7b6900 455.5px,#557600 456.5px,#3e7d01 457.5px,#467b00 473.5px,#7a6900 484.5px,#00934c 485.5px,#021c5c 486.5px,#021c5c 511.5px)"></i>
<i style="background:linear-gradient(#021c5c 0.5px,#021c5c 3.5px,#00962f 4.5px,#039104 296.5px,#148b03 332.5px,#4c7800 339.5px,#965e00 345.5px,#a54900 348.5px,#a94200 352.5px,#bf2200 357.5px,#d10100 368.5px,#e13100 400.5px,#e55100 423.5px,#e54c00 429.5px,#e33f00 435.5px,#dc2300 442.5px,#d20100 448.5px,#c11d00 451.5px,#b82c00 452.5px,#9c5600 454.5px,#7f6700 455.5px,#5a7400 456.5px,#3c7e01 457.5px,#3b7e01 462.5px,#447b00 473.5px,#766a00 484.5px,#00934c 485.5px,#021c5c 486.5px,#021c5c 511.5px)"></i>
<i style="background:linear-gradient(#021c5c 0.5px,#021c5c 3.5px,#00962f 4.5px,#039104 296.5px,#148b03 333.5px,#447b00 339.5px,#975d00 346.5px,#a64700 349.5px,#aa4100 352.5px,#bd2400 356.5px,#d20100 368.5px,#e13200 398.5px,#e65700 423.5px,#e65300 429.5px,#e44400 435.5px,#df2c00 441.5px,#d30500 448.5px,#d00300 449.5px,#bd2500 452.5px,#a14e00 454.5px,#8d6200 455.5px,#457b00 457.5px,#3c7e01 458.5px,#447b00 473.5px,#776a00 484.5px,#00934c 485.5px,#021c5c 486.5px,#021c5c 511.5px)"></i>
<i style="background:linear-gradient(#021c5c 0.5px,#021c5c 3.5px,#00962f 4.5px,#039104 296.5px,#158b03 335.5px,#447b00 341.5px,#985c00 348.5px,#a74600 351.5px,#aa4200 353.5px,#bd2400 357.5px,#d20000 368.5px,#e13200 396.5px,#e75d00 423.5px,#e65600 430.5px,#e44600 436.5px,#de2700 443.5px,#d30200 449.5px,#ce0700 450.5px,#c11e00 452.5px,#b62f00 453.5px,#995a00 455.5px,#557500 457.5px,#397f01 458.5px,#2d8302 459.5px,#368001 473.5px,#487a00 479.5px,#617200 484.5px,#00934c 485.5px,#021c5c 486.5px,#021c5c 511.5px)"></i>
<i style="background:linear-gradient(#021c5c 0.5px,#021c5c 3.5px,#00962f 4.5px,#039104 296.5px,#168b03 337.5px,#198a03 338.5px,#447b00 343.5px,#8f6100 349.5px,#985b00 350.5px,#a74500 353.5px,#a84500 354.5px,#bc2600 358.5px,#d20000 369.5px,#e13100 397.5px,#e75b00 423.5px,#e65600 429.5px,#e44900 435.5px,#e13100 441.5px,#d30400 449.5px,#d00400 450.5px,#bb2700 453.5px,#9f5100 455.5px,#896300 456.5px,#447b00 458.5px,#2d8302 459.5px,#2d8302 476.5px,#457b00 484.5px,#00934c 485.5px,#021c5c 486.5px,#021c5c 511.5px)"></i>
<i style="background:linear-gradient(#021c5c 0.5px,#021c5c 3.5px,#00962f 4.5px,#039104 296.5px,#178a03 339.5px,#198a03 340.5px,#457b00 345.5px,#926000 351.5px,#9a5a00 352.5px,#bf2200 360.5px,#d20000 371.5px,#e13200 401.5px,#e65300 423.5px,#e54d00 430.5px,#e33f00 436.5px,#dd2400 443.5px,#d30300 449.5px,#cf0500 450.5px,#bc2600 453.5px,#a24d00 455.5px,#916100 456.5px,#497a00 458.5px,#328101 459.5px,#2d8302 460.5px,#2d8302 473.5px,#517700 484.5px,#00934c 485.5px,#021c5c 486.5px,#021c5c 511.5px)"></i>
<i style="background:linear-gradient(#021c5c 0.5px,#021c5c 3.5px,#00962f 4.5px,#039104 296.5px,#188a03 342.5px,#1d8802 343.5px,#4a7900 348.5px,#985c00 354.5px,#bf2200 362.5px,#d20100 374.5px,#e44900 423.5px,#e44500 429.5px,#e23a00 435.5px,#dd2600 441.5px,#d10100 449.5px,#b92a00 453.5px,#a05000 455.5px,#8c6300 456.5px,#457b00 458.5px,#318201 459.5px,#3a7f01 473.5px,#497a00 478.5px,#667000 484.5px,#00934c 485.5px,#021c5c 486.5px,#021c5c 511.5px)"></i>
<i style="background:linear-gradient(#021c5c 0.5px,#021c5c 3.5px,#00962f 4.5px,#039104 296.5px,#1a8903 346.5px,#477a00 351.5px,#985d00 357.5px,#be2200 365.5px,#ce0600 374.5px,#d20100 377.5px,#e44500 423.5px,#e34100 429.5px,#e13500 435.5px,#db1e00 442.5px,#d20100 448.5px,#ce0600 449.5px,#bf2200 452.5px,#a94300 454.5px,#9b5800 455.5px,#3b7e01 458.5px,#2d8302 459.5px,#338101 473.5px,#497a00 480.5px,#5c7300 484.5px,#00934c 485.5px,#021c5c 486.5px,#021c5c 511.5px)"></i>
<i style="background:linear-gradient(#021c5c 0.5px,#021c5c 3.5px,#00962f 4.5px,#039104 296.5px,#1c8903 349.5px,#4a7900 354.5px,#936000 359.5px,#a54800 362.5px,#a74500 363.5px,#bf2100 368.5px,#d20000 378.5px,#e44900 423.5px,#e44500 429.5px,#e23800 435.5px,#db1f00 442.5px,#d20000 448.5px,#bb2700 452.5px,#a24d00 454.5px,#8f6200 455.5px,#467b00 457.5px,#2e8301 458.5px,#2d8302 463.5px,#338101 472.5px,#477a00 479.5px,#5e7200 484.5px,#00934c 485.5px,#021c5c 486.5px,#021c5c 511.5px)"></i>
<i style="background:linear-gradient(#021c5c 0.5px,#021c5c 3.5px,#00962f 4.5px,#039104 296.5px,#1b8903 348.5px,#1f8802 349.5px,#457b00 353.5px,#975d00 359.5px,#a74500 362.5px,#a94200 364.5px,#bf2100 368.5px,#d10100 377.5px,#e13200 404.5px,#e65200 423.5px,#e54d00 429.5px,#e33f00 435.5px,#dd2300 442.5px,#d20100 448.5px,#c11d00 451.5px,#b82c00 452.5px,#9c5600 454.5px,#7f6700 455.5px,#5a7400 456.5px,#3c7e01 457.5px,#328101 458.5px,#3b7e01 473.5px,#4b7900 478.5px,#686f00 484.5px,#00934c 485.5px,#021c5c 486.5px,#021c5c 511.5px)"></i>
<i style="background:linear-gradient(#021c5c 0.5px,#021c5c 3.5px,#00962f 4.5px,#039104 296.5px,#198a03 344.5px,#437c00 349.5px,#936000 355.5px,#9a5900 356.5px,#a54900 358.5px,#ab3f00 362.5px,#bf2100 366.5px,#d20100 375.5px,#e13200 401.5px,#e65800 423.5px,#e65300 429.5px,#e44400 435.5px,#de2700 442.5px,#d30300 448.5px,#ce0600 449.5px,#c11d00 451.5px,#b72d00 452.5px,#9a5800 454.5px,#7b6800 455.5px,#567500 456.5px,#397f01 457.5px,#328101 458.5px,#3b7e01 473.5px,#477a00 477.5px,#686f00 484.5px,#00934c 485.5px,#021c5c 486.5px,#021c5c 511.5px)"></i>
<i style="background:linear-gradient(#021c5c 0.5px,#021c5c 3.5px,#00962f 4.5px,#039104 296.5px,#168b03 338.5px,#477a00 344.5px,#955f00 350.5px,#9b5800 351.5px,#a54900 353.5px,#ac3e00 359.5px,#bf2200 363.5px,#d20000 373.5px,#e13200 400.5px,#e65800 423.5px,#e65300 429.5px,#e44500 435.5px,#de2700 442.5px,#d30400 448.5px,#cf0500 449.5px,#ba2900 452.5px,#9e5400 454.5px,#846500 455.5px,#3e7d01 457.5px,#2d8302 458.5px,#2e8302 473.5px,#467b00 481.5px,#537600 484.5px,#00934c 485.5px,#021c5c 486.5px,#021c5c 511.5px)"></i>
<i style="background:linear-gradient(#021c5c 0.5px,#021c5c 3.5px,#00962f 4.5px,#039104 296.5px,#128c03 329.5px,#158b03 330.5px,#457b00 336.5px,#8d6200 342.5px,#9c5600 344.5px,#a74500 347.5px,#b03800 356.5px,#c02000 360.5px,#d10100 370.5px,#e13200 400.5px,#e65400 423.5px,#e55000 429.5px,#e34200 435.5px,#df2b00 441.5px,#d10200 449.5px,#be2200 452.5px,#946000 455.5px,#4a7900 457.5px,#328101 458.5px,#2d8302 459.5px,#2d8302 478.5px,#3e7d01 484.5px,#00934c 485.5px,#021c5c 486.5px,#021c5c 511.5px)"></i>
<i style="background:linear-gradient(#021c5c 0.5px,#021c5c 3.5px,#02931a 4.5px,#039104 85.5px,#2c8302 151.5px,#427c00 166.5px,#5d7300 192.5px,#557600 216.5px,#3e7d01 231.5px,#407d00 266.5px,#487a00 289.5px,#527700 307.5px,#647000 325.5px,#975e00 330.5px,#a74500 334.5px,#ad3c00 342.5px,#bb2800 351.5px,#d20000 361.5px,#e13300 379.5px,#eb7700 402.5px,#f3a900 423.5px,#f19b00 430.5px,#ec7b00 437.5px,#e54e00 443.5px,#e13200 446.5px,#d20000 451.5px,#bf2100 453.5px,#9d5400 455.5px,#846500 456.5px,#5f7200 457.5px,#4d7800 458.5px,#417c00 466.5px,#368001 484.5px,#00934c 485.5px,#021c5c 486.5px,#021c5c 511.5px)"></i>
<i style="background:linear-gradient(#021c5c 0.5px,#021c5c 3.5px,#db1f00 4.5px,#e44700 43.5px,#f2a000 151.5px,#f9ce00 167.5px,#fce700 191.5px,#f9ce00 216.5px,#f09500 231.5px,#eb7800 267.5px,#ea7100 306.5px,#ee8a00 347.5px,#fad700 396.5px,#fce700 409.5px,#fef90e 423.5px,#fce500 435.5px,#f4af00 451.5px,#eb7500 463.5px,#e13200 473.5px,#d30200 480.5px,#c41800 483.5px,#b82c00 484.5px,#00934c 485.5px,#021c5c 486.5px,#021c5c 511.5px)"></i>
<i style="background:linear-gradient(#021c5c 0.5px,#021c5c 3.5px,#db1f00 4.5px,#e44700 43.5px,#f2a000 151.5px,#f9ce00 167.5px,#fce700 191.5px,#f9ce00 216.5px,#f09500 231.5px,#eb7800 267.5px,#ea7100 306.5px,#ee8a00 347.5px,#fad700 396.5px,#fce700 409.5px,#fefa10 423.5px,#fce700 435.5px,#f5b100 451.5px,#eb7800 463.5px,#e02f00 474.5px,#d10100 481.5px,#bf2200 484.5px,#00934c 485.5px,#021c5c 486.5px,#021c5c 511.5px)"></i>
<i style="background:linear-gradient(#021c5c 0.5px,#021c5c 3.5px,#d30400 4.5px,#e13200 60.5px,#e54c00 97.5px,#eb7a00 151.5px,#f2a200 167.5px,#f6ba00 191.5px,#f2a300 216.5px,#ea7100 231.5px,#e65500 267.5px,#e55000 307.5px,#e96800 346.5px,#f5b000 397.5px,#fce600 415.5px,#fefa10 423.5px,#fce800 435.5px,#f5b200 451.5px,#eb7a00 463.5px,#e13200 474.5px,#d30200 481.5px,#ce0800 482.5px,#c11d00 484.5px,#00934c 485.5px,#021c5c 486.5px,#021c5c 511.5px)"></i>
<i style="background:linear-gradient(#021c5c 0.5px,#021c5c 3.5px,#816600 4.5px,#965f00 12.5px,#be2300 53.5px,#d20000 103.5px,#da1a00 151.5px,#e23600 167.5px,#e44800 192.5px,#e23900 216.5px,#d91800 231.5px,#d50b00 266.5px,#d50b00 306.5px,#da1b00 346.5px,#dd2500 356.5px,#eb7900 383.5px,#fbe000 423.5px,#fad900 429.5px,#f8c800 437.5px,#f19800 452.5px,#eb7700 460.5px,#e13400 472.5px,#d30400 480.5px,#d10300 481.5px,#c01f00 484.5px,#00934c 485.5px,#021c5c 486.5px,#021c5c 511.5px)"></i>
<i style="background:linear-gradient(#021c5c 0.5px,#021c5c 3.5px,#02920d 4.5px,#039104 29.5px,#487a00 112.5px,#796900 151.5px,#955f00 159.5px,#a05100 166.5px,#b03800 191.5px,#a84400 216.5px,#975e00 228.5px,#8e6200 231.5px,#856500 268.5px,#985d00 271.5px,#a74600 276.5px,#af3a00 291.5px,#d20000 338.5px,#e13200 364.5px,#eb7800 398.5px,#f2a100 423.5px,#f09500 434.5px,#eb7600 445.5px,#e44500 455.5px,#d20200 466.5px,#c11d00 469.5px,#985c00 473.5px,#547600 476.5px,#4d7800 477.5px,#487a00 482.5px,#507700 484.5px,#00934c 485.5px,#021c5c 486.5px,#021c5c 511.5px)"></i>
<i style="background:linear-gradient(#021c5c 0.5px,#021c5c 3.5px,#019525 4.5px,#049104 163.5px,#138c03 192.5px,#158b03 216.5px,#108d03 231.5px,#158b03 251.5px,#4a7900 261.5px,#936000 270.5px,#a74500 276.5px,#b03800 293.5px,#cb0b00 329.5px,#d20100 334.5px,#e13300 363.5px,#eb7700 402.5px,#f09400 423.5px,#ef8d00 429.5px,#eb7800 436.5px,#e54f00 443.5px,#e03000 447.5px,#d30500 452.5px,#ce0700 453.5px,#bc2500 455.5px,#9c5600 457.5px,#846500 458.5px,#427c00 460.5px,#358001 461.5px,#2f8201 481.5px,#387f01 484.5px,#00934c 485.5px,#021c5c 486.5px,#021c5c 511.5px)"></i>
<i style="background:linear-gradient(#021c5c 0.5px,#021c5c 3.5px,#00952d 4.5px,#039105 255.5px,#487a00 268.5px,#936000 277.5px,#a54900 282.5px,#af3a00 297.5px,#c71300 327.5px,#d20000 335.5px,#e13300 366.5px,#eb7800 409.5px,#ee8900 423.5px,#ec7f00 431.5px,#e96a00 437.5px,#e34200 444.5px,#d30300 452.5px,#cc0a00 453.5px,#c41800 454.5px,#ba2900 455.5px,#9b5800 457.5px,#7f6700 458.5px,#407d00 460.5px,#2d8302 461.5px,#2d8302 482.5px,#308201 484.5px,#00934c 485.5px,#021c5c 486.5px,#021c5c 511.5px)"></i>
<i style="background:linear-gradient(#021c5c 0.5px,#021c5c 3.5px,#00962e 4.5px,#01941e 97.5px,#02920e 230.5px,#039105 269.5px,#477a00 281.5px,#955f00 290.5px,#a64700 295.5px,#ae3a00 308.5px,#c41800 332.5px,#d20100 341.5px,#e13200 371.5px,#ed8200 423.5px,#eb7a00 431.5px,#e86500 437.5px,#e33d00 444.5px,#d20000 452.5px,#c21c00 454.5px,#985c00 457.5px,#557500 459.5px,#3a7f01 460.5px,#2d8302 461.5px,#2d8302 477.5px,#437c00 484.5px,#00934c 485.5px,#021c5c 486.5px,#021c5c 511.5px)"></i>
<i style="background:linear-gradient(#021c5c 0.5px,#021c5c 3.5px,#00962f 4.5px,#039105 280.5px,#457b00 291.5px,#965f00 300.5px,#a44a00 304.5px,#a74500 305.5px,#ae3b00 316.5px,#c21c00 336.5px,#d20000 346.5px,#e13200 375.5px,#ec7f00 423.5px,#eb7900 430.5px,#e86100 437.5px,#e23a00 444.5px,#d30400 451.5px,#ce0700 452.5px,#be2300 454.5px,#9e5300 456.5px,#876400 457.5px,#437c00 459.5px,#2d8302 460.5px,#2d8302 476.5px,#457b00 484.5px,#00934c 485.5px,#021c5c 486.5px,#021c5c 511.5px)"></i>
<i style="background:linear-gradient(#021c5c 0.5px,#021c5c 3.5px,#00962f 4.5px,#039104 288.5px,#487a00 299.5px,#946000 307.5px,#a44a00 311.5px,#a74500 312.5px,#ae3a00 323.5px,#c02000 338.5px,#d20000 349.5px,#e13200 377.5px,#ec7e00 423.5px,#eb7600 430.5px,#e86200 436.5px,#e13500 444.5px,#d40600 450.5px,#d00400 451.5px,#bf2100 453.5px,#a05000 455.5px,#8b6300 456.5px,#457b00 458.5px,#2e8302 459.5px,#2d8302 480.5px,#397f01 484.5px,#00934c 485.5px,#021c5c 486.5px,#021c5c 511.5px)"></i>
<i style="background:linear-gradient(#021c5c 0.5px,#021c5c 3.5px,#00962f 4.5px,#039105 293.5px,#049104 294.5px,#4e7800 305.5px,#936000 312.5px,#a44a00 316.5px,#a74500 317.5px,#ad3d00 326.5px,#ba2900 337.5px,#d20100 351.5px,#e13300 380.5px,#eb7900 423.5px,#ea7100 430.5px,#e75d00 436.5px,#e23c00 442.5px,#d10200 450.5px,#c01f00 452.5px,#a14e00 454.5px,#8d6200 455.5px,#457b00 457.5px,#2d8302 458.5px,#2d8302 481.5px,#338101 484.5px,#00934c 485.5px,#021c5c 486.5px,#021c5c 511.5px)"></i>
<i style="background:linear-gradient(#021c5c 0.5px,#021c5c 3.5px,#00962f 4.5px,#039104 297.5px,#467b00 307.5px,#955f00 315.5px,#9d5400 317.5px,#a74500 320.5px,#ac3d00 328.5px,#b72d00 337.5px,#be2300 339.5px,#d20100 351.5px,#e13100 381.5px,#ea7200 423.5px,#e96a00 430.5px,#e65600 436.5px,#e13500 442.5px,#d20100 449.5px,#c31a00 451.5px,#b82c00 452.5px,#985d00 454.5px,#4e7800 456.5px,#348101 457.5px,#2d8302 458.5px,#2d8302 476.5px,#437c00 484.5px,#00934c 485.5px,#021c5c 486.5px,#021c5c 511.5px)"></i>
<i style="background:linear-gradient(#021c5c 0.5px,#021c5c 3.5px,#00962f 4.5px,#059004 300.5px,#457b00 310.5px,#955f00 318.5px,#9a5a00 319.5px,#a74500 323.5px,#b43200 337.5px,#be2200 340.5px,#d20000 352.5px,#e13200 383.5px,#e96d00 423.5px,#e86500 430.5px,#e65200 436.5px,#e13200 442.5px,#d10200 449.5px,#c11d00 451.5px,#946000 454.5px,#487a00 456.5px,#308201 457.5px,#387f01 473.5px,#477a00 478.5px,#647000 484.5px,#00934c 485.5px,#021c5c 486.5px,#021c5c 511.5px)"></i>
<i style="background:linear-gradient(#021c5c 0.5px,#021c5c 3.5px,#00962f 4.5px,#039104 296.5px,#079004 304.5px,#088f04 305.5px,#467b00 314.5px,#975d00 322.5px,#a74600 326.5px,#b13600 338.5px,#bf2100 342.5px,#d20100 354.5px,#e13100 384.5px,#e96c00 423.5px,#e86400 430.5px,#e55100 436.5px,#df2c00 443.5px,#d20000 449.5px,#b92a00 452.5px,#9a5900 454.5px,#7a6900 455.5px,#557600 456.5px,#387f01 457.5px,#368001 462.5px,#3f7d01 473.5px,#487a00 476.5px,#6e6d00 484.5px,#00934c 485.5px,#021c5c 486.5px,#021c5c 511.5px)"></i>
<i style="background:linear-gradient(#021c5c 0.5px,#021c5c 3.5px,#00962f 4.5px,#039104 296.5px,#088f04 308.5px,#0a8f04 309.5px,#4b7900 318.5px,#955f00 325.5px,#9a5900 326.5px,#a64700 329.5px,#af3a00 339.5px,#be2300 343.5px,#d20000 355.5px,#e13200 385.5px,#e96c00 423.5px,#e86400 430.5px,#e65200 436.5px,#e02f00 443.5px,#d30500 449.5px,#cf0500 450.5px,#c11f00 452.5px,#946000 455.5px,#4a7900 457.5px,#387f01 458.5px,#407d00 473.5px,#4a7900 476.5px,#716c00 484.5px,#00934c 485.5px,#021c5c 486.5px,#021c5c 511.5px)"></i>
<i style="background:linear-gradient(#021c5c 0.5px,#021c5c 3.5px,#00962f 4.5px,#039104 296.5px,#0b8e04 313.5px,#497a00 322.5px,#965f00 329.5px,#a74600 333.5px,#ad3c00 341.5px,#bf2100 346.5px,#d20100 357.5px,#e13100 387.5px,#e96800 423.5px,#e86100 430.5px,#e55100 436.5px,#e02f00 443.5px,#d20100 450.5px,#be2400 453.5px,#a05100 455.5px,#8a6300 456.5px,#447b00 458.5px,#348101 459.5px,#3d7e01 473.5px,#4a7900 477.5px,#6b6e00 484.5px,#00934c 485.5px,#021c5c 486.5px,#021c5c 511.5px)"></i>
<i style="background:linear-gradient(#021c5c 0.5px,#021c5c 3.5px,#00962f 4.5px,#039104 296.5px,#0e8d03 319.5px,#477a00 327.5px,#965f00 334.5px,#a74500 338.5px,#ad3c00 345.5px,#be2300 349.5px,#d10100 360.5px,#e13200 390.5px,#e86500 423.5px,#e75e00 430.5px,#e54e00 436.5px,#e02f00 443.5px,#d30300 450.5px,#ce0700 451.5px,#c11f00 453.5px,#985c00 456.5px,#547600 458.5px,#397f01 459.5px,#2f8201 460.5px,#387f01 473.5px,#477a00 478.5px,#637100 484.5px,#00934c 485.5px,#021c5c 486.5px,#021c5c 511.5px)"></i>
<i style="background:linear-gradient(#021c5c 0.5px,#021c5c 3.5px,#00962f 4.5px,#039104 296.5px,#108d03 325.5px,#138c03 326.5px,#4b7900 333.5px,#926000 339.5px,#995b00 340.5px,#a64600 343.5px,#ac3e00 349.5px,#be2300 353.5px,#d20000 364.5px,#e13200 392.5px,#e86500 423.5px,#e75e00 430.5px,#e54e00 436.5px,#e02f00 443.5px,#d30300 450.5px,#ce0600 451.5px,#c11e00 453.5px,#995b00 456.5px,#567500 458.5px,#3a7f01 459.5px,#328101 460.5px,#3b7e01 473.5px,#4b7900 478.5px,#686f00 484.5px,#00934c 485.5px,#021c5c 486.5px,#021c5c 511.5px)"></i>
<i style="background:linear-gradient(#021c5c 0.5px,#021c5c 3.5px,#00962f 4.5px,#039104 296.5px,#138c03 331.5px,#4b7900 338.5px,#955f00 344.5px,#9a5800 345.5px,#a74500 348.5px,#aa4100 352.5px,#bf2100 357.5px,#d20000 367.5px,#e13200 395.5px,#e86000 423.5px,#e75a00 430.5px,#e44a00 436.5px,#df2c00 443.5px,#d20000 450.5px,#bf2100 453.5px,#955f00 456.5px,#4d7800 458.5px,#4d7800 462.5px,#577500 472.5px,#8f6100 484.5px,#00934c 485.5px,#021c5c 486.5px,#021c5c 511.5px)"></i>
<i style="background:linear-gradient(#021c5c 0.5px,#021c5c 3.5px,#00962f 4.5px,#039104 296.5px,#148b03 333.5px,#158b03 334.5px,#477a00 340.5px,#926000 346.5px,#995a00 347.5px,#a74500 350.5px,#ab4000 354.5px,#be2300 358.5px,#d10100 369.5px,#e13100 400.5px,#e65300 423.5px,#e54d00 430.5px,#e33e00 436.5px,#dc2300 443.5px,#d30200 449.5px,#ce0700 450.5px,#bb2800 453.5px,#a14f00 455.5px,#8d6200 456.5px,#716c00 457.5px,#726c00 462.5px,#7c6800 472.5px,#965e00 478.5px,#a24d00 484.5px,#00934c 485.5px,#021c5c 486.5px,#021c5c 511.5px)"></i>
<i style="background:linear-gradient(#021c5c 0.5px,#021c5c 3.5px,#00962f 4.5px,#039104 296.5px,#158b03 334.5px,#158b03 335.5px,#477a00 341.5px,#946000 347.5px,#a74500 351.5px,#a94300 354.5px,#b43200 356.5px,#bf2100 359.5px,#d20000 371.5px,#e44900 423.5px,#e44500 429.5px,#e23900 435.5px,#dd2600 441.5px,#d10200 449.5px,#c11e00 452.5px,#ad3d00 454.5px,#9f5100 455.5px,#8a6300 456.5px,#667000 457.5px,#5f7200 458.5px,#6a6e00 472.5px,#936000 481.5px,#9b5800 484.5px,#00934c 485.5px,#021c5c 486.5px,#021c5c 511.5px)"></i>
<i style="background:linear-gradient(#021c5c 0.5px,#021c5c 3.5px,#00962f 4.5px,#039104 296.5px,#168b03 337.5px,#178a03 338.5px,#4c7900 344.5px,#975d00 350.5px,#a64600 353.5px,#a94200 356.5px,#bd2400 360.5px,#d20000 372.5px,#e13200 405.5px,#e44a00 423.5px,#e44600 429.5px,#e23a00 435.5px,#de2600 441.5px,#d10100 449.5px,#c11d00 452.5px,#b92b00 453.5px,#9f5100 455.5px,#8a6300 456.5px,#447b00 458.5px,#3f7d01 459.5px,#487a00 473.5px,#7d6800 484.5px,#00934c 485.5px,#021c5c 486.5px,#021c5c 511.5px)"></i>
<i style="background:linear-gradient(#021c5c 0.5px,#021c5c 3.5px,#00962f 4.5px,#039104 296.5px,#188a03 342.5px,#4b7900 348.5px,#8f6100 353.5px,#985b00 354.5px,#a74500 357.5px,#a84400 359.5px,#bd2400 363.5px,#d20000 374.5px,#e13100 402.5px,#e65200 423.5px,#e54c00 430.5px,#e33e00 436.5px,#dc2200 443.5px,#d20100 449.5px,#c21c00 452.5px,#ba2900 453.5px,#9f5100 455.5px,#8a6300 456.5px,#447b00 458.5px,#397f01 459.5px,#417c00 473.5px,#726b00 484.5px,#00934c 485.5px,#021c5c 486.5px,#021c5c 511.5px)"></i>
<i style="background:linear-gradient(#021c5c 0.5px,#021c5c 3.5px,#00962f 4.5px,#039104 296.5px,#1a8903 346.5px,#467b00 351.5px,#975d00 357.5px,#a74500 360.5px,#a94200 362.5px,#bf2200 366.5px,#d10200 375.5px,#e13100 401.5px,#e65700 423.5px,#e55100 430.5px,#e34200 436.5px,#dd2500 443.5px,#d30300 449.5px,#cf0500 450.5px,#bc2600 453.5px,#a14f00 455.5px,#8d6200 456.5px,#467b00 458.5px,#437c00 459.5px,#4c7900 472.5px,#836500 484.5px,#00934c 485.5px,#021c5c 486.5px,#021c5c 511.5px)"></i>
<i style="background:linear-gradient(#021c5c 0.5px,#021c5c 3.5px,#00962f 4.5px,#039104 296.5px,#1c8903 349.5px,#1d8803 350.5px,#437c00 354.5px,#965f00 360.5px,#a74600 363.5px,#ab4000 365.5px,#c02000 369.5px,#d20000 378.5px,#e13300 404.5px,#e65400 423.5px,#e54e00 430.5px,#e34000 436.5px,#dd2400 443.5px,#d30400 449.5px,#d00300 450.5px,#be2200 453.5px,#975d00 456.5px,#517700 458.5px,#397f01 459.5px,#417c00 473.5px,#726b00 484.5px,#00934c 485.5px,#021c5c 486.5px,#021c5c 511.5px)"></i>
<i style="background:linear-gradient(#021c5c 0.5px,#021c5c 3.5px,#00962f 4.5px,#039104 296.5px,#1e8802 354.5px,#218702 355.5px,#497a00 359.5px,#965f00 364.5px,#a74500 367.5px,#a84500 368.5px,#be2200 372.5px,#d20000 381.5px,#e13100 406.5px,#e54f00 423.5px,#e44900 430.5px,#e23c00 436.5px,#de2700 442.5px,#d10200 450.5px,#c11e00 453.5px,#b82c00 454.5px,#9e5200 456.5px,#886400 457.5px,#447b00 459.5px,#2e8302 460.5px,#2d8302 477.5px,#427c00 484.5px,#00934c 485.5px,#021c5c 486.5px,#021c5c 511.5px)"></i>
<i style="background:linear-gradient(#021c5c 0.5px,#021c5c 3.5px,#00962f 4.5px,#039104 296.5px,#1f8802 357.5px,#218702 358.5px,#4a7900 362.5px,#965f00 367.5px,#a74500 370.5px,#a84400 371.5px,#bf2100 375.5px,#d10100 383.5px,#e13200 407.5px,#e54f00 423.5px,#e44a00 430.5px,#e33d00 436.5px,#dd2500 443.5px,#d20200 450.5px,#ce0700 451.5px,#be2400 454.5px,#985c00 457.5px,#557500 459.5px,#3a7f01 460.5px,#2d8302 461.5px,#2d8302 475.5px,#497a00 484.5px,#00934c 485.5px,#021c5c 486.5px,#021c5c 511.5px)"></i>
<i style="background:linear-gradient(#021c5c 0.5px,#021c5c 3.5px,#00962f 4.5px,#039104 296.5px,#1f8802 357.5px,#248602 358.5px,#4e7800 362.5px,#985c00 367.5px,#a74500 370.5px,#ac3e00 373.5px,#bf2200 376.5px,#d20000 384.5px,#e13200 406.5px,#e65400 423.5px,#e54f00 430.5px,#e34200 436.5px,#de2800 443.5px,#d10300 451.5px,#c02000 454.5px,#9b5700 457.5px,#816600 458.5px,#437c00 460.5px,#4a7900 472.5px,#826600 484.5px,#00934c 485.5px,#021c5c 486.5px,#021c5c 511.5px)"></i>
<i style="background:linear-gradient(#021c5c 0.5px,#021c5c 3.5px,#00962f 4.5px,#039104 296.5px,#1d8802 352.5px,#238602 353.5px,#4a7900 357.5px,#955f00 362.5px,#9b5700 363.5px,#a74600 365.5px,#b03800 372.5px,#bf2100 375.5px,#d20100 383.5px,#e13200 404.5px,#e75a00 423.5px,#e65400 430.5px,#e44400 437.5px,#de2700 444.5px,#d20100 451.5px,#c02000 454.5px,#9a5800 457.5px,#7f6700 458.5px,#5c7300 459.5px,#487a00 460.5px,#537600 472.5px,#8b6300 484.5px,#00934c 485.5px,#021c5c 486.5px,#021c5c 511.5px)"></i>
<i style="background:linear-gradient(#021c5c 0.5px,#021c5c 3.5px,#00962f 4.5px,#039104 296.5px,#178a03 340.5px,#4d7800 346.5px,#8f6100 351.5px,#a34c00 354.5px,#a74500 355.5px,#ad3c00 361.5px,#c31a00 374.5px,#d10100 380.5px,#e13300 402.5px,#e75f00 423.5px,#e75900 430.5px,#e54b00 436.5px,#e02e00 443.5px,#d10200 451.5px,#be2300 454.5px,#936000 457.5px,#4d7800 459.5px,#407d00 460.5px,#497a00 473.5px,#7e6700 484.5px,#00934c 485.5px,#021c5c 486.5px,#021c5c 511.5px)"></i>
<i style="background:linear-gradient(#021c5c 0.5px,#021c5c 3.5px,#00962f 4.5px,#039104 296.5px,#0e8d03 319.5px,#0f8d03 320.5px,#447b00 327.5px,#926100 334.5px,#a64800 338.5px,#af3a00 347.5px,#d20000 374.5px,#da1c00 390.5px,#e96700 423.5px,#e86100 430.5px,#e55100 436.5px,#e13100 443.5px,#d30500 450.5px,#d00400 451.5px,#c21c00 453.5px,#b72d00 454.5px,#9a5800 456.5px,#7e6700 457.5px,#5a7400 458.5px,#457b00 459.5px,#4f7800 472.5px,#866400 484.5px,#00934c 485.5px,#021c5c 486.5px,#021c5c 511.5px)"></i>
<i style="background:linear-gradient(#021c5c 0.5px,#021c5c 3.5px,#00962f 4.5px,#039104 296.5px,#158b03 334.5px,#198a03 335.5px,#4c7900 341.5px,#975e00 347.5px,#a54800 350.5px,#af3a00 358.5px,#d20100 380.5px,#e13200 397.5px,#eb7700 423.5px,#ea6f00 430.5px,#e75d00 436.5px,#e23800 443.5px,#d30500 450.5px,#cf0600 451.5px,#bf2100 453.5px,#a05100 455.5px,#8a6300 456.5px,#667000 457.5px,#4f7800 458.5px,#5a7400 472.5px,#926000 484.5px,#00934c 485.5px,#021c5c 486.5px,#021c5c 511.5px)"></i>
<i style="background:linear-gradient(#021c5c 0.5px,#021c5c 3.5px,#00962f 4.5px,#039104 296.5px,#1a8903 346.5px,#1c8903 347.5px,#4b7900 352.5px,#926100 357.5px,#9a5900 358.5px,#a74500 361.5px,#ad3c00 366.5px,#b72d00 371.5px,#d20100 379.5px,#e13300 395.5px,#eb7800 417.5px,#ed8600 423.5px,#ec7d00 430.5px,#e96800 436.5px,#e33d00 443.5px,#d30300 450.5px,#cc0a00 451.5px,#c41900 452.5px,#b82b00 453.5px,#985c00 455.5px,#517700 457.5px,#497a00 458.5px,#547600 472.5px,#8c6300 484.5px,#00934c 485.5px,#021c5c 486.5px,#021c5c 511.5px)"></i>
<i style="background:linear-gradient(#021c5c 0.5px,#021c5c 3.5px,#00962f 4.5px,#039104 296.5px,#1c8903 351.5px,#1d8802 352.5px,#447b00 356.5px,#985c00 362.5px,#a74500 365.5px,#ac3e00 369.5px,#be2300 372.5px,#d00300 378.5px,#d20200 379.5px,#e13400 394.5px,#eb7600 414.5px,#ef8d00 423.5px,#ed8400 430.5px,#e96d00 436.5px,#e33f00 443.5px,#d20100 450.5px,#c21d00 452.5px,#a14e00 454.5px,#8d6200 455.5px,#487a00 457.5px,#487a00 462.5px,#537600 472.5px,#8b6300 484.5px,#00934c 485.5px,#021c5c 486.5px,#021c5c 511.5px)"></i>
<i style="background:linear-gradient(#021c5c 0.5px,#021c5c 3.5px,#00962f 4.5px,#039104 296.5px,#1d8802 353.5px,#437c00 357.5px,#985d00 363.5px,#a74500 366.5px,#aa4000 369.5px,#c01f00 373.5px,#d20100 379.5px,#e13200 394.5px,#eb7600 415.5px,#ee8a00 423.5px,#ec8100 430.5px,#e96a00 436.5px,#e33d00 443.5px,#d20000 450.5px,#c11e00 452.5px,#a05000 454.5px,#8b6300 455.5px,#667000 456.5px,#4f7800 457.5px,#507700 462.5px,#5a7400 472.5px,#926000 484.5px,#00934c 485.5px,#021c5c 486.5px,#021c5c 511.5px)"></i>
<i style="background:linear-gradient(#021c5c 0.5px,#021c5c 3.5px,#00962f 4.5px,#039104 296.5px,#1c8903 351.5px,#228702 352.5px,#487a00 356.5px,#926000 361.5px,#9a5900 362.5px,#a54800 364.5px,#ae3b00 370.5px,#c02000 373.5px,#d10100 379.5px,#e13400 396.5px,#eb7600 418.5px,#ed8100 423.5px,#eb7900 430.5px,#e86400 436.5px,#e23a00 443.5px,#d20100 450.5px,#c31b00 452.5px,#955f00 455.5px,#4c7900 457.5px,#378001 458.5px,#407d00 473.5px,#4a7900 476.5px,#706c00 484.5px,#00934c 485.5px,#021c5c 486.5px,#021c5c 511.5px)"></i>
<i style="background:linear-gradient(#021c5c 0.5px,#021c5c 3.5px,#00962f 4.5px,#039104 296.5px,#1b8903 348.5px,#497a00 353.5px,#916100 358.5px,#995a00 359.5px,#a74500 362.5px,#b33400 370.5px,#be2300 372.5px,#d20000 379.5px,#e13200 396.5px,#ec7b00 423.5px,#eb7600 429.5px,#e86000 436.5px,#e23a00 443.5px,#d40500 450.5px,#cf0600 451.5px,#bf2200 453.5px,#9f5200 455.5px,#886400 456.5px,#437c00 458.5px,#2d8302 459.5px,#2d8302 475.5px,#477a00 484.5px,#00934c 485.5px,#021c5c 486.5px,#021c5c 511.5px)"></i>
<i style="background:linear-gradient(#021c5c 0.5px,#021c5c 3.5px,#00962f 4.5px,#039104 296.5px,#198a03 344.5px,#457b00 349.5px,#965f00 355.5px,#9b5700 356.5px,#a64700 358.5px,#b72e00 369.5px,#d10100 379.5px,#e13100 396.5px,#eb7b00 423.5px,#ea7400 430.5px,#e75d00 437.5px,#e23700 444.5px,#d30200 451.5px,#cd0900 452.5px,#bc2600 454.5px,#9c5500 456.5px,#836600 457.5px,#417c00 459.5px,#2d8302 460.5px,#2d8302 476.5px,#437c00 484.5px,#00934c 485.5px,#021c5c 486.5px,#021c5c 511.5px)"></i>
<i style="background:linear-gradient(#021c5c 0.5px,#021c5c 3.5px,#00962f 4.5px,#039104 296.5px,#188a03 341.5px,#1b8903 342.5px,#477a00 347.5px,#965e00 353.5px,#a64700 356.5px,#b03800 364.5px,#ca0f00 379.5px,#d20100 382.5px,#e13400 398.5px,#ec7e00 423.5px,#eb7700 430.5px,#e86100 437.5px,#e23c00 444.5px,#d20000 452.5px,#c31b00 454.5px,#995a00 457.5px,#3d7e01 460.5px,#2d8302 461.5px,#2e8302 475.5px,#4a7900 484.5px,#00934c 485.5px,#021c5c 486.5px,#021c5c 511.5px)"></i>
<i style="background:linear-gradient(#021c5c 0.5px,#021c5c 3.5px,#00962f 4.5px,#039104 296.5px,#158b03 335.5px,#198a03 336.5px,#437c00 341.5px,#985d00 348.5px,#a64700 351.5px,#af3900 359.5px,#d10100 381.5px,#d50b00 387.5px,#e13100 398.5px,#eb7600 418.5px,#ed8200 423.5px,#eb7a00 431.5px,#e86500 437.5px,#e33f00 444.5px,#d30300 452.5px,#cd0800 453.5px,#bd2500 455.5px,#9e5300 457.5px,#886400 458.5px,#457b00 460.5px,#2f8201 461.5px,#2e8302 474.5px,#4f7800 484.5px,#00934c 485.5px,#021c5c 486.5px,#021c5c 511.5px)"></i>
<i style="background:linear-gradient(#021c5c 0.5px,#021c5c 3.5px,#00962f 4.5px,#039104 296.5px,#0d8e03 318.5px,#467b00 326.5px,#955f00 333.5px,#a74600 337.5px,#af3a00 346.5px,#d20100 373.5px,#db1c00 390.5px,#eb7800 417.5px,#ee8700 423.5px,#ec7d00 431.5px,#e96900 437.5px,#e34000 444.5px,#d30200 452.5px,#c41800 454.5px,#b92a00 455.5px,#9b5800 457.5px,#3f7d01 460.5px,#2d8302 461.5px,#2d8302 474.5px,#4d7800 484.5px,#00934c 485.5px,#021c5c 486.5px,#021c5c 511.5px)"></i>
<i style="background:linear-gradient(#021c5c 0.5px,#021c5c 3.5px,#00962f 4.5px,#039104 296.5px,#0e8d03 321.5px,#4c7900 329.5px,#916100 335.5px,#a64800 339.5px,#af3a00 348.5px,#bd2400 357.5px,#d20100 375.5px,#d71000 384.5px,#e13200 394.5px,#eb7800 415.5px,#ef8d00 423.5px,#ed8400 430.5px,#ea7100 436.5px,#e65500 441.5px,#e13100 446.5px,#d40700 451.5px,#d00400 452.5px,#bf2200 454.5px,#9f5200 456.5px,#896400 457.5px,#447b00 459.5px,#2e8301 460.5px,#2d8302 480.5px,#378001 484.5px,#00934c 485.5px,#021c5c 486.5px,#021c5c 511.5px)"></i>
<i style="background:linear-gradient(#021c5c 0.5px,#021c5c 3.5px,#00962f 4.5px,#039104 296.5px,#158b03 334.5px,#178a03 335.5px,#4a7900 341.5px,#965f00 347.5px,#a54900 350.5px,#b03700 359.5px,#d20100 380.5px,#e13200 394.5px,#eb7700 413.5px,#f09300 423.5px,#ee8a00 430.5px,#ea7400 436.5px,#e44700 443.5px,#d20200 451.5px,#c21c00 453.5px,#926000 456.5px,#4a7900 458.5px,#338101 459.5px,#2d8302 460.5px,#2d8302 484.5px,#00934c 485.5px,#021c5c 486.5px,#021c5c 511.5px)"></i>
<i style="background:linear-gradient(#021c5c 0.5px,#021c5c 3.5px,#00962f 4.5px,#039104 296.5px,#1a8903 346.5px,#487a00 351.5px,#8e6200 356.5px,#985c00 357.5px,#a34c00 359.5px,#a74500 360.5px,#ae3b00 366.5px,#c41800 378.5px,#d10100 382.5px,#e13100 395.5px,#eb7800 413.5px,#f09600 423.5px,#ef8e00 429.5px,#eb7600 436.5px,#e44700 443.5px,#d10100 451.5px,#c02000 453.5px,#9e5200 455.5px,#876400 456.5px,#427c00 458.5px,#2d8302 459.5px,#2d8302 481.5px,#358001 484.5px,#00934c 485.5px,#021c5c 486.5px,#021c5c 511.5px)"></i>
<i style="background:linear-gradient(#021c5c 0.5px,#021c5c 3.5px,#00962f 4.5px,#039104 296.5px,#1c8903 351.5px,#1e8802 352.5px,#457b00 356.5px,#8e6200 361.5px,#9e5300 363.5px,#a74500 365.5px,#ae3b00 370.5px,#bb2700 376.5px,#d00300 382.5px,#d30200 383.5px,#e13000 395.5px,#eb7700 413.5px,#f09600 423.5px,#ef8e00 429.5px,#eb7600 436.5px,#e44800 443.5px,#d30200 451.5px,#c21c00 453.5px,#926000 456.5px,#4a7900 458.5px,#338101 459.5px,#3a7f01 473.5px,#4a7900 478.5px,#676f00 484.5px,#00934c 485.5px,#021c5c 486.5px,#021c5c 511.5px)"></i>
<i style="background:linear-gradient(#021c5c 0.5px,#021c5c 3.5px,#00962f 4.5px,#039104 296.5px,#1d8802 352.5px,#238602 353.5px,#4a7900 357.5px,#955f00 362.5px,#9b5700 363.5px,#a74600 365.5px,#b33400 373.5px,#d20000 381.5px,#e13100 394.5px,#eb7600 412.5px,#f09700 423.5px,#ef8f00 429.5px,#eb7800 436.5px,#e75a00 441.5px,#e13400 446.5px,#d40700 451.5px,#d00300 452.5px,#bf2200 454.5px,#9e5400 456.5px,#866500 457.5px,#437c00 459.5px,#358001 460.5px,#3e7d01 473.5px,#4b7900 477.5px,#6d6d00 484.5px,#00934c 485.5px,#021c5c 486.5px,#021c5c 511.5px)"></i>
<i style="background:linear-gradient(#021c5c 0.5px,#021c5c 3.5px,#00962f 4.5px,#039104 296.5px,#1a8903 345.5px,#1c8903 346.5px,#4a7900 351.5px,#906100 356.5px,#a44a00 359.5px,#b03800 367.5px,#c11e00 375.5px,#d10100 380.5px,#e13400 394.5px,#eb7800 412.5px,#f19900 423.5px,#ef8f00 430.5px,#eb7600 437.5px,#e44800 444.5px,#d30300 452.5px,#cc0a00 453.5px,#c31a00 454.5px,#985c00 457.5px,#557500 459.5px,#3b7e01 460.5px,#2d8302 461.5px,#2e8301 473.5px,#467b00 481.5px,#547600 484.5px,#00934c 485.5px,#021c5c 486.5px,#021c5c 511.5px)"></i>
<i style="background:linear-gradient(#021c5c 0.5px,#021c5c 3.5px,#00962f 4.5px,#039104 296.5px,#158b03 336.5px,#178a03 337.5px,#4a7900 343.5px,#975e00 349.5px,#a54800 352.5px,#b13600 361.5px,#cc0b00 378.5px,#d10100 380.5px,#e13100 393.5px,#eb7700 411.5px,#f19c00 423.5px,#ef9100 430.5px,#eb7800 437.5px,#e44a00 444.5px,#d40500 452.5px,#ce0700 453.5px,#c61600 454.5px,#bc2700 455.5px,#9b5700 457.5px,#816600 458.5px,#417c00 460.5px,#2d8302 461.5px,#318201 473.5px,#497a00 481.5px,#587500 484.5px,#00934c 485.5px,#021c5c 486.5px,#021c5c 511.5px)"></i>
<i style="background:linear-gradient(#021c5c 0.5px,#021c5c 3.5px,#00962f 4.5px,#039104 296.5px,#158b03 334.5px,#198a03 335.5px,#4c7800 341.5px,#975e00 347.5px,#a54800 350.5px,#b13700 359.5px,#cb0d00 376.5px,#d20200 379.5px,#e13100 392.5px,#eb7800 411.5px,#f19c00 423.5px,#ef9100 430.5px,#eb7800 437.5px,#e44a00 444.5px,#d40500 452.5px,#ce0700 453.5px,#c51600 454.5px,#bb2700 455.5px,#9b5700 457.5px,#806700 458.5px,#407d00 460.5px,#358001 461.5px,#3d7e01 473.5px,#4a7900 477.5px,#6c6e00 484.5px,#00934c 485.5px,#021c5c 486.5px,#021c5c 511.5px)"></i>
<i style="background:linear-gradient(#021c5c 0.5px,#021c5c 3.5px,#00962f 4.5px,#039104 296.5px,#178a03 340.5px,#4b7900 346.5px,#8e6200 351.5px,#9d5500 353.5px,#a74500 355.5px,#ac3e00 360.5px,#b62f00 366.5px,#bf2200 370.5px,#d10200 376.5px,#d30200 377.5px,#e13100 391.5px,#eb7600 411.5px,#f09600 423.5px,#ef8d00 430.5px,#ea7400 437.5px,#e44700 444.5px,#d30300 452.5px,#cd0900 453.5px,#c41800 454.5px,#b92b00 455.5px,#a74600 456.5px,#995a00 457.5px,#3d7e01 460.5px,#318201 461.5px,#3a7f01 473.5px,#4a7900 478.5px,#676f00 484.5px,#00934c 485.5px,#021c5c 486.5px,#021c5c 511.5px)"></i>
<i style="background:linear-gradient(#021c5c 0.5px,#021c5c 3.5px,#00962f 4.5px,#039104 296.5px,#1a8903 345.5px,#447b00 350.5px,#965f00 356.5px,#a64700 359.5px,#b43200 368.5px,#bf2100 370.5px,#d10200 376.5px,#e13300 392.5px,#eb7700 413.5px,#ef9100 423.5px,#e80 430.5px,#ea6f00 437.5px,#e44400 444.5px,#d20100 452.5px,#c21c00 454.5px,#965e00 457.5px,#517700 459.5px,#387f01 460.5px,#368001 462.5px,#3f7d01 473.5px,#487a00 476.5px,#6e6d00 484.5px,#00934c 485.5px,#021c5c 486.5px,#021c5c 511.5px)"></i>
<i style="background:linear-gradient(#021c5c 0.5px,#021c5c 3.5px,#00962f 4.5px,#039104 296.5px,#1c8903 349.5px,#1f8802 350.5px,#457b00 354.5px,#985c00 360.5px,#a74500 363.5px,#af3a00 368.5px,#c02000 371.5px,#d20000 377.5px,#e13100 392.5px,#eb7700 413.5px,#ef9100 423.5px,#e80 430.5px,#ea7400 436.5px,#e44a00 443.5px,#e13200 446.5px,#d40800 451.5px,#d00300 452.5px,#bf2100 454.5px,#9f5100 456.5px,#8a6300 457.5px,#467b00 459.5px,#447b00 462.5px,#4c7900 472.5px,#846500 484.5px,#00934c 485.5px,#021c5c 486.5px,#021c5c 511.5px)"></i>
<i style="background:linear-gradient(#021c5c 0.5px,#021c5c 3.5px,#00962f 4.5px,#039104 296.5px,#1c8903 351.5px,#208702 352.5px,#477a00 356.5px,#906100 361.5px,#995a00 362.5px,#a54900 364.5px,#a94200 367.5px,#c02000 371.5px,#d20000 377.5px,#e13100 392.5px,#eb7600 413.5px,#ef9000 423.5px,#ed8600 430.5px,#ea7200 436.5px,#e44700 443.5px,#d30300 451.5px,#cc0a00 452.5px,#c41900 453.5px,#b82c00 454.5px,#985c00 456.5px,#547600 458.5px,#3f7d01 459.5px,#477a00 473.5px,#7c6800 484.5px,#00934c 485.5px,#021c5c 486.5px,#021c5c 511.5px)"></i>
<i style="background:linear-gradient(#021c5c 0.5px,#021c5c 3.5px,#00962f 4.5px,#039104 296.5px,#1c8903 350.5px,#208702 351.5px,#467b00 355.5px,#8f6200 360.5px,#995b00 361.5px,#a74500 364.5px,#a94200 366.5px,#bf2100 370.5px,#d20100 377.5px,#e13300 394.5px,#eb7700 418.5px,#ed8200 423.5px,#eb7a00 430.5px,#e86600 436.5px,#e55100 440.5px,#e02f00 445.5px,#d40700 450.5px,#d00400 451.5px,#bf2100 453.5px,#9f5100 455.5px,#896400 456.5px,#437c00 458.5px,#387f01 459.5px,#417c00 473.5px,#4b7900 476.5px,#716c00 484.5px,#00934c 485.5px,#021c5c 486.5px,#021c5c 511.5px)"></i>
<i style="background:linear-gradient(#021c5c 0.5px,#021c5c 3.5px,#00962f 4.5px,#039104 296.5px,#1b8903 348.5px,#208702 349.5px,#457b00 353.5px,#975d00 359.5px,#a74500 362.5px,#ab3f00 366.5px,#be2300 369.5px,#d20000 377.5px,#e13200 397.5px,#ea6e00 423.5px,#e96700 430.5px,#e65500 436.5px,#e13200 443.5px,#d20000 450.5px,#ba2800 453.5px,#9c5600 455.5px,#806700 456.5px,#5c7300 457.5px,#3d7e01 458.5px,#318201 459.5px,#397f01 473.5px,#497a00 478.5px,#667000 484.5px,#00934c 485.5px,#021c5c 486.5px,#021c5c 511.5px)"></i>
<i style="background:linear-gradient(#021c5c 0.5px,#021c5c 3.5px,#00962f 4.5px,#039104 296.5px,#1a8903 345.5px,#1b8903 346.5px,#497900 351.5px,#8f6100 356.5px,#995b00 357.5px,#a74500 360.5px,#ad3d00 365.5px,#c02000 369.5px,#d20000 377.5px,#e13200 400.5px,#e86000 423.5px,#e75b00 429.5px,#e54d00 435.5px,#e02f00 442.5px,#d30400 449.5px,#cf0500 450.5px,#b92b00 453.5px,#9c5700 455.5px,#806700 456.5px,#5b7300 457.5px,#3d7e01 458.5px,#2d8302 459.5px,#2d8302 473.5px,#517700 484.5px,#00934c 485.5px,#021c5c 486.5px,#021c5c 511.5px)"></i>
<i style="background:linear-gradient(#021c5c 0.5px,#021c5c 3.5px,#00962f 4.5px,#039104 296.5px,#188a03 341.5px,#1b8903 342.5px,#477a00 347.5px,#965e00 353.5px,#a64700 356.5px,#b03800 364.5px,#be2300 367.5px,#d20100 376.5px,#e13200 400.5px,#e75e00 423.5px,#e65700 430.5px,#e44700 436.5px,#de2800 443.5px,#d30400 449.5px,#cf0500 450.5px,#c21b00 452.5px,#b92a00 453.5px,#9c5500 455.5px,#826600 456.5px,#3f7d01 458.5px,#2d8302 459.5px,#2d8302 477.5px,#427c00 484.5px,#00934c 485.5px,#021c5c 486.5px,#021c5c 511.5px)"></i>
<i style="background:linear-gradient(#021c5c 0.5px,#021c5c 3.5px,#00962f 4.5px,#039104 296.5px,#158b03 335.5px,#168b03 336.5px,#497a00 342.5px,#965f00 348.5px,#a54900 351.5px,#b82c00 364.5px,#c01f00 366.5px,#d20000 374.5px,#e13100 396.5px,#e96900 423.5px,#e86200 430.5px,#e55000 436.5px,#e02f00 443.5px,#d20000 450.5px,#bb2700 453.5px,#9d5400 455.5px,#846500 456.5px,#407d00 458.5px,#2d8302 459.5px,#2d8302 474.5px,#4b7900 484.5px,#00934c 485.5px,#021c5c 486.5px,#021c5c 511.5px)"></i>
<i style="background:linear-gradient(#021c5c 0.5px,#021c5c 3.5px,#00962f 4.5px,#039104 296.5px,#128c03 329.5px,#4b7900 336.5px,#946000 342.5px,#a34b00 345.5px,#a74500 346.5px,#ae3c00 353.5px,#c02000 364.5px,#d20100 372.5px,#e13300 392.5px,#ec7c00 423.5px,#eb7600 429.5px,#e86100 436.5px,#e13400 444.5px,#d40500 450.5px,#cf0500 451.5px,#bf2100 453.5px,#9f5100 455.5px,#896300 456.5px,#447b00 458.5px,#2d8302 459.5px,#358001 473.5px,#477a00 479.5px,#5f7200 484.5px,#00934c 485.5px,#021c5c 486.5px,#021c5c 511.5px)"></i>
<i style="background:linear-gradient(#021c5c 0.5px,#021c5c 3.5px,#00962f 4.5px,#039104 296.5px,#0e8d03 321.5px,#118c03 322.5px,#467b00 329.5px,#965f00 336.5px,#a34b00 339.5px,#a74500 340.5px,#ae3b00 348.5px,#c71300 366.5px,#d20000 371.5px,#e13100 389.5px,#eb7700 415.5px,#ee8700 423.5px,#ec7f00 430.5px,#e96b00 436.5px,#e34200 443.5px,#d20100 451.5px,#c31b00 453.5px,#975e00 456.5px,#517700 458.5px,#378001 459.5px,#2d8302 460.5px,#2d8302 473.5px,#537600 484.5px,#00934c 485.5px,#021c5c 486.5px,#021c5c 511.5px)"></i>
<i style="background:linear-gradient(#021c5c 0.5px,#021c5c 3.5px,#00962f 4.5px,#01941e 97.5px,#029211 217.5px,#039104 281.5px,#0f8d03 304.5px,#158b03 314.5px,#467b00 321.5px,#916100 328.5px,#a54900 332.5px,#af3a00 342.5px,#be2300 352.5px,#d20100 371.5px,#e13100 389.5px,#eb7800 415.5px,#e80 423.5px,#ec8000 430.5px,#e96d00 436.5px,#e44500 443.5px,#d40600 451.5px,#cf0500 452.5px,#be2200 454.5px,#9e5300 456.5px,#886400 457.5px,#447b00 459.5px,#2e8302 460.5px,#2d8302 475.5px,#467b00 484.5px,#00934c 485.5px,#021c5c 486.5px,#021c5c 511.5px)"></i>
<i style="background:linear-gradient(#021c5c 0.5px,#021c5c 3.5px,#00962f 4.5px,#01941e 97.5px,#029211 219.5px,#039104 232.5px,#497a00 261.5px,#975e00 284.5px,#a05000 292.5px,#a54800 321.5px,#aa4200 327.5px,#d20000 365.5px,#d81300 378.5px,#e13200 390.5px,#eb7800 416.5px,#ed8600 423.5px,#ec7e00 430.5px,#e96b00 436.5px,#e44500 443.5px,#d10300 452.5px,#c01f00 454.5px,#916100 457.5px,#4b7900 459.5px,#348101 460.5px,#2d8302 461.5px,#2d8302 477.5px,#417c00 484.5px,#00934c 485.5px,#021c5c 486.5px,#021c5c 511.5px)"></i>
<i style="background:linear-gradient(#021c5c 0.5px,#021c5c 3.5px,#00962f 4.5px,#01941e 97.5px,#029211 219.5px,#039104 252.5px,#268502 288.5px,#4b7900 294.5px,#965f00 302.5px,#a74500 307.5px,#ae3b00 318.5px,#d20000 356.5px,#dd2600 385.5px,#eb7600 416.5px,#ed8400 423.5px,#eb7b00 431.5px,#e86500 437.5px,#e23c00 444.5px,#d30500 451.5px,#ce0600 452.5px,#be2300 454.5px,#9e5300 456.5px,#876400 457.5px,#437c00 459.5px,#2d8302 460.5px,#2d8302 476.5px,#447b00 484.5px,#00934c 485.5px,#021c5c 486.5px,#021c5c 511.5px)"></i>
<i style="background:linear-gradient(#021c5c 0.5px,#021c5c 3.5px,#00962f 4.5px,#039104 297.5px,#059004 298.5px,#487a00 308.5px,#975e00 316.5px,#a64700 320.5px,#af3a00 331.5px,#d20100 364.5px,#d81300 377.5px,#e13200 389.5px,#eb7700 416.5px,#ed8400 423.5px,#ec7c00 430.5px,#e96800 436.5px,#e34000 443.5px,#d10200 451.5px,#c11e00 453.5px,#a14e00 455.5px,#8f6100 456.5px,#477a00 458.5px,#318201 459.5px,#2d8302 460.5px,#2d8302 476.5px,#447b00 484.5px,#00934c 485.5px,#021c5c 486.5px,#021c5c 511.5px)"></i>
<i style="background:linear-gradient(#021c5c 0.5px,#021c5c 3.5px,#00962f 4.5px,#039104 296.5px,#098f04 309.5px,#467b00 318.5px,#975d00 326.5px,#a74500 330.5px,#ae3b00 339.5px,#d20000 369.5px,#e13300 389.5px,#eb7700 416.5px,#ed8400 423.5px,#ec7c00 430.5px,#e96700 436.5px,#e23c00 443.5px,#d30200 450.5px,#c31a00 452.5px,#965f00 455.5px,#4d7800 457.5px,#348101 458.5px,#2d8302 459.5px,#2d8302 475.5px,#467b00 484.5px,#00934c 485.5px,#021c5c 486.5px,#021c5c 511.5px)"></i>
<i style="background:linear-gradient(#021c5c 0.5px,#021c5c 3.5px,#00962f 4.5px,#039104 295.5px,#0e8d03 317.5px,#487a00 325.5px,#965f00 332.5px,#a74500 336.5px,#ae3c00 344.5px,#c51600 362.5px,#d20100 368.5px,#e13300 388.5px,#eb7600 415.5px,#ed8600 423.5px,#ec7d00 430.5px,#e96700 436.5px,#e34200 442.5px,#d10200 450.5px,#c02000 452.5px,#9e5200 454.5px,#866500 455.5px,#407d00 457.5px,#308201 458.5px,#397f01 473.5px,#487a00 478.5px,#647000 484.5px,#00934c 485.5px,#021c5c 486.5px,#021c5c 511.5px)"></i>
<i style="background:linear-gradient(#021c5c 0.5px,#021c5c 3.5px,#00962f 4.5px,#039104 286.5px,#178a03 317.5px,#1b8903 318.5px,#477a00 324.5px,#946000 331.5px,#a64700 335.5px,#ae3a00 344.5px,#bf2100 355.5px,#d20000 364.5px,#e13200 385.5px,#eb7800 415.5px,#ed8600 423.5px,#ec7e00 430.5px,#e96900 436.5px,#e33f00 443.5px,#d40500 450.5px,#ce0700 451.5px,#bc2600 453.5px,#9b5800 455.5px,#3c7e01 458.5px,#447b00 473.5px,#776a00 484.5px,#00934c 485.5px,#021c5c 486.5px,#021c5c 511.5px)"></i>
<i style="background:linear-gradient(#021c5c 0.5px,#021c5c 3.5px,#00962e 4.5px,#029210 200.5px,#039104 249.5px,#3e7d01 309.5px,#4b7900 311.5px,#926000 318.5px,#a74500 323.5px,#ae3c00 332.5px,#c51700 352.5px,#d20100 359.5px,#e13200 381.5px,#eb7800 413.5px,#ee8900 423.5px,#ec7f00 431.5px,#e96a00 437.5px,#e34100 444.5px,#d20100 452.5px,#c31a00 454.5px,#985b00 457.5px,#577500 459.5px,#3c7e01 460.5px,#437c00 473.5px,#756a00 484.5px,#00934c 485.5px,#021c5c 486.5px,#021c5c 511.5px)"></i>
<i style="background:linear-gradient(#021c5c 0.5px,#021c5c 3.5px,#019525 4.5px,#039104 154.5px,#228702 190.5px,#477a00 225.5px,#965e00 264.5px,#be2300 308.5px,#d20000 351.5px,#d30200 355.5px,#e13200 375.5px,#eb7800 404.5px,#f19d00 423.5px,#f09300 430.5px,#eb7800 438.5px,#e54b00 445.5px,#d20100 454.5px,#c21c00 456.5px,#985c00 459.5px,#3e7d01 462.5px,#397f01 463.5px,#407d00 473.5px,#4a7900 476.5px,#716c00 484.5px,#00934c 485.5px,#021c5c 486.5px,#021c5c 511.5px)"></i>
<i style="background:linear-gradient(#021c5c 0.5px,#021c5c 3.5px,#537600 4.5px,#676f00 17.5px,#776a00 45.5px,#965f00 81.5px,#be2300 165.5px,#d20000 231.5px,#d30300 239.5px,#e23800 372.5px,#eb7900 395.5px,#f6bb00 423.5px,#f4aa00 431.5px,#ec7c00 441.5px,#e23600 450.5px,#d20100 456.5px,#c11e00 458.5px,#975d00 461.5px,#5b7400 463.5px,#527700 464.5px,#5d7300 473.5px,#926000 484.5px,#00934c 485.5px,#021c5c 486.5px,#021c5c 511.5px)"></i>
<i style="background:linear-gradient(#021c5c 0.5px,#021c5c 3.5px,#746b00 4.5px,#896300 17.5px,#9c5700 61.5px,#be2300 144.5px,#d20000 218.5px,#e23b00 371.5px,#eb7800 392.5px,#f7c500 423.5px,#f5b200 431.5px,#ed8200 441.5px,#e96700 445.5px,#e13500 451.5px,#d10100 457.5px,#c11e00 459.5px,#a44b00 461.5px,#a34b00 484.5px,#00934c 485.5px,#021c5c 486.5px,#021c5c 511.5px)"></i>
<i style="background:linear-gradient(#021c5c 0.5px,#021c5c 3.5px,#029317 4.5px,#039104 90.5px,#228702 132.5px,#477a00 173.5px,#916100 216.5px,#be2300 268.5px,#d20000 314.5px,#d81500 355.5px,#eb7800 392.5px,#f7bf00 423.5px,#f4ae00 431.5px,#ec8000 441.5px,#e86500 445.5px,#e13400 451.5px,#d10200 457.5px,#c11e00 459.5px,#a34b00 461.5px,#a34b00 484.5px,#00934c 485.5px,#021c5c 486.5px,#021c5c 511.5px)"></i>
<i style="background:linear-gradient(#021c5c 0.5px,#021c5c 3.5px,#00952c 4.5px,#039104 206.5px,#348101 254.5px,#477a00 270.5px,#597400 279.5px,#5d7300 280.5px,#975d00 287.5px,#a74500 292.5px,#af3900 306.5px,#cd0900 341.5px,#d20100 344.5px,#e13300 365.5px,#eb7700 392.5px,#f6b900 423.5px,#f3a900 430.5px,#ec7e00 439.5px,#e55000 445.5px,#d40500 453.5px,#ce0800 454.5px,#c51700 455.5px,#b92a00 456.5px,#a74600 457.5px,#995a00 458.5px,#3f7d01 461.5px,#2f8201 462.5px,#378001 473.5px,#477a00 478.5px,#637100 484.5px,#00934c 485.5px,#021c5c 486.5px,#021c5c 511.5px)"></i>
<i style="background:linear-gradient(#021c5c 0.5px,#021c5c 3.5px,#00962f 4.5px,#02920f 216.5px,#039104 259.5px,#0e8d03 273.5px,#497a00 283.5px,#975e00 292.5px,#a74500 297.5px,#ae3b00 309.5px,#c51700 334.5px,#d20100 342.5px,#e13100 364.5px,#eb7800 395.5px,#f4ad00 423.5px,#f19e00 429.5px,#ec7d00 435.5px,#e75900 439.5px,#e02e00 443.5px,#d10200 447.5px,#b72e00 449.5px,#a24d00 450.5px,#896400 451.5px,#5e7200 452.5px,#3b7e01 453.5px,#308201 454.5px,#378001 472.5px,#487a00 478.5px,#657000 484.5px,#00934c 485.5px,#021c5c 486.5px,#021c5c 511.5px)"></i>
<i style="background:linear-gradient(#021c5c 0.5px,#021c5c 3.5px,#00962f 4.5px,#01941e 97.5px,#029211 217.5px,#039104 277.5px,#457b00 288.5px,#965f00 297.5px,#a74500 302.5px,#ad3c00 313.5px,#bf2100 330.5px,#d20000 341.5px,#e13100 366.5px,#eb7800 401.5px,#f19c00 423.5px,#f09200 428.5px,#eb7700 434.5px,#e54d00 439.5px,#e02e00 442.5px,#d10100 446.5px,#b82c00 448.5px,#a24c00 449.5px,#896300 450.5px,#5d7300 451.5px,#3a7f01 452.5px,#308201 453.5px,#378001 472.5px,#487a00 478.5px,#657000 484.5px,#00934c 485.5px,#021c5c 486.5px,#021c5c 511.5px)"></i>
<i style="background:linear-gradient(#021c5c 0.5px,#021c5c 3.5px,#00962f 4.5px,#029318 150.5px,#039104 206.5px,#2a8402 246.5px,#3d7e01 277.5px,#487a00 279.5px,#965f00 288.5px,#a74600 293.5px,#b03800 308.5px,#cb0d00 339.5px,#d20100 344.5px,#e13300 372.5px,#eb7800 411.5px,#e80 423.5px,#ec7e00 429.5px,#e96700 434.5px,#e34100 439.5px,#d30300 445.5px,#cb0d00 446.5px,#c01f00 447.5px,#995a00 449.5px,#457b00 451.5px,#2d8302 452.5px,#308201 472.5px,#477a00 480.5px,#5a7400 484.5px,#00934c 485.5px,#021c5c 486.5px,#021c5c 511.5px)"></i>
<i style="background:linear-gradient(#021c5c 0.5px,#021c5c 3.5px,#00962f 4.5px,#029319 149.5px,#039104 175.5px,#497a00 209.5px,#965e00 235.5px,#a34b00 247.5px,#a94200 281.5px,#b82c00 327.5px,#c31a00 339.5px,#d20000 348.5px,#e13200 377.5px,#ec7b00 423.5px,#eb7500 428.5px,#e75d00 434.5px,#e23a00 439.5px,#d20100 445.5px,#bf2200 447.5px,#985c00 449.5px,#437c00 451.5px,#2d8302 452.5px,#2d8302 473.5px,#527700 484.5px,#00934c 485.5px,#021c5c 486.5px,#021c5c 511.5px)"></i>
<i style="background:linear-gradient(#021c5c 0.5px,#021c5c 3.5px,#00962f 4.5px,#029318 150.5px,#039104 225.5px,#248602 275.5px,#3f7d01 304.5px,#4c7800 306.5px,#926000 313.5px,#a74500 318.5px,#ac3e00 326.5px,#b72d00 336.5px,#d20000 352.5px,#e13200 380.5px,#eb7900 423.5px,#ea7000 429.5px,#e75b00 434.5px,#e23900 439.5px,#d30200 445.5px,#c01f00 447.5px,#9b5800 449.5px,#756b00 450.5px,#487a00 451.5px,#2d8302 452.5px,#2e8302 473.5px,#537600 484.5px,#00934c 485.5px,#021c5c 486.5px,#021c5c 511.5px)"></i>
<i style="background:linear-gradient(#021c5c 0.5px,#021c5c 3.5px,#00962f 4.5px,#049104 291.5px,#0c8e03 304.5px,#4b7900 313.5px,#936000 320.5px,#a54900 324.5px,#b43200 339.5px,#be2300 342.5px,#d20100 353.5px,#e13200 381.5px,#eb7900 423.5px,#ea7100 429.5px,#e75c00 434.5px,#e23a00 439.5px,#d30300 445.5px,#cb0c00 446.5px,#c21d00 447.5px,#9d5400 449.5px,#7c6800 450.5px,#507700 451.5px,#318201 452.5px,#2d8302 453.5px,#2f8201 472.5px,#467b00 480.5px,#587400 484.5px,#00934c 485.5px,#021c5c 486.5px,#021c5c 511.5px)"></i>
<i style="background:linear-gradient(#021c5c 0.5px,#021c5c 3.5px,#00962f 4.5px,#039104 296.5px,#088f04 308.5px,#467b00 317.5px,#985c00 325.5px,#a74500 329.5px,#af3900 339.5px,#bf2200 343.5px,#d20000 354.5px,#e13200 382.5px,#eb7800 423.5px,#ea6f00 429.5px,#e75b00 434.5px,#e23900 439.5px,#d30300 445.5px,#cb0c00 446.5px,#c11d00 447.5px,#9d5400 449.5px,#7b6800 450.5px,#4f7800 451.5px,#308201 452.5px,#2d8302 453.5px,#2d8302 473.5px,#4f7700 484.5px,#00934c 485.5px,#021c5c 486.5px,#021c5c 511.5px)"></i>
<i style="background:linear-gradient(#021c5c 0.5px,#021c5c 3.5px,#00962f 4.5px,#039104 296.5px,#0b8e04 314.5px,#4a7900 323.5px,#975e00 330.5px,#a74500 334.5px,#ac3e00 341.5px,#bd2400 345.5px,#d10100 356.5px,#e13200 384.5px,#ea7300 423.5px,#e96b00 429.5px,#e65700 434.5px,#e23600 439.5px,#d20100 445.5px,#bf2200 447.5px,#995b00 449.5px,#447b00 451.5px,#2d8302 452.5px,#2d8302 473.5px,#527700 484.5px,#00934c 485.5px,#021c5c 486.5px,#021c5c 511.5px)"></i>
<i style="background:linear-gradient(#021c5c 0.5px,#021c5c 3.5px,#00962f 4.5px,#039104 296.5px,#0f8d03 323.5px,#457b00 330.5px,#955f00 337.5px,#a74500 341.5px,#ab3f00 346.5px,#be2300 350.5px,#d20100 361.5px,#e13100 386.5px,#eb7500 423.5px,#ea6e00 428.5px,#e75c00 433.5px,#e13500 439.5px,#d40700 444.5px,#cf0500 445.5px,#b92a00 447.5px,#a54900 448.5px,#8e6200 449.5px,#607200 450.5px,#3b7e01 451.5px,#358001 452.5px,#358001 462.5px,#3c7e01 472.5px,#477a00 476.5px,#6d6d00 484.5px,#00934c 485.5px,#021c5c 486.5px,#021c5c 511.5px)"></i>
<i style="background:linear-gradient(#021c5c 0.5px,#021c5c 3.5px,#00962f 4.5px,#039104 296.5px,#148b03 332.5px,#447b00 338.5px,#975d00 345.5px,#a54800 348.5px,#aa4100 352.5px,#be2300 356.5px,#d10100 365.5px,#e13100 388.5px,#eb7900 423.5px,#ea7200 428.5px,#e75f00 433.5px,#e33e00 438.5px,#d40700 444.5px,#ce0700 445.5px,#c41800 446.5px,#b53000 447.5px,#a14f00 448.5px,#846500 449.5px,#567500 450.5px,#4b7900 451.5px,#4b7900 462.5px,#567500 472.5px,#8e6200 484.5px,#00934c 485.5px,#021c5c 486.5px,#021c5c 511.5px)"></i>
<i style="background:linear-gradient(#021c5c 0.5px,#021c5c 3.5px,#00962f 4.5px,#039104 296.5px,#178a03 339.5px,#1a8903 340.5px,#467b00 345.5px,#946000 351.5px,#9a5900 352.5px,#a74500 355.5px,#a94300 357.5px,#be2200 361.5px,#d20100 370.5px,#e13200 391.5px,#eb7800 423.5px,#ea7100 428.5px,#e75e00 433.5px,#e33d00 438.5px,#d40600 444.5px,#cd0800 445.5px,#c31a00 446.5px,#b43300 447.5px,#9f5100 448.5px,#806700 449.5px,#5b7300 450.5px,#5b7300 461.5px,#667000 472.5px,#946000 482.5px,#995a00 484.5px,#00934c 485.5px,#021c5c 486.5px,#021c5c 511.5px)"></i>
<i style="background:linear-gradient(#021c5c 0.5px,#021c5c 3.5px,#00962f 4.5px,#039104 296.5px,#198a03 344.5px,#1a8903 345.5px,#477a00 350.5px,#975d00 356.5px,#a74500 359.5px,#aa4200 361.5px,#bf2100 365.5px,#d20100 373.5px,#e13200 395.5px,#ea6e00 423.5px,#e96800 428.5px,#e65600 433.5px,#e23700 438.5px,#d30300 444.5px,#cc0b00 445.5px,#c21b00 446.5px,#a05000 448.5px,#806600 449.5px,#527600 450.5px,#3a7f01 451.5px,#3b7e01 462.5px,#417c00 472.5px,#4a7900 475.5px,#756a00 484.5px,#00934c 485.5px,#021c5c 486.5px,#021c5c 511.5px)"></i>
<i style="background:linear-gradient(#021c5c 0.5px,#021c5c 3.5px,#00962f 4.5px,#039104 296.5px,#1b8903 347.5px,#1e8802 348.5px,#437c00 352.5px,#965f00 358.5px,#a64600 361.5px,#ab3f00 363.5px,#bd2500 366.5px,#d20000 375.5px,#e13100 397.5px,#e86600 423.5px,#e86000 428.5px,#e54f00 433.5px,#df2b00 439.5px,#d20200 444.5px,#c21c00 446.5px,#a14f00 448.5px,#836500 449.5px,#557500 450.5px,#348101 451.5px,#2d8302 452.5px,#2d8302 474.5px,#4b7900 484.5px,#00934c 485.5px,#021c5c 486.5px,#021c5c 511.5px)"></i>
<i style="background:linear-gradient(#021c5c 0.5px,#021c5c 3.5px,#00962f 4.5px,#039104 296.5px,#1b8903 347.5px,#467b00 352.5px,#985d00 358.5px,#a74500 361.5px,#a84400 362.5px,#bf2200 366.5px,#d10100 374.5px,#e13100 396.5px,#e96900 423.5px,#e86300 428.5px,#e65200 433.5px,#e02d00 439.5px,#d30300 444.5px,#cc0b00 445.5px,#c31b00 446.5px,#b53100 447.5px,#a24e00 448.5px,#866500 449.5px,#587500 450.5px,#358001 451.5px,#2d8302 452.5px,#2d8302 475.5px,#497a00 484.5px,#00934c 485.5px,#021c5c 486.5px,#021c5c 511.5px)"></i>
<i style="background:linear-gradient(#021c5c 0.5px,#021c5c 3.5px,#00962f 4.5px,#039104 296.5px,#1b8903 348.5px,#497a00 353.5px,#916100 358.5px,#995a00 359.5px,#be2300 366.5px,#d10200 374.5px,#e13100 395.5px,#ea6f00 423.5px,#e96900 428.5px,#e65700 433.5px,#e23800 438.5px,#d30400 444.5px,#cd0a00 445.5px,#c31a00 446.5px,#b53100 447.5px,#a14e00 448.5px,#846500 449.5px,#567500 450.5px,#348101 451.5px,#2d8302 452.5px,#2d8302 473.5px,#4f7800 484.5px,#00934c 485.5px,#021c5c 486.5px,#021c5c 511.5px)"></i>
<i style="background:linear-gradient(#021c5c 0.5px,#021c5c 3.5px,#00962f 4.5px,#039104 296.5px,#1c8903 351.5px,#4f7800 356.5px,#975e00 361.5px,#bd2400 368.5px,#d20100 376.5px,#e13100 396.5px,#ea6e00 423.5px,#e96800 428.5px,#e65600 433.5px,#e23700 438.5px,#d30300 444.5px,#cc0b00 445.5px,#c21b00 446.5px,#a05100 448.5px,#806700 449.5px,#527600 450.5px,#318201 451.5px,#2d8302 452.5px,#2d8302 476.5px,#457b00 484.5px,#00934c 485.5px,#021c5c 486.5px,#021c5c 511.5px)"></i>
<i style="background:linear-gradient(#021c5c 0.5px,#021c5c 3.5px,#00962f 4.5px,#039104 296.5px,#1d8802 353.5px,#208702 354.5px,#477a00 358.5px,#926000 363.5px,#9a5800 364.5px,#bd2400 370.5px,#d20000 378.5px,#e13300 398.5px,#ea6e00 423.5px,#e96700 428.5px,#e65500 433.5px,#e23600 438.5px,#d30200 444.5px,#c11e00 446.5px,#9d5500 448.5px,#796900 449.5px,#4b7900 450.5px,#2d8302 451.5px,#2d8302 474.5px,#4b7900 484.5px,#00934c 485.5px,#021c5c 486.5px,#021c5c 511.5px)"></i>
<i style="background:linear-gradient(#021c5c 0.5px,#021c5c 3.5px,#00962f 4.5px,#039104 296.5px,#1e8802 355.5px,#437c00 359.5px,#8e6200 364.5px,#995b00 365.5px,#a54900 367.5px,#a74500 368.5px,#bf2000 372.5px,#d20000 379.5px,#e13200 398.5px,#ea7000 423.5px,#e96900 428.5px,#e65600 433.5px,#e23600 438.5px,#d20100 444.5px,#be2200 446.5px,#975d00 448.5px,#407d00 450.5px,#318201 451.5px,#318201 462.5px,#387f01 472.5px,#497a00 478.5px,#667000 484.5px,#00934c 485.5px,#021c5c 486.5px,#021c5c 511.5px)"></i>
<i style="background:linear-gradient(#021c5c 0.5px,#021c5c 3.5px,#00962f 4.5px,#039104 296.5px,#1e8802 355.5px,#228702 356.5px,#4c7900 360.5px,#975d00 365.5px,#a34b00 367.5px,#aa4100 369.5px,#be2300 372.5px,#d10200 379.5px,#e13100 397.5px,#ea7400 423.5px,#e96d00 428.5px,#e75900 433.5px,#e02f00 439.5px,#d50900 443.5px,#d00400 444.5px,#b92a00 446.5px,#a44a00 447.5px,#8a6300 448.5px,#5b7300 449.5px,#368001 450.5px,#358001 461.5px,#3c7e01 472.5px,#477a00 476.5px,#6d6d00 484.5px,#00934c 485.5px,#021c5c 486.5px,#021c5c 511.5px)"></i>
<i style="background:linear-gradient(#021c5c 0.5px,#021c5c 3.5px,#00962f 4.5px,#039104 296.5px,#1e8802 355.5px,#447b00 359.5px,#8f6100 364.5px,#995a00 365.5px,#a54900 367.5px,#a84400 369.5px,#bd2500 372.5px,#d10200 379.5px,#e13300 397.5px,#eb7900 423.5px,#ea7200 428.5px,#e75d00 433.5px,#e03000 439.5px,#d40800 443.5px,#cf0500 444.5px,#c51700 445.5px,#b53000 446.5px,#a05000 447.5px,#806700 448.5px,#507700 449.5px,#3c7e01 450.5px,#3c7e01 461.5px,#437c00 472.5px,#487a00 474.5px,#786900 484.5px,#00934c 485.5px,#021c5c 486.5px,#021c5c 511.5px)"></i>
<i style="background:linear-gradient(#021c5c 0.5px,#021c5c 3.5px,#00962f 4.5px,#039104 296.5px,#1d8802 353.5px,#208702 354.5px,#487a00 358.5px,#936000 363.5px,#9b5800 364.5px,#a64600 366.5px,#ac3e00 369.5px,#bf2200 372.5px,#d20000 379.5px,#e13100 396.5px,#eb7a00 423.5px,#ea7300 428.5px,#e75d00 433.5px,#e23900 438.5px,#d40700 443.5px,#ce0700 444.5px,#c41900 445.5px,#9e5300 447.5px,#7a6900 448.5px,#4a7900 449.5px,#358001 450.5px,#358001 461.5px,#3c7e01 472.5px,#4b7900 477.5px,#6c6d00 484.5px,#00934c 485.5px,#021c5c 486.5px,#021c5c 511.5px)"></i>
<i style="background:linear-gradient(#021c5c 0.5px,#021c5c 3.5px,#00962f 4.5px,#039104 296.5px,#1c8903 351.5px,#208702 352.5px,#477a00 356.5px,#906100 361.5px,#995a00 362.5px,#a54900 364.5px,#ab4000 368.5px,#c01f00 372.5px,#d20100 379.5px,#e13100 397.5px,#ea7200 423.5px,#e96b00 428.5px,#e65600 433.5px,#e13300 438.5px,#d30400 443.5px,#cb0c00 444.5px,#c11e00 445.5px,#9b5800 447.5px,#437c00 449.5px,#308201 450.5px,#308201 461.5px,#378001 472.5px,#487a00 478.5px,#647000 484.5px,#00934c 485.5px,#021c5c 486.5px,#021c5c 511.5px)"></i>
<i style="background:linear-gradient(#021c5c 0.5px,#021c5c 3.5px,#00962f 4.5px,#039104 296.5px,#1c8903 351.5px,#4b7900 356.5px,#946000 361.5px,#9b5700 362.5px,#a64700 364.5px,#ae3a00 370.5px,#bf2100 373.5px,#d10200 380.5px,#d20100 381.5px,#e13200 401.5px,#e86300 423.5px,#e75d00 428.5px,#e54e00 432.5px,#e03000 437.5px,#d40600 442.5px,#cf0500 443.5px,#bb2800 445.5px,#8f6200 447.5px,#5d7300 448.5px,#3a7f01 449.5px,#3a7f01 461.5px,#417c00 472.5px,#497a00 475.5px,#746b00 484.5px,#00934c 485.5px,#021c5c 486.5px,#021c5c 511.5px)"></i>
<i style="background:linear-gradient(#021c5c 0.5px,#021c5c 3.5px,#00962f 4.5px,#039104 296.5px,#1d8802 352.5px,#1e8802 353.5px,#457b00 357.5px,#8f6100 362.5px,#a44900 365.5px,#b72e00 375.5px,#c31a00 378.5px,#d20100 384.5px,#e13300 403.5px,#e86200 423.5px,#e75b00 428.5px,#e54c00 432.5px,#e02d00 437.5px,#d20200 442.5px,#c11e00 444.5px,#9c5600 446.5px,#437c00 448.5px,#2e8302 449.5px,#2e8302 461.5px,#358001 472.5px,#4a7900 479.5px,#627100 484.5px,#00934c 485.5px,#021c5c 486.5px,#021c5c 511.5px)"></i>
<i style="background:linear-gradient(#021c5c 0.5px,#021c5c 3.5px,#00962f 4.5px,#039104 296.5px,#1c8903 349.5px,#4c7900 354.5px,#946000 359.5px,#a64800 362.5px,#b03900 369.5px,#c21c00 378.5px,#d10200 383.5px,#e13300 400.5px,#ea7400 423.5px,#e96c00 428.5px,#e75a00 432.5px,#e13500 437.5px,#d20100 442.5px,#bd2500 444.5px,#a64800 445.5px,#8a6300 446.5px,#567500 447.5px,#308201 448.5px,#2d8302 449.5px,#2d8302 474.5px,#4d7800 484.5px,#00934c 485.5px,#021c5c 486.5px,#021c5c 511.5px)"></i>
<i style="background:linear-gradient(#021c5c 0.5px,#021c5c 3.5px,#00962f 4.5px,#039104 296.5px,#158b03 335.5px,#188a03 336.5px,#4b7900 342.5px,#975e00 348.5px,#a54800 351.5px,#b13700 360.5px,#c81100 375.5px,#d20100 379.5px,#e13200 395.5px,#eb7700 418.5px,#ed8200 423.5px,#eb7900 428.5px,#e86500 432.5px,#e23b00 437.5px,#d20000 442.5px,#c71400 443.5px,#b72e00 444.5px,#9f5200 445.5px,#786900 446.5px,#467b00 447.5px,#328101 448.5px,#328101 461.5px,#397f01 472.5px,#477a00 477.5px,#686f00 484.5px,#00934c 485.5px,#021c5c 486.5px,#021c5c 511.5px)"></i>
<i style="background:linear-gradient(#021c5c 0.5px,#021c5c 3.5px,#00962f 4.5px,#039104 296.5px,#0d8e03 317.5px,#457b00 325.5px,#926000 332.5px,#a64800 336.5px,#ae3a00 345.5px,#d20000 373.5px,#e13300 392.5px,#eb7700 418.5px,#ed8100 423.5px,#eb7800 428.5px,#e86400 432.5px,#e34300 436.5px,#d10200 442.5px,#c51700 443.5px,#b33300 444.5px,#9c5600 445.5px,#716c00 446.5px,#4a7900 447.5px,#4a7900 461.5px,#557600 472.5px,#8d6200 484.5px,#00934c 485.5px,#021c5c 486.5px,#021c5c 511.5px)"></i>
<i style="background:linear-gradient(#021c5c 0.5px,#021c5c 3.5px,#00962f 4.5px,#01941e 97.5px,#029211 217.5px,#039104 272.5px,#178a03 300.5px,#457b00 307.5px,#946000 315.5px,#a74500 320.5px,#ae3a00 330.5px,#d20000 363.5px,#d91600 379.5px,#e13200 391.5px,#eb7a00 423.5px,#eb7500 427.5px,#e75e00 432.5px,#e23600 437.5px,#d50a00 441.5px,#d00400 442.5px,#c41800 443.5px,#9b5700 445.5px,#6e6d00 446.5px,#567500 447.5px,#567500 461.5px,#617100 472.5px,#975d00 484.5px,#00934c 485.5px,#021c5c 486.5px,#021c5c 511.5px)"></i>
<i style="background:linear-gradient(#021c5c 0.5px,#021c5c 3.5px,#00962f 4.5px,#01941e 97.5px,#02920e 234.5px,#039104 244.5px,#477a00 269.5px,#975d00 290.5px,#a74500 302.5px,#ad3d00 326.5px,#d20000 362.5px,#d81300 376.5px,#e13400 390.5px,#ec7c00 423.5px,#eb7700 427.5px,#e86000 432.5px,#e44900 435.5px,#df2d00 438.5px,#d50a00 441.5px,#d00400 442.5px,#c41800 443.5px,#9b5700 445.5px,#6f6c00 446.5px,#5e7200 447.5px,#5e7200 461.5px,#696f00 472.5px,#936000 481.5px,#9a5800 484.5px,#00934c 485.5px,#021c5c 486.5px,#021c5c 511.5px)"></i>
<i style="background:linear-gradient(#021c5c 0.5px,#021c5c 3.5px,#00962f 4.5px,#01941e 97.5px,#029211 217.5px,#039104 272.5px,#1c8903 310.5px,#1f8802 311.5px,#497a00 317.5px,#936000 324.5px,#a54800 328.5px,#b03800 339.5px,#d20100 367.5px,#e13200 389.5px,#eb7b00 423.5px,#eb7500 427.5px,#e75f00 432.5px,#e34000 436.5px,#d10200 442.5px,#c51600 443.5px,#b53100 444.5px,#9e5400 445.5px,#756a00 446.5px,#5f7200 447.5px,#5f7200 461.5px,#6a6e00 472.5px,#936000 481.5px,#9b5800 484.5px,#00934c 485.5px,#021c5c 486.5px,#021c5c 511.5px)"></i>
<i style="background:linear-gradient(#021c5c 0.5px,#021c5c 3.5px,#00962f 4.5px,#039104 296.5px,#0e8d03 319.5px,#477a00 327.5px,#955f00 334.5px,#a74500 338.5px,#ae3b00 346.5px,#c31b00 361.5px,#d20000 369.5px,#e13200 393.5px,#e96b00 423.5px,#e86300 428.5px,#e65200 432.5px,#e02f00 437.5px,#d50900 441.5px,#d00300 442.5px,#b92b00 444.5px,#a34c00 445.5px,#826600 446.5px,#4f7800 447.5px,#477a00 448.5px,#477a00 462.5px,#517700 472.5px,#896400 484.5px,#00934c 485.5px,#021c5c 486.5px,#021c5c 511.5px)"></i>
<i style="background:linear-gradient(#021c5c 0.5px,#021c5c 3.5px,#00962f 4.5px,#039104 296.5px,#118c03 326.5px,#128c03 327.5px,#4a7900 334.5px,#926000 340.5px,#a74600 344.5px,#ac3e00 350.5px,#b82c00 358.5px,#c31a00 362.5px,#d20000 370.5px,#e13200 396.5px,#e86100 423.5px,#e75a00 428.5px,#e44a00 432.5px,#e13200 436.5px,#d10300 442.5px,#be2400 444.5px,#936000 446.5px,#607200 447.5px,#3e7d01 448.5px,#3f7d00 474.5px,#497a00 477.5px,#6a6e00 484.5px,#00934c 485.5px,#021c5c 486.5px,#021c5c 511.5px)"></i>
<i style="background:linear-gradient(#021c5c 0.5px,#021c5c 3.5px,#00962f 4.5px,#039104 296.5px,#128c03 328.5px,#158b03 329.5px,#447b00 335.5px,#965e00 342.5px,#a74500 346.5px,#af3900 354.5px,#bf2200 358.5px,#d20100 368.5px,#e13200 396.5px,#e75f00 423.5px,#e65800 428.5px,#e44900 432.5px,#df2b00 437.5px,#d20000 442.5px,#c02000 444.5px,#a05000 446.5px,#a05000 484.5px,#00934c 485.5px,#021c5c 486.5px,#021c5c 511.5px)"></i>
<i style="background:linear-gradient(#021c5c 0.5px,#021c5c 3.5px,#00962f 4.5px,#039104 296.5px,#128c03 329.5px,#148b03 330.5px,#447b00 336.5px,#975e00 343.5px,#a74500 347.5px,#ab3f00 352.5px,#bd2400 356.5px,#d20000 367.5px,#e13200 396.5px,#e75d00 423.5px,#e65600 428.5px,#e44800 432.5px,#df2b00 437.5px,#d30300 442.5px,#cc0a00 443.5px,#c31a00 444.5px,#b62f00 445.5px,#a34c00 446.5px,#846500 447.5px,#537600 448.5px,#2f8201 449.5px,#2f8201 478.5px,#3f7d00 484.5px,#00934c 485.5px,#021c5c 486.5px,#021c5c 511.5px)"></i>
<i style="background:linear-gradient(#021c5c 0.5px,#021c5c 3.5px,#00962f 4.5px,#039104 296.5px,#158b03 333.5px,#467b00 339.5px,#906100 345.5px,#985b00 346.5px,#a74600 349.5px,#ac3e00 354.5px,#bf2200 358.5px,#d20100 368.5px,#e13200 396.5px,#e75e00 423.5px,#e65800 428.5px,#e44a00 432.5px,#e02e00 437.5px,#d40700 442.5px,#d00300 443.5px,#bf2200 445.5px,#9a5900 447.5px,#427c00 449.5px,#2d8302 450.5px,#2f8201 472.5px,#467b00 480.5px,#587400 484.5px,#00934c 485.5px,#021c5c 486.5px,#021c5c 511.5px)"></i>
<i style="background:linear-gradient(#021c5c 0.5px,#021c5c 3.5px,#00962f 4.5px,#039104 293.5px,#0e8d03 315.5px,#198a03 334.5px,#4a7900 340.5px,#965f00 346.5px,#a74500 350.5px,#ad3c00 356.5px,#bf2200 360.5px,#d10100 369.5px,#e13100 394.5px,#e86600 423.5px,#e86000 428.5px,#e54d00 433.5px,#e02e00 438.5px,#d30300 443.5px,#cc0a00 444.5px,#c31a00 445.5px,#b53000 446.5px,#a14e00 447.5px,#836600 448.5px,#537600 449.5px,#348101 450.5px,#348101 461.5px,#3b7e01 472.5px,#4a7900 477.5px,#6c6e00 484.5px,#00934c 485.5px,#021c5c 486.5px,#021c5c 511.5px)"></i>
<i style="background:linear-gradient(#021c5c 0.5px,#021c5c 3.5px,#00962f 4.5px,#039104 286.5px,#248602 333.5px,#4c7900 338.5px,#965f00 344.5px,#a74500 348.5px,#b13600 357.5px,#be2300 360.5px,#d20100 369.5px,#e13200 392.5px,#ea7000 423.5px,#e96a00 428.5px,#e65700 433.5px,#e23600 438.5px,#d20000 444.5px,#bf2200 446.5px,#985c00 448.5px,#417c00 450.5px,#2e8302 451.5px,#2e8302 462.5px,#358001 472.5px,#497a00 479.5px,#617100 484.5px,#00934c 485.5px,#021c5c 486.5px,#021c5c 511.5px)"></i>
<i style="background:linear-gradient(#021c5c 0.5px,#021c5c 3.5px,#00962f 4.5px,#02920f 216.5px,#039104 265.5px,#278502 306.5px,#487a00 334.5px,#906100 340.5px,#a64700 344.5px,#ae3b00 352.5px,#ba2900 359.5px,#d20000 369.5px,#e13300 392.5px,#ea7300 423.5px,#e96d00 428.5px,#e75b00 433.5px,#e13500 439.5px,#d40800 444.5px,#d00300 445.5px,#bc2700 447.5px,#946000 449.5px,#3f7d01 451.5px,#368001 452.5px,#368001 462.5px,#3d7e01 472.5px,#487a00 476.5px,#6e6d00 484.5px,#00934c 485.5px,#021c5c 486.5px,#021c5c 511.5px)"></i>
<i style="background:linear-gradient(#021c5c 0.5px,#021c5c 3.5px,#00952d 4.5px,#029313 166.5px,#039104 227.5px,#218702 257.5px,#487a00 289.5px,#946000 323.5px,#b23500 349.5px,#c21c00 360.5px,#d20000 367.5px,#e13300 388.5px,#ed8200 423.5px,#eb7a00 429.5px,#e86500 434.5px,#e23b00 440.5px,#d30200 446.5px,#ca0d00 447.5px,#c01f00 448.5px,#9c5600 450.5px,#796900 451.5px,#4e7800 452.5px,#328101 453.5px,#397f01 472.5px,#477a00 477.5px,#686f00 484.5px,#00934c 485.5px,#021c5c 486.5px,#021c5c 511.5px)"></i>
<i style="background:linear-gradient(#021c5c 0.5px,#021c5c 3.5px,#019420 4.5px,#039104 156.5px,#1b8903 185.5px,#467b00 223.5px,#7f6700 249.5px,#965f00 259.5px,#bd2400 298.5px,#d20000 336.5px,#d91700 370.5px,#eb7800 406.5px,#f19d00 423.5px,#f09300 429.5px,#eb7500 436.5px,#e44700 442.5px,#d30200 449.5px,#c01f00 451.5px,#9d5400 453.5px,#826600 454.5px,#5b7300 455.5px,#3c7e01 456.5px,#2d8302 457.5px,#2f8201 472.5px,#497a00 481.5px,#577500 484.5px,#00934c 485.5px,#021c5c 486.5px,#021c5c 511.5px)"></i>
<i style="background:linear-gradient(#021c5c 0.5px,#021c5c 3.5px,#238602 4.5px,#487a00 56.5px,#6a6e00 86.5px,#965f00 117.5px,#be2300 195.5px,#c11f00 206.5px,#bf2200 214.5px,#d20000 257.5px,#e44a00 383.5px,#eb7900 401.5px,#f4aa00 423.5px,#f19a00 431.5px,#eb7700 439.5px,#e44a00 445.5px,#d20100 453.5px,#c11d00 455.5px,#a24d00 457.5px,#936000 458.5px,#4f7800 460.5px,#378001 461.5px,#3f7d01 473.5px,#487a00 476.5px,#6e6d00 484.5px,#00934c 485.5px,#021c5c 486.5px,#021c5c 511.5px)"></i>
<i style="background:linear-gradient(#021c5c 0.5px,#021c5c 3.5px,#a54900 4.5px,#be2300 50.5px,#c81200 86.5px,#d20000 111.5px,#de2900 206.5px,#da1b00 229.5px,#e96c00 393.5px,#f4ab00 423.5px,#f19e00 431.5px,#ec7b00 440.5px,#e54e00 447.5px,#d30400 456.5px,#ce0700 457.5px,#be2300 459.5px,#a05000 461.5px,#906100 462.5px,#537600 464.5px,#477a00 465.5px,#517700 473.5px,#866500 484.5px,#00934c 485.5px,#021c5c 486.5px,#021c5c 511.5px)"></i>
<i style="background:linear-gradient(#021c5c 0.5px,#021c5c 3.5px,#a54900 4.5px,#be2300 50.5px,#c81200 86.5px,#d20000 111.5px,#de2900 206.5px,#da1c00 227.5px,#e96a00 389.5px,#f5b300 423.5px,#f2a200 432.5px,#eb7900 442.5px,#e13100 452.5px,#d10100 458.5px,#c21c00 460.5px,#c21d00 484.5px,#00934c 485.5px,#021c5c 486.5px,#021c5c 511.5px)"></i>
<i style="background:linear-gradient(#021c5c 0.5px,#021c5c 3.5px,#238602 4.5px,#487a00 56.5px,#6a6e00 86.5px,#965f00 117.5px,#d20000 241.5px,#e54b00 373.5px,#eb7900 391.5px,#f6bc00 423.5px,#f4ac00 431.5px,#ed8100 441.5px,#e55100 448.5px,#d40500 457.5px,#cf0600 458.5px,#bf2200 460.5px,#a14f00 462.5px,#946000 463.5px,#766a00 464.5px,#6c6e00 465.5px,#6c6e00 479.5px,#806700 484.5px,#00934c 485.5px,#021c5c 486.5px,#021c5c 511.5px)"></i>
<i style="background:linear-gradient(#021c5c 0.5px,#021c5c 3.5px,#019420 4.5px,#039104 130.5px,#228702 164.5px,#477a00 198.5px,#7c6800 224.5px,#965f00 235.5px,#be2400 276.5px,#d20000 315.5px,#d91900 353.5px,#eb7900 394.5px,#f5b100 423.5px,#f2a000 431.5px,#eb7700 440.5px,#e03000 449.5px,#d30200 454.5px,#c31b00 456.5px,#985d00 459.5px,#587400 461.5px,#3f7d01 462.5px,#487a00 473.5px,#7c6800 484.5px,#00934c 485.5px,#021c5c 486.5px,#021c5c 511.5px)"></i>
<i style="background:linear-gradient(#021c5c 0.5px,#021c5c 3.5px,#00952d 4.5px,#039104 204.5px,#1d8803 230.5px,#487a00 265.5px,#7d6800 289.5px,#955f00 292.5px,#a64600 297.5px,#ae3b00 309.5px,#c91000 339.5px,#d20100 345.5px,#e13200 370.5px,#eb7800 406.5px,#ef9200 423.5px,#ee8900 429.5px,#eb7600 434.5px,#e54c00 440.5px,#e13200 443.5px,#d10100 448.5px,#bd2400 450.5px,#a94300 451.5px,#985b00 452.5px,#4b7900 454.5px,#328101 455.5px,#338101 462.5px,#3b7e01 473.5px,#477a00 477.5px,#686f00 484.5px,#00934c 485.5px,#021c5c 486.5px,#021c5c 511.5px)"></i>
<i style="background:linear-gradient(#021c5c 0.5px,#021c5c 3.5px,#00962f 4.5px,#029210 197.5px,#039104 247.5px,#2a8402 287.5px,#487a00 292.5px,#926000 300.5px,#a64700 305.5px,#ae3b00 317.5px,#c41800 339.5px,#d20100 347.5px,#e13300 375.5px,#eb7700 413.5px,#ed8400 423.5px,#eb7b00 430.5px,#e86600 435.5px,#e33f00 441.5px,#d20000 448.5px,#c02000 450.5px,#9c5500 452.5px,#7e6700 453.5px,#567500 454.5px,#387f01 455.5px,#358001 461.5px,#3c7e01 472.5px,#477a00 476.5px,#6d6d00 484.5px,#00934c 485.5px,#021c5c 486.5px,#021c5c 511.5px)"></i>
<i style="background:linear-gradient(#021c5c 0.5px,#021c5c 3.5px,#00962f 4.5px,#01941e 97.5px,#029210 216.5px,#039104 274.5px,#0e8d03 289.5px,#467b00 298.5px,#916100 306.5px,#a64700 311.5px,#ae3b00 322.5px,#c01f00 338.5px,#d20100 348.5px,#e13300 375.5px,#eb7800 412.5px,#e80 423.5px,#ec7e00 430.5px,#e96a00 435.5px,#e34200 441.5px,#d30300 448.5px,#cc0b00 449.5px,#c21c00 450.5px,#a14f00 452.5px,#8a6300 453.5px,#3f7d00 455.5px,#378001 456.5px,#407d00 473.5px,#497a00 476.5px,#706c00 484.5px,#00934c 485.5px,#021c5c 486.5px,#021c5c 511.5px)"></i>
<i style="background:linear-gradient(#021c5c 0.5px,#021c5c 3.5px,#00962f 4.5px,#039104 289.5px,#069004 293.5px,#0b8e04 294.5px,#467b00 303.5px,#936000 311.5px,#a74500 316.5px,#ad3d00 325.5px,#ba2900 336.5px,#d20000 349.5px,#e13100 375.5px,#eb7700 412.5px,#ee8700 423.5px,#ec7d00 430.5px,#e96a00 435.5px,#e34300 441.5px,#d40500 448.5px,#ce0800 449.5px,#c51800 450.5px,#b82c00 451.5px,#955f00 453.5px,#477a00 455.5px,#318201 456.5px,#3a7f01 473.5px,#4a7900 478.5px,#676f00 484.5px,#00934c 485.5px,#021c5c 486.5px,#021c5c 511.5px)"></i>
<i style="background:linear-gradient(#021c5c 0.5px,#021c5c 3.5px,#00962f 4.5px,#049104 297.5px,#069004 298.5px,#4a7900 308.5px,#906100 315.5px,#9f5100 318.5px,#a74600 320.5px,#ac3e00 328.5px,#b62e00 337.5px,#c02000 340.5px,#d20100 351.5px,#e13200 378.5px,#ec7f00 423.5px,#eb7900 429.5px,#e86400 435.5px,#e54e00 439.5px,#e13100 443.5px,#d40600 448.5px,#cf0500 449.5px,#bd2500 451.5px,#9a5900 453.5px,#7a6900 454.5px,#537600 455.5px,#368001 456.5px,#2f8201 457.5px,#387f01 473.5px,#477a00 478.5px,#647000 484.5px,#00934c 485.5px,#021c5c 486.5px,#021c5c 511.5px)"></i>
<i style="background:linear-gradient(#021c5c 0.5px,#021c5c 3.5px,#00962f 4.5px,#01941e 96.5px,#059004 301.5px,#079004 302.5px,#457b00 311.5px,#955f00 319.5px,#9a5a00 320.5px,#a74500 324.5px,#b33400 337.5px,#be2300 340.5px,#d20000 352.5px,#e13300 382.5px,#ea7300 423.5px,#e96d00 429.5px,#e75a00 435.5px,#e13400 442.5px,#d40600 448.5px,#cf0500 449.5px,#bf2200 451.5px,#9e5300 453.5px,#846500 454.5px,#5d7300 455.5px,#3d7e01 456.5px,#2d8302 457.5px,#2d8302 473.5px,#527600 484.5px,#00934c 485.5px,#021c5c 486.5px,#021c5c 511.5px)"></i>
<i style="background:linear-gradient(#021c5c 0.5px,#021c5c 3.5px,#00962f 4.5px,#039104 296.5px,#088f04 308.5px,#477a00 317.5px,#985c00 325.5px,#a74500 329.5px,#af3900 339.5px,#be2300 343.5px,#d20000 355.5px,#e13300 386.5px,#e96a00 423.5px,#e86400 429.5px,#e65300 435.5px,#e02e00 442.5px,#d30300 448.5px,#cd0800 449.5px,#be2300 451.5px,#9e5300 453.5px,#836600 454.5px,#5c7300 455.5px,#3c7e01 456.5px,#2d8302 457.5px,#2d8302 477.5px,#407d00 484.5px,#00934c 485.5px,#021c5c 486.5px,#021c5c 511.5px)"></i>
<i style="background:linear-gradient(#021c5c 0.5px,#021c5c 3.5px,#00962f 4.5px,#039104 296.5px,#0d8e03 317.5px,#477a00 325.5px,#955f00 332.5px,#9a5900 333.5px,#a74600 336.5px,#ad3c00 344.5px,#bf2100 349.5px,#d10100 359.5px,#e13200 387.5px,#ea6f00 423.5px,#e96900 429.5px,#e65600 435.5px,#e23600 441.5px,#d30200 448.5px,#cc0b00 449.5px,#b92b00 451.5px,#985c00 453.5px,#4d7800 455.5px,#328101 456.5px,#2d8302 457.5px,#2d8302 478.5px,#3f7d01 484.5px,#00934c 485.5px,#021c5c 486.5px,#021c5c 511.5px)"></i>
<i style="background:linear-gradient(#021c5c 0.5px,#021c5c 3.5px,#00962f 4.5px,#039104 296.5px,#108d03 325.5px,#148b03 326.5px,#4c7900 333.5px,#936000 339.5px,#995a00 340.5px,#a74600 343.5px,#ad3c00 350.5px,#bf2100 354.5px,#d10100 363.5px,#e13300 387.5px,#eb7b00 423.5px,#ea7400 429.5px,#e75f00 435.5px,#e23b00 441.5px,#d20000 448.5px,#c11e00 450.5px,#a05000 452.5px,#876400 453.5px,#5f7200 454.5px,#3d7e01 455.5px,#2d8302 456.5px,#2d8302 474.5px,#4b7900 484.5px,#00934c 485.5px,#021c5c 486.5px,#021c5c 511.5px)"></i>
<i style="background:linear-gradient(#021c5c 0.5px,#021c5c 3.5px,#00962f 4.5px,#039104 296.5px,#148b03 332.5px,#188a03 333.5px,#4a7900 339.5px,#955f00 345.5px,#a74500 349.5px,#ac3f00 354.5px,#be2200 358.5px,#d20100 367.5px,#e13300 388.5px,#ed8200 423.5px,#eb7800 430.5px,#e86400 435.5px,#e33d00 441.5px,#d10200 448.5px,#bf2200 450.5px,#9b5800 452.5px,#7a6900 453.5px,#527600 454.5px,#358001 455.5px,#2d8302 456.5px,#2d8302 475.5px,#497a00 484.5px,#00934c 485.5px,#021c5c 486.5px,#021c5c 511.5px)"></i>
<i style="background:linear-gradient(#021c5c 0.5px,#021c5c 3.5px,#00962f 4.5px,#039104 296.5px,#168b03 337.5px,#188a03 338.5px,#437c00 343.5px,#985c00 350.5px,#a74600 353.5px,#ad3d00 358.5px,#bd2400 361.5px,#d10100 369.5px,#e13100 388.5px,#eb7700 415.5px,#ee8700 423.5px,#ec7d00 430.5px,#e96900 435.5px,#e34100 441.5px,#d20100 448.5px,#c01f00 450.5px,#9d5400 452.5px,#806600 453.5px,#587400 454.5px,#397f01 455.5px,#2d8302 456.5px,#2d8302 479.5px,#3b7e01 484.5px,#00934c 485.5px,#021c5c 486.5px,#021c5c 511.5px)"></i>
<i style="background:linear-gradient(#021c5c 0.5px,#021c5c 3.5px,#00962f 4.5px,#039104 296.5px,#188a03 341.5px,#1c8903 342.5px,#487a00 347.5px,#975d00 353.5px,#a64600 356.5px,#ab4000 360.5px,#c02000 364.5px,#d20000 371.5px,#e13300 389.5px,#eb7800 413.5px,#ef8d00 423.5px,#ed8500 429.5px,#ea7400 434.5px,#e75c00 438.5px,#e23600 443.5px,#d40700 448.5px,#cf0600 449.5px,#ba2a00 451.5px,#a64700 452.5px,#975e00 453.5px,#497a00 455.5px,#308201 456.5px,#2d8302 457.5px,#2e8301 484.5px,#00934c 485.5px,#021c5c 486.5px,#021c5c 511.5px)"></i>
<i style="background:linear-gradient(#021c5c 0.5px,#021c5c 3.5px,#00962f 4.5px,#039104 296.5px,#198a03 343.5px,#1a8903 344.5px,#477a00 349.5px,#975d00 355.5px,#a74600 358.5px,#a94200 361.5px,#bf2100 365.5px,#d20100 372.5px,#e13300 390.5px,#eb7600 414.5px,#ee8a00 423.5px,#ed8300 429.5px,#ea6e00 435.5px,#e34100 442.5px,#d30300 449.5px,#cb0b00 450.5px,#c21b00 451.5px,#b43200 452.5px,#a24d00 453.5px,#8e6200 454.5px,#447b00 456.5px,#2d8302 457.5px,#2d8302 484.5px,#00934c 485.5px,#021c5c 486.5px,#021c5c 511.5px)"></i>
<i style="background:linear-gradient(#021c5c 0.5px,#021c5c 3.5px,#00962f 4.5px,#039104 296.5px,#1a8903 346.5px,#477a00 351.5px,#985c00 357.5px,#a74500 360.5px,#a94300 362.5px,#bf2200 366.5px,#d20000 374.5px,#e13100 393.5px,#eb7900 423.5px,#ea7100 430.5px,#e75c00 436.5px,#e23b00 442.5px,#d30500 449.5px,#ce0600 450.5px,#be2400 452.5px,#9c5500 454.5px,#806600 455.5px,#5b7300 456.5px,#3c7e01 457.5px,#2d8302 458.5px,#2d8302 478.5px,#3f7d00 484.5px,#00934c 485.5px,#021c5c 486.5px,#021c5c 511.5px)"></i>
<i style="background:linear-gradient(#021c5c 0.5px,#021c5c 3.5px,#00962f 4.5px,#039104 296.5px,#1b8903 348.5px,#1d8802 349.5px,#437c00 353.5px,#965f00 359.5px,#a74600 362.5px,#a84300 364.5px,#bf2100 368.5px,#d20100 376.5px,#e13200 398.5px,#e86500 423.5px,#e75e00 430.5px,#e54d00 436.5px,#df2a00 443.5px,#d30200 449.5px,#cd0900 450.5px,#be2200 452.5px,#a14f00 454.5px,#8c6300 455.5px,#447b00 457.5px,#2d8302 458.5px,#308201 472.5px,#477a00 480.5px,#597400 484.5px,#00934c 485.5px,#021c5c 486.5px,#021c5c 511.5px)"></i>
<i style="background:linear-gradient(#021c5c 0.5px,#021c5c 3.5px,#00962f 4.5px,#039104 296.5px,#1c8903 350.5px,#218702 351.5px,#487a00 355.5px,#916100 360.5px,#995a00 361.5px,#a54900 363.5px,#a84400 365.5px,#bf2100 369.5px,#d20000 377.5px,#e13200 399.5px,#e86400 423.5px,#e75d00 430.5px,#e54b00 436.5px,#de2900 443.5px,#d20100 449.5px,#be2300 452.5px,#a05100 454.5px,#896300 455.5px,#427c00 457.5px,#348101 458.5px,#3d7e01 473.5px,#497a00 477.5px,#6b6e00 484.5px,#00934c 485.5px,#021c5c 486.5px,#021c5c 511.5px)"></i>
<i style="background:linear-gradient(#021c5c 0.5px,#021c5c 3.5px,#00962f 4.5px,#039104 296.5px,#1c8903 350.5px,#208702 351.5px,#467b00 355.5px,#8e6200 360.5px,#985b00 361.5px,#a44a00 363.5px,#a94300 365.5px,#c02000 369.5px,#d10100 376.5px,#e13300 396.5px,#ea7300 423.5px,#e96b00 430.5px,#e65700 436.5px,#e23700 442.5px,#d30300 449.5px,#cd0800 450.5px,#bc2600 452.5px,#9c5600 454.5px,#7f6700 455.5px,#5a7400 456.5px,#427c00 457.5px,#497900 472.5px,#816600 484.5px,#00934c 485.5px,#021c5c 486.5px,#021c5c 511.5px)"></i>
<i style="background:linear-gradient(#021c5c 0.5px,#021c5c 3.5px,#00962f 4.5px,#039104 296.5px,#1b8903 348.5px,#497a00 353.5px,#906100 358.5px,#995a00 359.5px,#a44a00 361.5px,#a94200 363.5px,#c02000 367.5px,#d20100 374.5px,#e13300 393.5px,#ec7f00 423.5px,#eb7700 430.5px,#e86100 436.5px,#e33d00 442.5px,#d30400 449.5px,#cd0800 450.5px,#c51700 451.5px,#ba2900 452.5px,#995b00 454.5px,#517700 456.5px,#3f7d01 457.5px,#487a00 473.5px,#7d6800 484.5px,#00934c 485.5px,#021c5c 486.5px,#021c5c 511.5px)"></i>
<i style="background:linear-gradient(#021c5c 0.5px,#021c5c 3.5px,#00962f 4.5px,#039104 296.5px,#198a03 344.5px,#1b8903 345.5px,#487a00 350.5px,#985c00 356.5px,#a74500 359.5px,#ab3f00 361.5px,#bd2500 364.5px,#d10100 372.5px,#e13300 392.5px,#ec7e00 423.5px,#eb7800 429.5px,#e75f00 436.5px,#e23c00 442.5px,#d30300 449.5px,#cc0a00 450.5px,#c41900 451.5px,#b82c00 452.5px,#975d00 454.5px,#4d7800 456.5px,#338101 457.5px,#2f8201 458.5px,#378001 473.5px,#467b00 478.5px,#627100 484.5px,#00934c 485.5px,#021c5c 486.5px,#021c5c 511.5px)"></i>
<i style="background:linear-gradient(#021c5c 0.5px,#021c5c 3.5px,#00962f 4.5px,#039104 296.5px,#198a03 343.5px,#1b8903 344.5px,#487a00 349.5px,#985d00 355.5px,#a74500 358.5px,#a84300 360.5px,#be2200 364.5px,#d20000 372.5px,#e13200 392.5px,#eb7a00 423.5px,#ea7100 430.5px,#e75c00 436.5px,#e23900 442.5px,#d20200 449.5px,#c31b00 451.5px,#955f00 454.5px,#497a00 456.5px,#308201 457.5px,#2d8302 458.5px,#358001 473.5px,#477a00 479.5px,#5f7200 484.5px,#00934c 485.5px,#021c5c 486.5px,#021c5c 511.5px)"></i>
<i style="background:linear-gradient(#021c5c 0.5px,#021c5c 3.5px,#00962f 4.5px,#039104 296.5px,#168b03 338.5px,#487a00 344.5px,#965f00 350.5px,#a54900 353.5px,#a94300 356.5px,#bd2400 360.5px,#d20100 369.5px,#e13200 389.5px,#ed8100 423.5px,#eb7800 430.5px,#e86100 436.5px,#e23c00 442.5px,#d20100 449.5px,#c11d00 451.5px,#a14f00 453.5px,#8b6300 454.5px,#427c00 456.5px,#348101 457.5px,#3d7e01 473.5px,#4a7900 477.5px,#6c6e00 484.5px,#00934c 485.5px,#021c5c 486.5px,#021c5c 511.5px)"></i>
<i style="background:linear-gradient(#021c5c 0.5px,#021c5c 3.5px,#00962f 4.5px,#039104 296.5px,#118c03 326.5px,#467b00 333.5px,#975e00 340.5px,#a44a00 343.5px,#a94200 347.5px,#bf2100 352.5px,#d20000 361.5px,#e13300 383.5px,#eb7800 413.5px,#ee8a00 423.5px,#ed8200 429.5px,#e96d00 435.5px,#e65400 439.5px,#e23600 443.5px,#d40800 448.5px,#d00300 449.5px,#be2400 451.5px,#9a5900 453.5px,#796900 454.5px,#527600 455.5px,#368001 456.5px,#2f8201 457.5px,#387f01 473.5px,#477a00 478.5px,#637100 484.5px,#00934c 485.5px,#021c5c 486.5px,#021c5c 511.5px)"></i>
<i style="background:linear-gradient(#021c5c 0.5px,#021c5c 3.5px,#00962f 4.5px,#039104 296.5px,#0c8e03 315.5px,#457b00 323.5px,#916100 330.5px,#985b00 331.5px,#a54800 334.5px,#aa4100 339.5px,#be2300 344.5px,#d20000 354.5px,#e13300 378.5px,#eb7800 411.5px,#ee8c00 423.5px,#ed8400 429.5px,#e96d00 435.5px,#e44400 441.5px,#d30400 448.5px,#cc0a00 449.5px,#c31a00 450.5px,#a24d00 452.5px,#8c6200 453.5px,#417c00 455.5px,#3c7e01 456.5px,#447b00 473.5px,#776a00 484.5px,#00934c 485.5px,#021c5c 486.5px,#021c5c 511.5px)"></i>
<i style="background:linear-gradient(#021c5c 0.5px,#021c5c 3.5px,#00962f 4.5px,#039104 296.5px,#079004 306.5px,#088f04 307.5px,#477a00 316.5px,#985c00 324.5px,#a74500 328.5px,#ab4000 334.5px,#be2200 339.5px,#d20100 350.5px,#e13200 374.5px,#eb7700 408.5px,#ef8f00 423.5px,#ed8600 429.5px,#ea6f00 435.5px,#e44400 441.5px,#d20200 448.5px,#c01f00 450.5px,#9d5500 452.5px,#7f6700 453.5px,#577500 454.5px,#477a00 455.5px,#487a00 462.5px,#527600 472.5px,#8a6300 484.5px,#00934c 485.5px,#021c5c 486.5px,#021c5c 511.5px)"></i>
<i style="background:linear-gradient(#021c5c 0.5px,#021c5c 3.5px,#00962f 4.5px,#049104 299.5px,#467b00 309.5px,#965f00 317.5px,#a54800 321.5px,#ad3c00 330.5px,#bf2100 335.5px,#d20100 346.5px,#e13100 370.5px,#eb7800 405.5px,#f09500 423.5px,#ee8c00 429.5px,#ea7300 435.5px,#e44700 441.5px,#d30300 448.5px,#cb0d00 449.5px,#c11e00 450.5px,#9e5400 452.5px,#816600 453.5px,#597400 454.5px,#3a7f01 455.5px,#358001 456.5px,#3d7e01 473.5px,#4a7900 477.5px,#6c6e00 484.5px,#00934c 485.5px,#021c5c 486.5px,#021c5c 511.5px)"></i>
<i style="background:linear-gradient(#021c5c 0.5px,#021c5c 3.5px,#00962f 4.5px,#039105 290.5px,#477a00 301.5px,#946000 309.5px,#995b00 310.5px,#a74500 314.5px,#af3900 325.5px,#be2400 329.5px,#d20000 341.5px,#e13300 368.5px,#eb7800 404.5px,#f09400 423.5px,#ee8b00 429.5px,#ea7400 435.5px,#e75900 439.5px,#e02f00 444.5px,#d40700 448.5px,#cf0500 449.5px,#b92a00 451.5px,#a54800 452.5px,#965f00 453.5px,#487a00 455.5px,#2f8201 456.5px,#2d8302 472.5px,#477a00 481.5px,#547600 484.5px,#00934c 485.5px,#021c5c 486.5px,#021c5c 511.5px)"></i>
<i style="background:linear-gradient(#021c5c 0.5px,#021c5c 3.5px,#00962f 4.5px,#039106 281.5px,#049104 282.5px,#487a00 293.5px,#936000 301.5px,#985c00 302.5px,#a64700 306.5px,#b03700 320.5px,#bf2100 325.5px,#d20000 337.5px,#e13100 365.5px,#eb7800 405.5px,#ef9100 423.5px,#ee8900 429.5px,#ea7300 435.5px,#e44400 442.5px,#d30400 449.5px,#cd0900 450.5px,#c31900 451.5px,#b62f00 452.5px,#a34b00 453.5px,#916100 454.5px,#467b00 456.5px,#328101 457.5px,#3b7e01 473.5px,#4b7900 478.5px,#686f00 484.5px,#00934c 485.5px,#021c5c 486.5px,#021c5c 511.5px)"></i>
<i style="background:linear-gradient(#021c5c 0.5px,#021c5c 3.5px,#00962f 4.5px,#01941e 97.5px,#029313 196.5px,#039104 247.5px,#1a8903 277.5px,#477a00 285.5px,#965f00 294.5px,#a74500 299.5px,#b43200 317.5px,#bf2200 321.5px,#d20100 334.5px,#e13200 363.5px,#eb7800 404.5px,#ef9100 423.5px,#ee8700 430.5px,#ea7000 436.5px,#e34100 443.5px,#d30300 450.5px,#cc0b00 451.5px,#c21b00 452.5px,#916100 455.5px,#497a00 457.5px,#4a7900 462.5px,#547600 472.5px,#8c6200 484.5px,#00934c 485.5px,#021c5c 486.5px,#021c5c 511.5px)"></i>
<i style="background:linear-gradient(#021c5c 0.5px,#021c5c 3.5px,#00962f 4.5px,#01941e 97.5px,#029313 196.5px,#049104 213.5px,#497a00 241.5px,#965f00 263.5px,#a74500 277.5px,#ab4000 305.5px,#ae3a00 310.5px,#b82d00 319.5px,#d20100 334.5px,#e13200 363.5px,#eb7800 403.5px,#f09400 423.5px,#ee8a00 430.5px,#ea7400 436.5px,#e44600 443.5px,#d20100 451.5px,#c02000 453.5px,#9f5200 455.5px,#886400 456.5px,#647000 457.5px,#547600 458.5px,#5f7200 472.5px,#965f00 484.5px,#00934c 485.5px,#021c5c 486.5px,#021c5c 511.5px)"></i>
<i style="background:linear-gradient(#021c5c 0.5px,#021c5c 3.5px,#00962f 4.5px,#01941e 97.5px,#029313 196.5px,#039104 247.5px,#1f8802 287.5px,#4b7900 294.5px,#965f00 302.5px,#a44a00 306.5px,#a74500 307.5px,#b43100 324.5px,#be2200 327.5px,#d20100 339.5px,#e13200 365.5px,#eb7800 401.5px,#f19a00 423.5px,#ef9200 429.5px,#eb7900 436.5px,#e44a00 443.5px,#d30300 451.5px,#cc0b00 452.5px,#c31a00 453.5px,#955f00 456.5px,#4e7800 458.5px,#3a7f01 459.5px,#437c00 473.5px,#756a00 484.5px,#00934c 485.5px,#021c5c 486.5px,#021c5c 511.5px)"></i>
<i style="background:linear-gradient(#021c5c 0.5px,#021c5c 3.5px,#00962f 4.5px,#039105 291.5px,#477a00 302.5px,#955f00 310.5px,#995a00 311.5px,#a74500 315.5px,#b13600 328.5px,#bf2100 332.5px,#d20100 343.5px,#e13100 366.5px,#eb7700 398.5px,#f2a300 423.5px,#f09600 430.5px,#eb7900 437.5px,#e54e00 443.5px,#d30400 451.5px,#cc0a00 452.5px,#c31a00 453.5px,#936000 456.5px,#4b7900 458.5px,#348101 459.5px,#2d8302 460.5px,#2d8302 475.5px,#487a00 484.5px,#00934c 485.5px,#021c5c 486.5px,#021c5c 511.5px)"></i>
<i style="background:linear-gradient(#021c5c 0.5px,#021c5c 3.5px,#00962f 4.5px,#049104 298.5px,#467b00 308.5px,#965f00 316.5px,#a74500 321.5px,#ae3c00 330.5px,#bf2200 335.5px,#d20100 345.5px,#e13300 368.5px,#eb7900 398.5px,#f3a800 423.5px,#f19a00 430.5px,#ec7b00 437.5px,#e54e00 443.5px,#e13200 446.5px,#d20100 451.5px,#c01f00 453.5px,#9f5200 455.5px,#886400 456.5px,#427c00 458.5px,#2d8302 459.5px,#2d8302 477.5px,#427c00 484.5px,#00934c 485.5px,#021c5c 486.5px,#021c5c 511.5px)"></i>
<i style="background:linear-gradient(#021c5c 0.5px,#021c5c 3.5px,#00962f 4.5px,#039104 296.5px,#079004 304.5px,#4a7900 314.5px,#936000 321.5px,#995b00 322.5px,#a74500 326.5px,#ac3e00 333.5px,#be2200 338.5px,#d20000 348.5px,#e13200 370.5px,#eb7800 399.5px,#f3a600 423.5px,#f19800 430.5px,#eb7900 437.5px,#e75c00 441.5px,#e02f00 446.5px,#d40800 450.5px,#d00400 451.5px,#bb2700 453.5px,#a74500 454.5px,#995b00 455.5px,#547600 457.5px,#387f01 458.5px,#2d8302 459.5px,#2d8302 476.5px,#447b00 484.5px,#00934c 485.5px,#021c5c 486.5px,#021c5c 511.5px)"></i>
<i style="background:linear-gradient(#021c5c 0.5px,#021c5c 3.5px,#00962f 4.5px,#039104 296.5px,#098f04 310.5px,#0a8f04 311.5px,#437c00 319.5px,#965e00 327.5px,#a74600 331.5px,#ab3f00 337.5px,#bf2100 342.5px,#d10100 351.5px,#e13300 373.5px,#eb7800 401.5px,#f2a300 423.5px,#f09600 430.5px,#eb7700 437.5px,#e44800 443.5px,#d30400 450.5px,#cd0a00 451.5px,#c31a00 452.5px,#a24c00 454.5px,#906100 455.5px,#477a00 457.5px,#2f8201 458.5px,#2d8302 476.5px,#457b00 484.5px,#00934c 485.5px,#021c5c 486.5px,#021c5c 511.5px)"></i>
<i style="background:linear-gradient(#021c5c 0.5px,#021c5c 3.5px,#00962f 4.5px,#039104 296.5px,#0c8e03 316.5px,#457b00 324.5px,#926000 331.5px,#995b00 332.5px,#a54800 335.5px,#aa4000 340.5px,#bf2100 345.5px,#d20000 354.5px,#e13300 375.5px,#eb7800 402.5px,#f2a300 423.5px,#f09500 430.5px,#eb7600 437.5px,#e44700 443.5px,#d30300 450.5px,#cb0c00 451.5px,#c11d00 452.5px,#9f5100 454.5px,#896400 455.5px,#427c00 457.5px,#318201 458.5px,#397f01 473.5px,#497a00 478.5px,#667000 484.5px,#00934c 485.5px,#021c5c 486.5px,#021c5c 511.5px)"></i>
<i style="background:linear-gradient(#021c5c 0.5px,#021c5c 3.5px,#00962f 4.5px,#039104 294.5px,#108d03 320.5px,#128c03 321.5px,#467b00 328.5px,#965f00 335.5px,#a74500 339.5px,#a94300 342.5px,#be2300 347.5px,#d20100 356.5px,#e13200 376.5px,#eb7700 402.5px,#f2a300 423.5px,#f09600 430.5px,#eb7600 437.5px,#e44700 443.5px,#d30300 450.5px,#cb0c00 451.5px,#c21d00 452.5px,#a05000 454.5px,#8a6300 455.5px,#447b00 457.5px,#4d7800 472.5px,#856500 484.5px,#00934c 485.5px,#021c5c 486.5px,#021c5c 511.5px)"></i>
<i style="background:linear-gradient(#021c5c 0.5px,#021c5c 3.5px,#00962f 4.5px,#039104 274.5px,#298402 330.5px,#487a00 334.5px,#906100 340.5px,#985c00 341.5px,#a64700 344.5px,#a94300 347.5px,#bf2100 352.5px,#d20000 360.5px,#e13100 378.5px,#eb7800 403.5px,#f3a600 423.5px,#f19800 430.5px,#eb7900 437.5px,#e44a00 443.5px,#d40700 450.5px,#ce0600 451.5px,#c51700 452.5px,#b92b00 453.5px,#a54800 454.5px,#975e00 455.5px,#4e7800 457.5px,#3a7f01 458.5px,#437c00 473.5px,#756a00 484.5px,#00934c 485.5px,#021c5c 486.5px,#021c5c 511.5px)"></i>
<i style="background:linear-gradient(#021c5c 0.5px,#021c5c 3.5px,#00952d 4.5px,#039104 195.5px,#138c03 217.5px,#487a00 273.5px,#965f00 320.5px,#b03900 356.5px,#be2200 359.5px,#d10200 366.5px,#e13100 382.5px,#eb7900 404.5px,#f4ac00 423.5px,#f19e00 430.5px,#eb7800 438.5px,#e44800 444.5px,#d30300 451.5px,#cc0b00 452.5px,#c21c00 453.5px,#a24e00 455.5px,#8f6100 456.5px,#487a00 458.5px,#318201 459.5px,#397f01 473.5px,#487a00 478.5px,#657000 484.5px,#00934c 485.5px,#021c5c 486.5px,#021c5c 511.5px)"></i>
<i style="background:linear-gradient(#021c5c 0.5px,#021c5c 3.5px,#069004 4.5px,#487a00 76.5px,#965f00 129.5px,#be2300 196.5px,#d20000 258.5px,#e02f00 383.5px,#e03000 384.5px,#eb7900 402.5px,#f7c000 423.5px,#f4ae00 430.5px,#ec7d00 439.5px,#e23600 447.5px,#d30300 452.5px,#cb0c00 453.5px,#c11d00 454.5px,#a14f00 456.5px,#8e6200 457.5px,#487a00 459.5px,#328101 460.5px,#2d8302 461.5px,#2d8302 473.5px,#507700 484.5px,#00934c 485.5px,#021c5c 486.5px,#021c5c 511.5px)"></i>
<i style="background:linear-gradient(#021c5c 0.5px,#021c5c 3.5px,#ce0700 4.5px,#d20000 28.5px,#d60d00 91.5px,#e13200 249.5px,#e75a00 393.5px,#f5b000 415.5px,#f8cb00 423.5px,#f7c200 427.5px,#f5b200 431.5px,#ed8300 439.5px,#e96c00 442.5px,#e13300 448.5px,#d20000 453.5px,#bf2100 455.5px,#9e5300 457.5px,#896400 458.5px,#467b00 460.5px,#308201 461.5px,#2d8302 462.5px,#2d8302 475.5px,#467b00 484.5px,#00934c 485.5px,#021c5c 486.5px,#021c5c 511.5px)"></i>
</div>
<div id="cb"></div>
<div class="g"><span class="t" style="left:185.3px;top:4.4797px;font-size:14.2px;transform-origin:0 0;transform:scaleX(0.8364);">NEAR</span> <span class="t" style="left:226.3px;top:4.4797px;font-size:14.2px;transform-origin:0 0;transform:scaleX(0.8024);">X</span><span class="t" style="left:234.4px;top:4.4797px;font-size:14.2px;transform-origin:0 0;transform:scaleX(2.2419);">-</span><span class="t" style="left:245.3px;top:4.4797px;font-size:14.2px;transform-origin:0 0;transform:scaleX(0.9346);">Ray</span> <span class="t" style="left:275.8px;top:4.4797px;font-size:14.2px;letter-spacing:-0.011px;">Analysis</span></div>
<div class="g"><span class="t" style="left:392.5px;top:5.8341px;font-size:12.6px;letter-spacing:0.049px;">Date: Thu Jun</span>  <span class="t" style="left:483.8px;top:5.8341px;font-size:12.6px;letter-spacing:0.576px;">7 11:05:46 2001</span></div>
<div class="g"><span class="t" style="left:7px;top:21.588px;font-size:12.3px;transform-origin:0 0;transform:scaleX(0.9259);">256</span></div>
<div class="g"><span class="t" style="left:17.5px;top:535.088px;font-size:12.3px;">0</span></div>
<div class="g"><span class="t" style="left:37.5px;top:545.588px;font-size:12.3px;">0</span></div>
<div class="g"><span class="t" style="left:247.5px;top:545.588px;font-size:12.3px;transform-origin:0 0;transform:scaleX(0.9120);">File Time</span></div>
<div class="g"><span class="t" style="left:500.5px;top:545.088px;font-size:12.3px;transform-origin:0 0;transform:scaleX(0.8955);">1719</span></div>
<div class="g"><span class="t" style="left:21.5px;top:632.434px;font-size:12.6px;letter-spacing:0.016px;">LOG10 Normalized Spectrogram Scale</span></div>
<div class="g"><span class="t" style="left:21.5px;top:668.088px;font-size:12.3px;letter-spacing:0.451px;">0.0</span></div>
<div class="g"><span class="t" style="left:180px;top:668.088px;font-size:12.3px;letter-spacing:-0.049px;">0.5</span></div>
<div class="g"><span class="t" style="left:342px;top:668.088px;font-size:12.3px;transform-origin:0 0;transform:scaleX(0.9651);">1.0</span></div>
<div class="g"><span class="t" style="left:368.3px;top:639.134px;font-size:12.6px;letter-spacing:0.261px;">Spect type=</span> <span class="t" style="left:444.5px;top:639.134px;font-size:12.6px;transform-origin:0 0;transform:scaleX(0.8349);">ACTIVE SOLAR,</span>  <span class="t" style="left:537.5px;top:639.134px;font-size:12.6px;letter-spacing:-0.063px;">256 Channels,</span>        <span class="t" style="left:666px;top:639.134px;font-size:12.6px;">1</span> <span class="t" style="left:679.5px;top:639.134px;font-size:12.6px;letter-spacing:0.676px;">ch/bin</span></div>
<div class="g"><span class="t" style="left:368.3px;top:658.634px;font-size:12.6px;letter-spacing:-0.113px;">Directory</span> <span class="t" style="left:424.5px;top:658.634px;font-size:12.6px;transform-origin:0 0;transform:scaleX(1.2909);">=</span> <span class="t" style="left:439.5px;top:658.634px;font-size:12.6px;letter-spacing:0.943px;">/near/xdr/XRS/2001/01-01/Xdaily-01_27_01out/</span></div>
<div class="g"><span class="t" style="left:46.8px;top:301.3px;font-size:12.6px;transform-origin:0 0;transform:rotate(-90deg) translateY(-10.67px) scaleX(0.927)">Channel</span> <span class="t" style="left:46.8px;top:251.5px;font-size:12.6px;transform-origin:0 0;transform:rotate(-90deg) translateY(-10.67px) scaleX(1.070)">#</span> <span class="t" style="left:46.8px;top:238.5px;font-size:12.6px;transform-origin:0 0;transform:rotate(-90deg) translateY(-10.67px) scaleX(2.423)">---</span><span class="t" style="left:46.8px;top:209.5px;font-size:12.6px;transform-origin:0 0;transform:rotate(-90deg) translateY(-10.67px) scaleX(1.087)">&gt;</span></div>
</body></html>
